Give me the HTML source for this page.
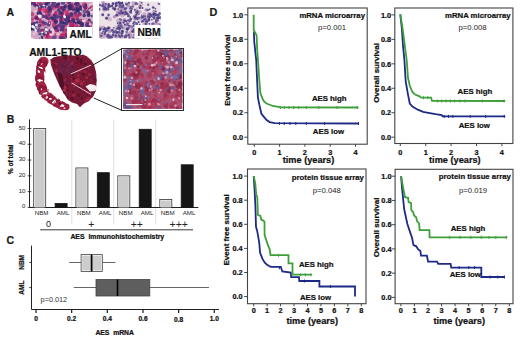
<!DOCTYPE html>
<html><head><meta charset="utf-8"><style>
html,body{margin:0;padding:0;background:#fff;}
body{width:520px;height:338px;overflow:hidden;font-family:"Liberation Sans",sans-serif;}
svg{display:block;}
</style></head><body>
<svg width="520" height="338" viewBox="0 0 520 338" font-family="Liberation Sans, sans-serif">
<defs>
<clipPath id="cAML"><rect x="31" y="2" width="61.6" height="37"/></clipPath>
<clipPath id="cNBM"><rect x="99" y="1.5" width="61.6" height="37"/></clipPath>
<clipPath id="cINS"><rect x="123.2" y="49.5" width="59.1" height="59.3"/></clipPath>
<filter id="blur1"><feGaussianBlur stdDeviation="0.5"/></filter>
</defs>
<rect width="520" height="338" fill="#ffffff"/>
<text x="6.5" y="15.5" font-size="10.5" font-weight="bold" stroke="#1a1a1a" stroke-width="0.22" text-anchor="start" fill="#1a1a1a" >A</text>
<rect x="31" y="2" width="61.6" height="37" fill="#cfa4c4" stroke="none" stroke-width="1" />
<g filter="url(#blur1)">
<g clip-path="url(#cAML)">
<ellipse cx="50.95" cy="7.58" rx="2.23" ry="1.4" transform="rotate(15.47 50.95 7.58)" fill="#d04a80" fill-opacity="0.73"/>
<circle cx="56.76" cy="10.9" r="1.77" fill="#d04a80" fill-opacity="0.74"/>
<ellipse cx="69.65" cy="37.07" rx="2.02" ry="1.62" transform="rotate(21.2 69.65 37.07)" fill="#b02060" fill-opacity="0.71"/>
<ellipse cx="50" cy="32.2" rx="1.95" ry="1.69" transform="rotate(37.07 50 32.2)" fill="#b02060" fill-opacity="0.81"/>
<circle cx="72.91" cy="17.82" r="2.34" fill="#a81e5a" fill-opacity="0.81"/>
<ellipse cx="42.07" cy="30.85" rx="1.92" ry="2.22" transform="rotate(21.25 42.07 30.85)" fill="#a81e5a" fill-opacity="0.96"/>
<circle cx="56.76" cy="30.01" r="2.24" fill="#c02a68" fill-opacity="0.99"/>
<ellipse cx="65.38" cy="31.2" rx="2.13" ry="2.15" transform="rotate(170.04 65.38 31.2)" fill="#cc3a74" fill-opacity="0.88"/>
<ellipse cx="60.2" cy="26.57" rx="2.33" ry="2.11" transform="rotate(120.36 60.2 26.57)" fill="#d04a80" fill-opacity="1"/>
<circle cx="32.39" cy="19.08" r="1.83" fill="#c02a68" fill-opacity="0.77"/>
<ellipse cx="76.48" cy="16.72" rx="2.79" ry="2.31" transform="rotate(155.52 76.48 16.72)" fill="#b02060" fill-opacity="0.83"/>
<circle cx="48.15" cy="17.37" r="2.67" fill="#b02060" fill-opacity="0.75"/>
<circle cx="45.29" cy="10.63" r="2.35" fill="#cc3a74" fill-opacity="0.78"/>
<ellipse cx="63.93" cy="24.56" rx="2.15" ry="1.62" transform="rotate(156.78 63.93 24.56)" fill="#d04a80" fill-opacity="0.99"/>
<ellipse cx="89.64" cy="27.18" rx="1.78" ry="1.55" transform="rotate(37.58 89.64 27.18)" fill="#a81e5a" fill-opacity="0.73"/>
<ellipse cx="41" cy="14.58" rx="1.88" ry="1.24" transform="rotate(37.43 41 14.58)" fill="#b02060" fill-opacity="0.86"/>
<ellipse cx="54.18" cy="25.47" rx="3.06" ry="2.09" transform="rotate(87.09 54.18 25.47)" fill="#a81e5a" fill-opacity="0.74"/>
<circle cx="36.29" cy="5.78" r="1.99" fill="#b02060" fill-opacity="0.85"/>
<circle cx="87.31" cy="30.05" r="2.41" fill="#c02a68" fill-opacity="0.91"/>
<circle cx="53.59" cy="8.18" r="2.29" fill="#d04a80" fill-opacity="0.8"/>
<circle cx="80.99" cy="38.44" r="2.59" fill="#a81e5a" fill-opacity="0.92"/>
<circle cx="62.89" cy="15.16" r="1.73" fill="#cc3a74" fill-opacity="0.84"/>
<circle cx="68.28" cy="14.74" r="2.5" fill="#cc3a74" fill-opacity="0.99"/>
<ellipse cx="44.58" cy="10.39" rx="1.54" ry="2.05" transform="rotate(61.92 44.58 10.39)" fill="#d04a80" fill-opacity="1"/>
<circle cx="70.62" cy="32.88" r="2.13" fill="#b02060" fill-opacity="0.84"/>
<ellipse cx="79.61" cy="14.3" rx="2.33" ry="2.11" transform="rotate(178.76 79.61 14.3)" fill="#a81e5a" fill-opacity="0.84"/>
<ellipse cx="32.7" cy="23.86" rx="2.73" ry="2.03" transform="rotate(98.76 32.7 23.86)" fill="#d04a80" fill-opacity="0.95"/>
<circle cx="39.07" cy="2.53" r="2.41" fill="#d04a80" fill-opacity="0.92"/>
<circle cx="91.77" cy="9.21" r="1.73" fill="#b02060" fill-opacity="0.79"/>
<ellipse cx="67.12" cy="11.6" rx="2.23" ry="1.67" transform="rotate(148.89 67.12 11.6)" fill="#cc3a74" fill-opacity="0.97"/>
<ellipse cx="85.1" cy="6.84" rx="2.69" ry="1.72" transform="rotate(25.48 85.1 6.84)" fill="#a81e5a" fill-opacity="0.93"/>
<ellipse cx="69.14" cy="6.45" rx="2.09" ry="2.26" transform="rotate(44.73 69.14 6.45)" fill="#d04a80" fill-opacity="0.87"/>
<ellipse cx="65.6" cy="30.12" rx="1.97" ry="1.77" transform="rotate(91.47 65.6 30.12)" fill="#d04a80" fill-opacity="0.99"/>
<ellipse cx="80.73" cy="20.79" rx="2.05" ry="2" transform="rotate(74.99 80.73 20.79)" fill="#cc3a74" fill-opacity="0.98"/>
<ellipse cx="55.17" cy="13.69" rx="2.71" ry="1.65" transform="rotate(128.9 55.17 13.69)" fill="#b02060" fill-opacity="0.9"/>
<circle cx="71.67" cy="7.29" r="2.76" fill="#b02060" fill-opacity="0.92"/>
<circle cx="85.51" cy="8.02" r="1.95" fill="#a81e5a" fill-opacity="1"/>
<circle cx="56.95" cy="15.19" r="2.1" fill="#cc3a74" fill-opacity="0.87"/>
<ellipse cx="32.11" cy="14.27" rx="2.07" ry="2.38" transform="rotate(15.13 32.11 14.27)" fill="#c02a68" fill-opacity="0.73"/>
<ellipse cx="47.75" cy="35.52" rx="3.22" ry="2.18" transform="rotate(96.59 47.75 35.52)" fill="#a81e5a" fill-opacity="0.95"/>
<circle cx="62.71" cy="20.3" r="2.01" fill="#b02060" fill-opacity="0.83"/>
<ellipse cx="88.8" cy="25.47" rx="1.84" ry="1.5" transform="rotate(99.55 88.8 25.47)" fill="#b02060" fill-opacity="0.72"/>
<ellipse cx="88.08" cy="11.91" rx="2.12" ry="1.76" transform="rotate(167.8 88.08 11.91)" fill="#b02060" fill-opacity="0.98"/>
<ellipse cx="69.73" cy="21.65" rx="2.84" ry="1.57" transform="rotate(3.32 69.73 21.65)" fill="#b02060" fill-opacity="0.78"/>
<ellipse cx="62.15" cy="38.19" rx="2" ry="1.77" transform="rotate(150.23 62.15 38.19)" fill="#a81e5a" fill-opacity="0.73"/>
<ellipse cx="55.21" cy="20.75" rx="3.24" ry="2.1" transform="rotate(178.1 55.21 20.75)" fill="#cc3a74" fill-opacity="0.76"/>
<circle cx="91.48" cy="32.97" r="2.39" fill="#cc3a74" fill-opacity="0.83"/>
<circle cx="71.98" cy="16.09" r="2.77" fill="#d04a80" fill-opacity="0.77"/>
<ellipse cx="59.3" cy="7.83" rx="1.83" ry="2.16" transform="rotate(55.72 59.3 7.83)" fill="#cc3a74" fill-opacity="0.99"/>
<circle cx="52.97" cy="2.04" r="2.22" fill="#d04a80" fill-opacity="0.9"/>
<circle cx="78.82" cy="5.36" r="1.86" fill="#d04a80" fill-opacity="0.71"/>
<ellipse cx="49.74" cy="10.61" rx="2.83" ry="1.95" transform="rotate(58.7 49.74 10.61)" fill="#b02060" fill-opacity="0.9"/>
<ellipse cx="91.66" cy="7.53" rx="2.54" ry="2.1" transform="rotate(126.19 91.66 7.53)" fill="#c02a68" fill-opacity="0.95"/>
<ellipse cx="62.14" cy="35.67" rx="2.9" ry="2.26" transform="rotate(124.8 62.14 35.67)" fill="#c02a68" fill-opacity="0.95"/>
<circle cx="45.16" cy="3.15" r="2.1" fill="#c02a68" fill-opacity="0.81"/>
<ellipse cx="34.13" cy="2.7" rx="2.31" ry="1.77" transform="rotate(96.34 34.13 2.7)" fill="#cc3a74" fill-opacity="0.7"/>
<circle cx="71.61" cy="4.44" r="1.98" fill="#c02a68" fill-opacity="0.95"/>
<ellipse cx="77.6" cy="10.54" rx="2.08" ry="1.59" transform="rotate(113.9 77.6 10.54)" fill="#a81e5a" fill-opacity="0.72"/>
<circle cx="43.21" cy="24.19" r="2.42" fill="#cc3a74" fill-opacity="0.89"/>
<circle cx="60.72" cy="19.97" r="1.81" fill="#b02060" fill-opacity="0.9"/>
<ellipse cx="62.82" cy="19.19" rx="2.32" ry="1.29" transform="rotate(82.61 62.82 19.19)" fill="#d04a80" fill-opacity="0.76"/>
<ellipse cx="81.51" cy="37.82" rx="1.67" ry="1.47" transform="rotate(134.55 81.51 37.82)" fill="#b02060" fill-opacity="0.97"/>
<ellipse cx="47.13" cy="15.3" rx="2.19" ry="2.54" transform="rotate(87.51 47.13 15.3)" fill="#cc3a74" fill-opacity="0.97"/>
<circle cx="32.53" cy="2.13" r="2.2" fill="#cc3a74" fill-opacity="0.92"/>
<circle cx="54.17" cy="6.47" r="2.06" fill="#cc3a74" fill-opacity="0.95"/>
<circle cx="88.07" cy="28.38" r="2.02" fill="#cc3a74" fill-opacity="0.72"/>
<circle cx="84.59" cy="4.83" r="2.53" fill="#c02a68" fill-opacity="0.78"/>
<circle cx="71.78" cy="25.49" r="2.77" fill="#a81e5a" fill-opacity="0.85"/>
<circle cx="81.02" cy="25.34" r="2.73" fill="#d04a80" fill-opacity="0.76"/>
<ellipse cx="87.17" cy="22.35" rx="2.78" ry="1.73" transform="rotate(118.08 87.17 22.35)" fill="#cc3a74" fill-opacity="0.79"/>
<ellipse cx="49.53" cy="22.62" rx="2.27" ry="1.73" transform="rotate(81.54 49.53 22.62)" fill="#b02060" fill-opacity="0.72"/>
<circle cx="64.74" cy="11.03" r="2.31" fill="#cc3a74" fill-opacity="0.77"/>
<circle cx="66.09" cy="34.83" r="2.15" fill="#a81e5a" fill-opacity="0.92"/>
<ellipse cx="66.38" cy="15.33" rx="2.26" ry="2.19" transform="rotate(77.73 66.38 15.33)" fill="#b02060" fill-opacity="0.73"/>
<circle cx="38.84" cy="17.73" r="2.58" fill="#d04a80" fill-opacity="0.85"/>
<circle cx="88.3" cy="36.34" r="2.21" fill="#a81e5a" fill-opacity="0.77"/>
<ellipse cx="40.51" cy="21.33" rx="2.19" ry="2.05" transform="rotate(102.49 40.51 21.33)" fill="#a81e5a" fill-opacity="0.73"/>
<ellipse cx="69.59" cy="21.55" rx="2.77" ry="2.17" transform="rotate(40.24 69.59 21.55)" fill="#c02a68" fill-opacity="0.72"/>
<ellipse cx="68.03" cy="2.39" rx="2.29" ry="1.75" transform="rotate(44.47 68.03 2.39)" fill="#cc3a74" fill-opacity="0.89"/>
<ellipse cx="90.17" cy="28.07" rx="1.45" ry="1.36" transform="rotate(76.38 90.17 28.07)" fill="#a81e5a" fill-opacity="0.97"/>
<circle cx="53.81" cy="20.24" r="2.49" fill="#cc3a74" fill-opacity="0.9"/>
<ellipse cx="80.1" cy="29.35" rx="1.76" ry="1.52" transform="rotate(136.88 80.1 29.35)" fill="#b02060" fill-opacity="0.79"/>
<circle cx="42.54" cy="10.26" r="2.43" fill="#d04a80" fill-opacity="0.74"/>
<circle cx="44.12" cy="38.04" r="1.76" fill="#c02a68" fill-opacity="0.76"/>
<circle cx="74.86" cy="13.63" r="1.79" fill="#b02060" fill-opacity="0.8"/>
<ellipse cx="88.65" cy="29.61" rx="2.48" ry="1.81" transform="rotate(14.08 88.65 29.61)" fill="#a81e5a" fill-opacity="0.95"/>
<ellipse cx="35.97" cy="17.55" rx="2.21" ry="2.37" transform="rotate(15.8 35.97 17.55)" fill="#b02060" fill-opacity="0.81"/>
<ellipse cx="74.44" cy="9.24" rx="1.79" ry="1.89" transform="rotate(146.13 74.44 9.24)" fill="#cc3a74" fill-opacity="0.81"/>
<ellipse cx="78.23" cy="3.5" rx="2.21" ry="1.48" transform="rotate(49.02 78.23 3.5)" fill="#c02a68" fill-opacity="0.78"/>
<circle cx="89.99" cy="24.83" r="2.49" fill="#cc3a74" fill-opacity="0.98"/>
<circle cx="75.45" cy="24.04" r="2.74" fill="#c02a68" fill-opacity="0.71"/>
<ellipse cx="60.27" cy="37.4" rx="1.84" ry="1.91" transform="rotate(1.57 60.27 37.4)" fill="#cc3a74" fill-opacity="0.97"/>
<circle cx="40.32" cy="10.74" r="2.21" fill="#d04a80" fill-opacity="0.72"/>
<circle cx="77.38" cy="11.15" r="1.74" fill="#d04a80" fill-opacity="0.86"/>
<circle cx="57.28" cy="5.89" r="2.39" fill="#b02060" fill-opacity="0.73"/>
<circle cx="74.72" cy="18.54" r="2.16" fill="#d04a80" fill-opacity="0.97"/>
<ellipse cx="64.18" cy="30.63" rx="2.52" ry="2.55" transform="rotate(35.85 64.18 30.63)" fill="#cc3a74" fill-opacity="0.79"/>
<circle cx="46.24" cy="11.08" r="2.67" fill="#d04a80" fill-opacity="0.76"/>
<ellipse cx="46.5" cy="11.1" rx="2.06" ry="2.15" transform="rotate(147.44 46.5 11.1)" fill="#c02a68" fill-opacity="0.9"/>
<ellipse cx="82.78" cy="35.83" rx="2.46" ry="1.57" transform="rotate(13.52 82.78 35.83)" fill="#c02a68" fill-opacity="0.72"/>
<ellipse cx="62.58" cy="8.58" rx="2.83" ry="2.01" transform="rotate(66.37 62.58 8.58)" fill="#c02a68" fill-opacity="0.73"/>
<ellipse cx="39.71" cy="9.55" rx="2.37" ry="2" transform="rotate(111.78 39.71 9.55)" fill="#b02060" fill-opacity="0.94"/>
<circle cx="35.8" cy="3.16" r="2.23" fill="#a81e5a" fill-opacity="0.73"/>
<circle cx="64.89" cy="25.65" r="1.88" fill="#cc3a74" fill-opacity="0.82"/>
<circle cx="49.95" cy="37.27" r="2.32" fill="#cc3a74" fill-opacity="0.82"/>
<circle cx="78.23" cy="31.68" r="2.13" fill="#a81e5a" fill-opacity="0.76"/>
<circle cx="56.02" cy="34.67" r="1.88" fill="#c02a68" fill-opacity="0.72"/>
<ellipse cx="88.12" cy="29.28" rx="1.78" ry="1.87" transform="rotate(144.87 88.12 29.28)" fill="#b02060" fill-opacity="0.86"/>
<ellipse cx="90.56" cy="9.3" rx="3.06" ry="2.01" transform="rotate(128.22 90.56 9.3)" fill="#a81e5a" fill-opacity="0.79"/>
<ellipse cx="73.39" cy="34.97" rx="3.21" ry="2.04" transform="rotate(39.26 73.39 34.97)" fill="#d04a80" fill-opacity="0.82"/>
<ellipse cx="55.62" cy="21.16" rx="1.65" ry="1.93" transform="rotate(151.65 55.62 21.16)" fill="#b02060" fill-opacity="0.99"/>
<ellipse cx="72.41" cy="26.71" rx="2.03" ry="1.85" transform="rotate(104.87 72.41 26.71)" fill="#a81e5a" fill-opacity="0.87"/>
<ellipse cx="57.23" cy="26.38" rx="2.25" ry="1.92" transform="rotate(111.34 57.23 26.38)" fill="#c02a68" fill-opacity="0.7"/>
<circle cx="81.45" cy="32.95" r="2.14" fill="#c02a68" fill-opacity="0.74"/>
<ellipse cx="36.65" cy="18.35" rx="2.07" ry="1.58" transform="rotate(9.77 36.65 18.35)" fill="#b02060" fill-opacity="0.72"/>
<ellipse cx="62.04" cy="15.98" rx="2.23" ry="1.44" transform="rotate(176.71 62.04 15.98)" fill="#c02a68" fill-opacity="1"/>
<circle cx="61.3" cy="37.4" r="1.88" fill="#b02060" fill-opacity="0.72"/>
<ellipse cx="77.58" cy="7.87" rx="2.52" ry="1.57" transform="rotate(47.32 77.58 7.87)" fill="#a81e5a" fill-opacity="0.74"/>
<circle cx="62.17" cy="13.81" r="1.9" fill="#b02060" fill-opacity="0.89"/>
<ellipse cx="51.19" cy="15.94" rx="2.55" ry="1.75" transform="rotate(93.86 51.19 15.94)" fill="#d04a80" fill-opacity="0.71"/>
</g>
<g clip-path="url(#cAML)">
<circle cx="73.43" cy="35.16" r="1.78" fill="#56357e" fill-opacity="0.92"/>
<circle cx="54.15" cy="15.65" r="1.6" fill="#3a2e72" fill-opacity="0.83"/>
<ellipse cx="76.81" cy="3.79" rx="1.93" ry="1.62" transform="rotate(131.95 76.81 3.79)" fill="#3c2a6c" fill-opacity="0.99"/>
<ellipse cx="77.02" cy="10.2" rx="1.61" ry="1.47" transform="rotate(117.56 77.02 10.2)" fill="#56357e" fill-opacity="0.85"/>
<circle cx="32.37" cy="2.1" r="1.4" fill="#4a3a80" fill-opacity="0.86"/>
<ellipse cx="49.55" cy="6.95" rx="1.89" ry="1.55" transform="rotate(17.24 49.55 6.95)" fill="#2e2866" fill-opacity="0.74"/>
<circle cx="70.31" cy="34.24" r="1.66" fill="#4a3a80" fill-opacity="0.99"/>
<ellipse cx="81.57" cy="35.03" rx="1.68" ry="1.93" transform="rotate(7.92 81.57 35.03)" fill="#443a86" fill-opacity="0.98"/>
<ellipse cx="63.74" cy="17.02" rx="1.72" ry="1.02" transform="rotate(35.91 63.74 17.02)" fill="#3a2e72" fill-opacity="0.7"/>
<circle cx="68.46" cy="20.76" r="2.03" fill="#2e2866" fill-opacity="0.85"/>
<ellipse cx="69.56" cy="38.78" rx="2.03" ry="1.53" transform="rotate(133.52 69.56 38.78)" fill="#443a86" fill-opacity="0.7"/>
<ellipse cx="58.87" cy="10.36" rx="1.91" ry="1.63" transform="rotate(47.39 58.87 10.36)" fill="#3a2e72" fill-opacity="0.74"/>
<circle cx="34.24" cy="25.53" r="1.92" fill="#443a86" fill-opacity="0.99"/>
<circle cx="88.2" cy="35.08" r="1.76" fill="#2e2866" fill-opacity="0.78"/>
<circle cx="76.82" cy="36.95" r="1.59" fill="#56357e" fill-opacity="0.8"/>
<ellipse cx="86.91" cy="25.34" rx="2.18" ry="1.98" transform="rotate(78.7 86.91 25.34)" fill="#443a86" fill-opacity="0.84"/>
<ellipse cx="75.64" cy="23.1" rx="1.32" ry="1.06" transform="rotate(20.14 75.64 23.1)" fill="#443a86" fill-opacity="0.88"/>
<ellipse cx="69.31" cy="7.99" rx="2.16" ry="1.89" transform="rotate(132.62 69.31 7.99)" fill="#3a2e72" fill-opacity="0.71"/>
<circle cx="35.05" cy="23.85" r="2.04" fill="#443a86" fill-opacity="0.97"/>
<circle cx="84.46" cy="35.83" r="1.4" fill="#2e2866" fill-opacity="0.76"/>
<circle cx="89.47" cy="35.71" r="1.38" fill="#3c2a6c" fill-opacity="0.89"/>
<ellipse cx="49.14" cy="14.45" rx="2.03" ry="1.63" transform="rotate(108.36 49.14 14.45)" fill="#4a3a80" fill-opacity="0.71"/>
<ellipse cx="60.33" cy="12.64" rx="1.96" ry="1.97" transform="rotate(96.82 60.33 12.64)" fill="#3a2e72" fill-opacity="0.83"/>
<ellipse cx="44.34" cy="33.9" rx="1.92" ry="2.04" transform="rotate(9.71 44.34 33.9)" fill="#2e2866" fill-opacity="0.83"/>
<ellipse cx="52.42" cy="5.54" rx="2.16" ry="1.9" transform="rotate(28.6 52.42 5.54)" fill="#56357e" fill-opacity="0.88"/>
<circle cx="81.22" cy="36.72" r="1.45" fill="#3c2a6c" fill-opacity="0.93"/>
<circle cx="92.05" cy="22.77" r="1.59" fill="#3a2e72" fill-opacity="0.82"/>
<circle cx="85.85" cy="5.19" r="1.32" fill="#2e2866" fill-opacity="0.79"/>
<ellipse cx="64.57" cy="8.33" rx="2.14" ry="1.76" transform="rotate(6.1 64.57 8.33)" fill="#56357e" fill-opacity="0.74"/>
<circle cx="66.83" cy="21.3" r="1.71" fill="#443a86" fill-opacity="0.92"/>
<ellipse cx="58.03" cy="30.62" rx="1.49" ry="1.14" transform="rotate(135.85 58.03 30.62)" fill="#56357e" fill-opacity="0.89"/>
<ellipse cx="81.91" cy="24.84" rx="1.92" ry="1.81" transform="rotate(34.07 81.91 24.84)" fill="#3c2a6c" fill-opacity="0.8"/>
<circle cx="91.07" cy="28.96" r="2.17" fill="#3a2e72" fill-opacity="0.76"/>
<circle cx="40.14" cy="13.18" r="1.55" fill="#3a2e72" fill-opacity="0.89"/>
<ellipse cx="43.72" cy="16.37" rx="1.85" ry="1.47" transform="rotate(25.53 43.72 16.37)" fill="#56357e" fill-opacity="0.91"/>
<ellipse cx="68.19" cy="16.97" rx="2.38" ry="2.2" transform="rotate(120.22 68.19 16.97)" fill="#56357e" fill-opacity="0.91"/>
<ellipse cx="71.19" cy="34.47" rx="1.87" ry="1.51" transform="rotate(113.09 71.19 34.47)" fill="#2e2866" fill-opacity="0.9"/>
<ellipse cx="37.03" cy="17.52" rx="2.02" ry="1.37" transform="rotate(154.54 37.03 17.52)" fill="#3c2a6c" fill-opacity="0.75"/>
<circle cx="62.92" cy="26.46" r="2.11" fill="#4a3a80" fill-opacity="0.93"/>
<ellipse cx="61.17" cy="38.06" rx="1.61" ry="1.5" transform="rotate(152.49 61.17 38.06)" fill="#2e2866" fill-opacity="0.91"/>
<circle cx="59.14" cy="9.58" r="1.31" fill="#4a3a80" fill-opacity="0.86"/>
<ellipse cx="89.4" cy="9.77" rx="1.85" ry="1.32" transform="rotate(68.73 89.4 9.77)" fill="#3a2e72" fill-opacity="0.92"/>
<circle cx="34.79" cy="4.78" r="1.87" fill="#3c2a6c" fill-opacity="0.81"/>
<ellipse cx="63.47" cy="10.1" rx="1.38" ry="1.68" transform="rotate(34.77 63.47 10.1)" fill="#2e2866" fill-opacity="0.75"/>
<ellipse cx="70.56" cy="28.67" rx="1.73" ry="1.27" transform="rotate(52.98 70.56 28.67)" fill="#3c2a6c" fill-opacity="0.89"/>
<circle cx="64.77" cy="6.63" r="1.62" fill="#2e2866" fill-opacity="0.78"/>
<circle cx="46.62" cy="17.77" r="1.3" fill="#3c2a6c" fill-opacity="0.94"/>
<circle cx="71.31" cy="13.85" r="1.86" fill="#3a2e72" fill-opacity="0.9"/>
<circle cx="88.21" cy="33.61" r="2.05" fill="#4a3a80" fill-opacity="0.94"/>
<circle cx="82.21" cy="25.43" r="1.31" fill="#3a2e72" fill-opacity="0.9"/>
<circle cx="37.25" cy="7.28" r="2" fill="#4a3a80" fill-opacity="0.94"/>
<ellipse cx="55.79" cy="21.78" rx="2.29" ry="1.99" transform="rotate(35.53 55.79 21.78)" fill="#3a2e72" fill-opacity="0.9"/>
<circle cx="73.68" cy="21.64" r="1.69" fill="#3a2e72" fill-opacity="0.87"/>
<ellipse cx="45.43" cy="7.16" rx="1.25" ry="1.04" transform="rotate(107.93 45.43 7.16)" fill="#56357e" fill-opacity="0.97"/>
<ellipse cx="76.25" cy="7.93" rx="1.9" ry="1.67" transform="rotate(172.91 76.25 7.93)" fill="#56357e" fill-opacity="0.9"/>
<ellipse cx="35.64" cy="25.57" rx="1.72" ry="1.36" transform="rotate(16.92 35.64 25.57)" fill="#443a86" fill-opacity="0.71"/>
<circle cx="60.82" cy="30.02" r="1.49" fill="#56357e" fill-opacity="0.89"/>
<circle cx="84.08" cy="15.55" r="1.77" fill="#2e2866" fill-opacity="0.79"/>
<ellipse cx="46.5" cy="3.95" rx="1.52" ry="1.46" transform="rotate(175.5 46.5 3.95)" fill="#56357e" fill-opacity="0.82"/>
<ellipse cx="71.32" cy="31.3" rx="1.34" ry="1.74" transform="rotate(71.8 71.32 31.3)" fill="#4a3a80" fill-opacity="0.74"/>
<circle cx="65.14" cy="17.02" r="1.66" fill="#3a2e72" fill-opacity="0.7"/>
<ellipse cx="87.76" cy="24.52" rx="2.24" ry="1.97" transform="rotate(107.34 87.76 24.52)" fill="#443a86" fill-opacity="0.88"/>
<circle cx="72.95" cy="9.86" r="1.71" fill="#2e2866" fill-opacity="0.73"/>
<ellipse cx="71.39" cy="15.65" rx="1.79" ry="1.43" transform="rotate(3.67 71.39 15.65)" fill="#443a86" fill-opacity="0.91"/>
<circle cx="65.89" cy="23.4" r="1.75" fill="#443a86" fill-opacity="0.71"/>
<ellipse cx="80.92" cy="23.29" rx="2.21" ry="1.64" transform="rotate(27.95 80.92 23.29)" fill="#3a2e72" fill-opacity="0.9"/>
<circle cx="78.43" cy="22.31" r="1.72" fill="#2e2866" fill-opacity="0.89"/>
<circle cx="31.57" cy="26.77" r="2.07" fill="#2e2866" fill-opacity="0.96"/>
<circle cx="32.1" cy="28.62" r="1.96" fill="#2e2866" fill-opacity="0.98"/>
<ellipse cx="77.03" cy="27.71" rx="2.04" ry="2.13" transform="rotate(45.73 77.03 27.71)" fill="#4a3a80" fill-opacity="0.89"/>
<ellipse cx="90.4" cy="28.54" rx="1.31" ry="1.08" transform="rotate(108.02 90.4 28.54)" fill="#3c2a6c" fill-opacity="0.91"/>
<circle cx="89.99" cy="32.89" r="1.58" fill="#443a86" fill-opacity="0.92"/>
<circle cx="41.25" cy="37.76" r="2.16" fill="#2e2866" fill-opacity="0.89"/>
<ellipse cx="79.33" cy="22.97" rx="1.31" ry="1.28" transform="rotate(175.94 79.33 22.97)" fill="#3c2a6c" fill-opacity="0.91"/>
<ellipse cx="82.21" cy="24.24" rx="1.86" ry="1.78" transform="rotate(145.35 82.21 24.24)" fill="#2e2866" fill-opacity="0.81"/>
<ellipse cx="48.45" cy="2.06" rx="2" ry="1.37" transform="rotate(25.32 48.45 2.06)" fill="#443a86" fill-opacity="0.98"/>
<ellipse cx="85.86" cy="38.73" rx="2.12" ry="1.6" transform="rotate(99.66 85.86 38.73)" fill="#443a86" fill-opacity="0.91"/>
<circle cx="80.12" cy="9.42" r="2.14" fill="#2e2866" fill-opacity="0.79"/>
<circle cx="55.36" cy="28.21" r="1.83" fill="#3a2e72" fill-opacity="0.94"/>
<ellipse cx="45.34" cy="23.44" rx="1.89" ry="1.65" transform="rotate(16.59 45.34 23.44)" fill="#443a86" fill-opacity="0.8"/>
<circle cx="84.37" cy="15.75" r="1.37" fill="#4a3a80" fill-opacity="0.88"/>
<ellipse cx="63" cy="2.76" rx="2.04" ry="2.22" transform="rotate(76.67 63 2.76)" fill="#443a86" fill-opacity="0.85"/>
<circle cx="89.3" cy="30.39" r="2.17" fill="#4a3a80" fill-opacity="0.95"/>
<circle cx="92.27" cy="15.99" r="1.33" fill="#4a3a80" fill-opacity="0.96"/>
<ellipse cx="89.35" cy="35.67" rx="1.55" ry="1.52" transform="rotate(41.98 89.35 35.67)" fill="#56357e" fill-opacity="0.98"/>
<ellipse cx="45.48" cy="28.67" rx="1.75" ry="2.29" transform="rotate(46.42 45.48 28.67)" fill="#4a3a80" fill-opacity="0.72"/>
<ellipse cx="62.62" cy="29.36" rx="2.2" ry="1.68" transform="rotate(53.78 62.62 29.36)" fill="#3a2e72" fill-opacity="0.74"/>
<circle cx="67.43" cy="30.04" r="1.59" fill="#4a3a80" fill-opacity="0.82"/>
<ellipse cx="54.39" cy="18.33" rx="2.55" ry="1.62" transform="rotate(149.91 54.39 18.33)" fill="#3a2e72" fill-opacity="0.84"/>
<ellipse cx="35.79" cy="24.89" rx="1.96" ry="1.4" transform="rotate(13.53 35.79 24.89)" fill="#56357e" fill-opacity="0.99"/>
<circle cx="90.89" cy="13.93" r="1.4" fill="#4a3a80" fill-opacity="0.74"/>
<ellipse cx="39.91" cy="34.22" rx="1.58" ry="1.71" transform="rotate(46.92 39.91 34.22)" fill="#2e2866" fill-opacity="0.71"/>
<ellipse cx="37.73" cy="18.88" rx="1.63" ry="1.13" transform="rotate(85.94 37.73 18.88)" fill="#443a86" fill-opacity="0.72"/>
<ellipse cx="48.63" cy="11.54" rx="1.38" ry="1.33" transform="rotate(161.32 48.63 11.54)" fill="#4a3a80" fill-opacity="1"/>
<ellipse cx="34.54" cy="28.88" rx="2.3" ry="1.91" transform="rotate(142.12 34.54 28.88)" fill="#3a2e72" fill-opacity="0.83"/>
<ellipse cx="89.13" cy="12.6" rx="1.16" ry="1.03" transform="rotate(138.68 89.13 12.6)" fill="#56357e" fill-opacity="0.77"/>
<ellipse cx="74.84" cy="9.28" rx="1.22" ry="1.04" transform="rotate(120.58 74.84 9.28)" fill="#443a86" fill-opacity="0.92"/>
<circle cx="69.71" cy="9.11" r="1.31" fill="#3c2a6c" fill-opacity="0.92"/>
<circle cx="75.45" cy="4.05" r="1.6" fill="#3c2a6c" fill-opacity="0.96"/>
<ellipse cx="84.72" cy="11.85" rx="2.23" ry="2.14" transform="rotate(64.11 84.72 11.85)" fill="#4a3a80" fill-opacity="0.71"/>
<ellipse cx="88.42" cy="37.84" rx="1.56" ry="1.6" transform="rotate(68.65 88.42 37.84)" fill="#2e2866" fill-opacity="0.94"/>
<circle cx="77.28" cy="4.26" r="2.16" fill="#56357e" fill-opacity="0.83"/>
<circle cx="80.56" cy="6.97" r="1.38" fill="#443a86" fill-opacity="0.75"/>
<circle cx="46.43" cy="32.23" r="1.39" fill="#3c2a6c" fill-opacity="0.92"/>
<ellipse cx="82.58" cy="25.56" rx="1.75" ry="1.09" transform="rotate(22.15 82.58 25.56)" fill="#56357e" fill-opacity="0.73"/>
<ellipse cx="61.41" cy="20.53" rx="1.29" ry="1.11" transform="rotate(120.38 61.41 20.53)" fill="#56357e" fill-opacity="0.97"/>
<circle cx="59.46" cy="16.67" r="1.32" fill="#3c2a6c" fill-opacity="0.82"/>
<circle cx="82.73" cy="21.45" r="2.15" fill="#4a3a80" fill-opacity="0.8"/>
<ellipse cx="51.64" cy="18.12" rx="1.67" ry="1.84" transform="rotate(172.41 51.64 18.12)" fill="#4a3a80" fill-opacity="0.94"/>
<circle cx="88.55" cy="11.22" r="1.87" fill="#4a3a80" fill-opacity="0.73"/>
<ellipse cx="50.98" cy="9.43" rx="1.91" ry="1.43" transform="rotate(145.67 50.98 9.43)" fill="#56357e" fill-opacity="0.99"/>
<ellipse cx="85.48" cy="34.73" rx="2.09" ry="1.92" transform="rotate(6.44 85.48 34.73)" fill="#4a3a80" fill-opacity="0.98"/>
<circle cx="37.19" cy="6.5" r="1.51" fill="#3a2e72" fill-opacity="0.79"/>
<circle cx="70.89" cy="6.45" r="2.16" fill="#443a86" fill-opacity="0.97"/>
<ellipse cx="67.36" cy="36.48" rx="1.65" ry="1.75" transform="rotate(133.27 67.36 36.48)" fill="#4a3a80" fill-opacity="0.97"/>
<ellipse cx="48.69" cy="18.8" rx="1.55" ry="1.38" transform="rotate(110.3 48.69 18.8)" fill="#56357e" fill-opacity="0.76"/>
<ellipse cx="59.89" cy="13.49" rx="1.5" ry="1.6" transform="rotate(29.21 59.89 13.49)" fill="#443a86" fill-opacity="0.86"/>
<ellipse cx="89.65" cy="13.99" rx="1.36" ry="1.12" transform="rotate(156.83 89.65 13.99)" fill="#2e2866" fill-opacity="0.79"/>
<ellipse cx="58.1" cy="4.29" rx="2.2" ry="1.65" transform="rotate(168.11 58.1 4.29)" fill="#3c2a6c" fill-opacity="0.93"/>
<ellipse cx="56.67" cy="26.72" rx="1.57" ry="1.48" transform="rotate(133.79 56.67 26.72)" fill="#443a86" fill-opacity="0.95"/>
<ellipse cx="77.8" cy="19.58" rx="1.55" ry="1.95" transform="rotate(105.45 77.8 19.58)" fill="#3c2a6c" fill-opacity="0.74"/>
<ellipse cx="61.67" cy="37.62" rx="1.66" ry="1.48" transform="rotate(82.42 61.67 37.62)" fill="#4a3a80" fill-opacity="0.96"/>
<circle cx="75.54" cy="12.84" r="1.8" fill="#56357e" fill-opacity="0.89"/>
<circle cx="76.94" cy="38.62" r="1.57" fill="#443a86" fill-opacity="0.79"/>
<ellipse cx="66.45" cy="23.52" rx="1.96" ry="1.77" transform="rotate(174.98 66.45 23.52)" fill="#4a3a80" fill-opacity="0.99"/>
<ellipse cx="85.9" cy="37.37" rx="1.46" ry="1.45" transform="rotate(78.69 85.9 37.37)" fill="#56357e" fill-opacity="0.79"/>
<circle cx="81.86" cy="28.9" r="1.72" fill="#3a2e72" fill-opacity="0.88"/>
<ellipse cx="89.39" cy="27.03" rx="1.76" ry="1.06" transform="rotate(33.88 89.39 27.03)" fill="#4a3a80" fill-opacity="0.85"/>
<ellipse cx="56.95" cy="16.86" rx="2.55" ry="1.62" transform="rotate(57.25 56.95 16.86)" fill="#443a86" fill-opacity="0.8"/>
<ellipse cx="91.27" cy="32.56" rx="1.81" ry="1.48" transform="rotate(75.76 91.27 32.56)" fill="#4a3a80" fill-opacity="0.91"/>
<circle cx="40.63" cy="12.73" r="1.75" fill="#2e2866" fill-opacity="0.82"/>
<circle cx="65.8" cy="5.94" r="1.87" fill="#3c2a6c" fill-opacity="0.71"/>
<circle cx="79.52" cy="13.35" r="1.3" fill="#4a3a80" fill-opacity="0.82"/>
<ellipse cx="31.95" cy="3.09" rx="2.12" ry="2.19" transform="rotate(103.4 31.95 3.09)" fill="#443a86" fill-opacity="0.78"/>
<circle cx="56.32" cy="6.5" r="1.98" fill="#3a2e72" fill-opacity="0.71"/>
<ellipse cx="89.39" cy="20.15" rx="1.84" ry="1.28" transform="rotate(42.89 89.39 20.15)" fill="#3a2e72" fill-opacity="0.9"/>
<circle cx="47.97" cy="3.22" r="2.07" fill="#443a86" fill-opacity="0.72"/>
<ellipse cx="69.44" cy="2.72" rx="1.53" ry="1.19" transform="rotate(167.55 69.44 2.72)" fill="#3a2e72" fill-opacity="0.83"/>
<ellipse cx="45.96" cy="16.42" rx="1.22" ry="1.57" transform="rotate(15.74 45.96 16.42)" fill="#4a3a80" fill-opacity="0.82"/>
<circle cx="41.47" cy="16.02" r="2.09" fill="#56357e" fill-opacity="0.87"/>
<ellipse cx="63.88" cy="16.27" rx="1.46" ry="1.16" transform="rotate(84.06 63.88 16.27)" fill="#3a2e72" fill-opacity="0.83"/>
<circle cx="52.22" cy="18.12" r="1.32" fill="#2e2866" fill-opacity="0.77"/>
<ellipse cx="43.09" cy="22.16" rx="1.58" ry="1.51" transform="rotate(130.04 43.09 22.16)" fill="#56357e" fill-opacity="0.95"/>
<ellipse cx="54.22" cy="37.46" rx="2.45" ry="2.32" transform="rotate(179.63 54.22 37.46)" fill="#443a86" fill-opacity="0.76"/>
<circle cx="67.71" cy="18.29" r="1.78" fill="#56357e" fill-opacity="0.88"/>
<ellipse cx="84.74" cy="6.54" rx="1.46" ry="1.77" transform="rotate(26.11 84.74 6.54)" fill="#4a3a80" fill-opacity="0.92"/>
<circle cx="78.81" cy="10.57" r="2.1" fill="#3a2e72" fill-opacity="0.87"/>
<ellipse cx="61.82" cy="12.99" rx="1.58" ry="1.33" transform="rotate(151.99 61.82 12.99)" fill="#2e2866" fill-opacity="0.79"/>
<circle cx="59.61" cy="25.24" r="2.08" fill="#4a3a80" fill-opacity="0.75"/>
<circle cx="80.24" cy="27.57" r="1.32" fill="#3c2a6c" fill-opacity="0.91"/>
<circle cx="42.19" cy="6.26" r="1.96" fill="#3c2a6c" fill-opacity="0.9"/>
<circle cx="68.49" cy="17.94" r="1.44" fill="#3c2a6c" fill-opacity="0.71"/>
<ellipse cx="70.32" cy="8.65" rx="2.06" ry="1.69" transform="rotate(168.42 70.32 8.65)" fill="#3c2a6c" fill-opacity="0.86"/>
<circle cx="86.51" cy="34.38" r="1.93" fill="#2e2866" fill-opacity="0.9"/>
<circle cx="50.62" cy="30.75" r="2.12" fill="#56357e" fill-opacity="0.91"/>
<circle cx="77.05" cy="32.66" r="1.38" fill="#56357e" fill-opacity="0.83"/>
<ellipse cx="61.99" cy="27.47" rx="1.89" ry="1.69" transform="rotate(167.06 61.99 27.47)" fill="#443a86" fill-opacity="0.72"/>
<ellipse cx="38.86" cy="30.19" rx="2.48" ry="1.85" transform="rotate(97.91 38.86 30.19)" fill="#443a86" fill-opacity="0.78"/>
<circle cx="46.38" cy="4.2" r="1.67" fill="#2e2866" fill-opacity="0.89"/>
<circle cx="73.27" cy="20" r="1.94" fill="#3a2e72" fill-opacity="0.85"/>
<circle cx="88.65" cy="15" r="2.1" fill="#2e2866" fill-opacity="0.88"/>
<ellipse cx="69.77" cy="6.36" rx="2.21" ry="2.16" transform="rotate(149.61 69.77 6.36)" fill="#3c2a6c" fill-opacity="0.9"/>
<circle cx="38.05" cy="12.71" r="1.49" fill="#3a2e72" fill-opacity="0.97"/>
<circle cx="37.81" cy="13.43" r="1.45" fill="#56357e" fill-opacity="0.84"/>
<ellipse cx="41.35" cy="4.66" rx="2.83" ry="2.03" transform="rotate(19.58 41.35 4.66)" fill="#56357e" fill-opacity="0.73"/>
<circle cx="61.11" cy="18.07" r="1.79" fill="#3a2e72" fill-opacity="0.81"/>
<circle cx="48.62" cy="24.69" r="1.93" fill="#3c2a6c" fill-opacity="0.77"/>
<ellipse cx="49.25" cy="8.87" rx="2.5" ry="2.05" transform="rotate(58.8 49.25 8.87)" fill="#3c2a6c" fill-opacity="0.75"/>
<ellipse cx="42.37" cy="32.54" rx="1.51" ry="1.18" transform="rotate(19.3 42.37 32.54)" fill="#443a86" fill-opacity="0.98"/>
<circle cx="80.45" cy="36.08" r="1.66" fill="#3a2e72" fill-opacity="0.98"/>
<circle cx="61.77" cy="7.83" r="1.82" fill="#3a2e72" fill-opacity="0.74"/>
<circle cx="39.52" cy="25.56" r="2.18" fill="#56357e" fill-opacity="0.84"/>
<circle cx="53.95" cy="3.18" r="2.05" fill="#443a86" fill-opacity="0.83"/>
<ellipse cx="71.76" cy="21.04" rx="1.43" ry="1.59" transform="rotate(68.19 71.76 21.04)" fill="#56357e" fill-opacity="0.7"/>
<ellipse cx="65.96" cy="19.35" rx="2.18" ry="1.92" transform="rotate(173.13 65.96 19.35)" fill="#56357e" fill-opacity="0.99"/>
<ellipse cx="69.18" cy="32.01" rx="1.93" ry="1.62" transform="rotate(118.17 69.18 32.01)" fill="#443a86" fill-opacity="0.9"/>
<ellipse cx="70.04" cy="33.38" rx="1.94" ry="1.83" transform="rotate(74.95 70.04 33.38)" fill="#3c2a6c" fill-opacity="0.73"/>
<circle cx="63.65" cy="22.9" r="1.4" fill="#2e2866" fill-opacity="0.99"/>
<circle cx="77.19" cy="10.19" r="1.88" fill="#2e2866" fill-opacity="0.86"/>
<ellipse cx="61.14" cy="22.5" rx="1.97" ry="1.89" transform="rotate(122.31 61.14 22.5)" fill="#3a2e72" fill-opacity="0.92"/>
<ellipse cx="80.3" cy="6.97" rx="1.86" ry="1.55" transform="rotate(123.47 80.3 6.97)" fill="#3a2e72" fill-opacity="0.89"/>
<ellipse cx="64.53" cy="37.81" rx="1.43" ry="1.37" transform="rotate(67.02 64.53 37.81)" fill="#3a2e72" fill-opacity="0.74"/>
<ellipse cx="31.93" cy="23.99" rx="1.32" ry="1.72" transform="rotate(36.29 31.93 23.99)" fill="#3c2a6c" fill-opacity="0.74"/>
<ellipse cx="76.34" cy="2.43" rx="1.76" ry="1.09" transform="rotate(108.68 76.34 2.43)" fill="#443a86" fill-opacity="0.92"/>
<circle cx="37.14" cy="22.31" r="1.4" fill="#3c2a6c" fill-opacity="0.77"/>
</g>
<g clip-path="url(#cAML)">
<ellipse cx="35.54" cy="11.56" rx="1.69" ry="1.24" transform="rotate(179.51 35.54 11.56)" fill="#f2c8d8" fill-opacity="0.9"/>
<circle cx="32.53" cy="38.8" r="1.19" fill="#f6dce6" fill-opacity="0.94"/>
<ellipse cx="42.23" cy="32.28" rx="1.14" ry="0.88" transform="rotate(172.43 42.23 32.28)" fill="#ffffff" fill-opacity="0.99"/>
<ellipse cx="39.85" cy="16.22" rx="2.04" ry="1.75" transform="rotate(6.14 39.85 16.22)" fill="#ffffff" fill-opacity="0.87"/>
<ellipse cx="64.93" cy="17.02" rx="1.13" ry="1.13" transform="rotate(145.66 64.93 17.02)" fill="#ffffff" fill-opacity="0.97"/>
<ellipse cx="90.49" cy="4.72" rx="1.99" ry="1.3" transform="rotate(139.4 90.49 4.72)" fill="#f2c8d8" fill-opacity="0.75"/>
<circle cx="57.38" cy="34.13" r="1.19" fill="#f6dce6" fill-opacity="0.78"/>
<circle cx="90.33" cy="24.24" r="1.45" fill="#f2c8d8" fill-opacity="0.8"/>
<circle cx="51.13" cy="29.73" r="1.12" fill="#f2c8d8" fill-opacity="0.94"/>
<circle cx="84.18" cy="31.46" r="1.29" fill="#ffffff" fill-opacity="1"/>
<circle cx="88.92" cy="34.31" r="1.05" fill="#f2c8d8" fill-opacity="1"/>
<circle cx="36.76" cy="7.78" r="1.41" fill="#f6dce6" fill-opacity="0.81"/>
<ellipse cx="40.45" cy="38.31" rx="1.16" ry="0.99" transform="rotate(55.67 40.45 38.31)" fill="#f2c8d8" fill-opacity="0.78"/>
<ellipse cx="36.54" cy="3.03" rx="0.79" ry="0.8" transform="rotate(132.77 36.54 3.03)" fill="#f2c8d8" fill-opacity="0.76"/>
<circle cx="32.63" cy="26.42" r="1.45" fill="#ffffff" fill-opacity="0.9"/>
<ellipse cx="89.94" cy="9.85" rx="1.76" ry="1.1" transform="rotate(155.51 89.94 9.85)" fill="#f2c8d8" fill-opacity="0.81"/>
<circle cx="92.28" cy="13.01" r="0.89" fill="#f6dce6" fill-opacity="0.74"/>
<circle cx="51.68" cy="35.11" r="0.96" fill="#f2c8d8" fill-opacity="0.91"/>
<circle cx="50.5" cy="34.51" r="1.19" fill="#f6dce6" fill-opacity="0.86"/>
<circle cx="82.72" cy="37.42" r="1.58" fill="#f6dce6" fill-opacity="0.92"/>
<ellipse cx="41.92" cy="11.79" rx="1.06" ry="0.67" transform="rotate(58.63 41.92 11.79)" fill="#f2c8d8" fill-opacity="0.71"/>
<ellipse cx="64.26" cy="16.17" rx="1.57" ry="1.12" transform="rotate(90.19 64.26 16.17)" fill="#ffffff" fill-opacity="0.94"/>
<circle cx="36.35" cy="24.97" r="1.37" fill="#ffffff" fill-opacity="0.91"/>
<ellipse cx="83.57" cy="20.87" rx="1.97" ry="1.34" transform="rotate(11.54 83.57 20.87)" fill="#f6dce6" fill-opacity="0.95"/>
<ellipse cx="91.12" cy="11.86" rx="1.33" ry="1.38" transform="rotate(47.69 91.12 11.86)" fill="#f6dce6" fill-opacity="0.89"/>
<circle cx="39.75" cy="36.31" r="1.22" fill="#f2c8d8" fill-opacity="0.75"/>
<circle cx="53.28" cy="33.95" r="1.13" fill="#f2c8d8" fill-opacity="0.78"/>
<circle cx="52.97" cy="31.72" r="1.16" fill="#f6dce6" fill-opacity="0.78"/>
<circle cx="80.38" cy="11.36" r="0.8" fill="#ffffff" fill-opacity="0.72"/>
<circle cx="45.9" cy="32.86" r="1.31" fill="#f6dce6" fill-opacity="0.76"/>
<ellipse cx="35.36" cy="29.97" rx="1.46" ry="0.91" transform="rotate(101.43 35.36 29.97)" fill="#ffffff" fill-opacity="0.98"/>
<ellipse cx="92.29" cy="8.52" rx="1.27" ry="1.11" transform="rotate(72.3 92.29 8.52)" fill="#f6dce6" fill-opacity="0.85"/>
<circle cx="33.5" cy="27.15" r="1.42" fill="#ffffff" fill-opacity="0.74"/>
<circle cx="35.75" cy="32.25" r="0.87" fill="#f6dce6" fill-opacity="0.87"/>
<ellipse cx="34.37" cy="27.57" rx="1.11" ry="1.06" transform="rotate(93.28 34.37 27.57)" fill="#ffffff" fill-opacity="0.95"/>
<ellipse cx="31.37" cy="38.58" rx="0.96" ry="0.87" transform="rotate(159.44 31.37 38.58)" fill="#ffffff" fill-opacity="0.82"/>
<circle cx="71.9" cy="28.98" r="0.85" fill="#f2c8d8" fill-opacity="0.95"/>
<ellipse cx="43.9" cy="38.01" rx="0.93" ry="0.98" transform="rotate(115.07 43.9 38.01)" fill="#f2c8d8" fill-opacity="0.83"/>
<ellipse cx="34.02" cy="33.92" rx="1.49" ry="0.98" transform="rotate(39.75 34.02 33.92)" fill="#f6dce6" fill-opacity="0.7"/>
<circle cx="43.42" cy="5.39" r="0.98" fill="#ffffff" fill-opacity="0.91"/>
<circle cx="91.01" cy="14.12" r="1.03" fill="#f2c8d8" fill-opacity="0.86"/>
<circle cx="52.43" cy="29.76" r="1.54" fill="#f6dce6" fill-opacity="0.76"/>
<ellipse cx="49.47" cy="23.46" rx="0.66" ry="0.67" transform="rotate(80.93 49.47 23.46)" fill="#f6dce6" fill-opacity="0.98"/>
<ellipse cx="46.24" cy="29.47" rx="1.47" ry="1.43" transform="rotate(20.33 46.24 29.47)" fill="#ffffff" fill-opacity="0.94"/>
<ellipse cx="40.94" cy="16.55" rx="0.72" ry="0.77" transform="rotate(63.52 40.94 16.55)" fill="#f2c8d8" fill-opacity="0.73"/>
</g>
</g>
<rect x="67" y="27" width="25.6" height="12" fill="#ffffff" stroke="none" stroke-width="1" />
<text x="69.6" y="37.7" font-size="10.2" font-weight="bold" stroke="#111" stroke-width="0.22" text-anchor="start" fill="#111" >AML</text>
<rect x="99" y="1.5" width="61.6" height="37" fill="#ede2e6" stroke="none" stroke-width="1" />
<g filter="url(#blur1)">
<g clip-path="url(#cNBM)">
<ellipse cx="122.08" cy="26.04" rx="1.98" ry="1.43" transform="rotate(26.83 122.08 26.04)" fill="#bc98bc" fill-opacity="0.67"/>
<circle cx="104.79" cy="34.03" r="2" fill="#bc98bc" fill-opacity="0.66"/>
<circle cx="134.01" cy="3.06" r="2.54" fill="#b48cb4" fill-opacity="0.7"/>
<ellipse cx="129.91" cy="34.45" rx="2.29" ry="2.53" transform="rotate(15.67 129.91 34.45)" fill="#a888b8" fill-opacity="0.9"/>
<ellipse cx="125.12" cy="24.6" rx="1.91" ry="1.95" transform="rotate(141.12 125.12 24.6)" fill="#bc98bc" fill-opacity="0.54"/>
<circle cx="135.91" cy="37.87" r="2.14" fill="#c8a8c4" fill-opacity="0.91"/>
<circle cx="99.66" cy="36.29" r="1.89" fill="#bc98bc" fill-opacity="0.89"/>
<circle cx="130.5" cy="7.68" r="2.32" fill="#c8a8c4" fill-opacity="0.6"/>
<ellipse cx="147.76" cy="19.25" rx="2.1" ry="2.22" transform="rotate(152.23 147.76 19.25)" fill="#bc98bc" fill-opacity="0.88"/>
<ellipse cx="120.51" cy="7.5" rx="2.8" ry="2.34" transform="rotate(134.09 120.51 7.5)" fill="#a888b8" fill-opacity="0.57"/>
<ellipse cx="150.28" cy="31.18" rx="2.17" ry="1.83" transform="rotate(12.25 150.28 31.18)" fill="#b48cb4" fill-opacity="0.87"/>
<circle cx="147.24" cy="31.18" r="2.42" fill="#c8a8c4" fill-opacity="0.6"/>
<circle cx="141.22" cy="27.78" r="2.34" fill="#b48cb4" fill-opacity="0.91"/>
<ellipse cx="119.92" cy="23.51" rx="3" ry="2.47" transform="rotate(85.57 119.92 23.51)" fill="#bc98bc" fill-opacity="0.65"/>
<ellipse cx="124.31" cy="12.58" rx="2.28" ry="1.68" transform="rotate(15.84 124.31 12.58)" fill="#bc98bc" fill-opacity="0.68"/>
<ellipse cx="115.69" cy="27.44" rx="1.8" ry="2.26" transform="rotate(33.14 115.69 27.44)" fill="#c8a8c4" fill-opacity="0.56"/>
<circle cx="115.72" cy="36.94" r="1.67" fill="#a888b8" fill-opacity="0.65"/>
<circle cx="152.97" cy="30.76" r="2.43" fill="#c8a8c4" fill-opacity="0.7"/>
<ellipse cx="133.82" cy="25.81" rx="2.05" ry="1.92" transform="rotate(92.57 133.82 25.81)" fill="#a888b8" fill-opacity="0.57"/>
<ellipse cx="119.4" cy="11.35" rx="1.47" ry="1.7" transform="rotate(88.8 119.4 11.35)" fill="#a888b8" fill-opacity="0.97"/>
<circle cx="118.17" cy="20.46" r="2.13" fill="#a888b8" fill-opacity="0.52"/>
<ellipse cx="138.52" cy="11.89" rx="1.97" ry="1.79" transform="rotate(121.77 138.52 11.89)" fill="#bc98bc" fill-opacity="0.71"/>
<ellipse cx="122.44" cy="37.13" rx="2.34" ry="1.6" transform="rotate(95.83 122.44 37.13)" fill="#b48cb4" fill-opacity="0.66"/>
<circle cx="140.97" cy="35.08" r="2.57" fill="#b48cb4" fill-opacity="0.98"/>
<ellipse cx="118.06" cy="36.42" rx="1.75" ry="1.48" transform="rotate(142.79 118.06 36.42)" fill="#a888b8" fill-opacity="0.7"/>
<ellipse cx="128.11" cy="5.66" rx="2.06" ry="1.63" transform="rotate(136.27 128.11 5.66)" fill="#a888b8" fill-opacity="0.82"/>
<ellipse cx="127.97" cy="22.17" rx="2.3" ry="2.36" transform="rotate(153.25 127.97 22.17)" fill="#b48cb4" fill-opacity="0.7"/>
<ellipse cx="106.46" cy="18.14" rx="1.9" ry="1.63" transform="rotate(12.58 106.46 18.14)" fill="#b48cb4" fill-opacity="0.68"/>
<circle cx="132.79" cy="29.39" r="1.9" fill="#bc98bc" fill-opacity="0.97"/>
<ellipse cx="109.87" cy="28.25" rx="1.81" ry="1.29" transform="rotate(70.66 109.87 28.25)" fill="#a888b8" fill-opacity="0.7"/>
<ellipse cx="148.63" cy="14.44" rx="2.12" ry="2.04" transform="rotate(11.87 148.63 14.44)" fill="#a888b8" fill-opacity="0.83"/>
<ellipse cx="124.45" cy="20.08" rx="2.06" ry="2.28" transform="rotate(141.93 124.45 20.08)" fill="#a888b8" fill-opacity="0.7"/>
<circle cx="145.45" cy="20.02" r="2.48" fill="#a888b8" fill-opacity="0.94"/>
<ellipse cx="142.37" cy="27.54" rx="1.82" ry="1.63" transform="rotate(162.7 142.37 27.54)" fill="#bc98bc" fill-opacity="0.89"/>
<ellipse cx="118.05" cy="14.81" rx="2.06" ry="2.55" transform="rotate(58.53 118.05 14.81)" fill="#bc98bc" fill-opacity="0.68"/>
<ellipse cx="115.94" cy="3.69" rx="1.77" ry="1.63" transform="rotate(113.3 115.94 3.69)" fill="#bc98bc" fill-opacity="0.52"/>
<ellipse cx="119.95" cy="13.75" rx="1.81" ry="1.64" transform="rotate(40.14 119.95 13.75)" fill="#c8a8c4" fill-opacity="0.64"/>
<ellipse cx="109.66" cy="31.5" rx="1.85" ry="1.67" transform="rotate(105.98 109.66 31.5)" fill="#b48cb4" fill-opacity="0.86"/>
<ellipse cx="148.54" cy="37.07" rx="2.62" ry="2.81" transform="rotate(158.47 148.54 37.07)" fill="#bc98bc" fill-opacity="0.82"/>
<circle cx="137.05" cy="8.56" r="1.53" fill="#c8a8c4" fill-opacity="0.64"/>
<circle cx="144.34" cy="20.6" r="1.64" fill="#c8a8c4" fill-opacity="0.89"/>
<ellipse cx="145.54" cy="32.51" rx="2.72" ry="1.7" transform="rotate(37.02 145.54 32.51)" fill="#bc98bc" fill-opacity="0.96"/>
<ellipse cx="99.8" cy="33.45" rx="2.33" ry="1.78" transform="rotate(63.82 99.8 33.45)" fill="#b48cb4" fill-opacity="0.78"/>
<circle cx="105.48" cy="28.86" r="1.91" fill="#bc98bc" fill-opacity="0.9"/>
<circle cx="105.29" cy="5.45" r="2.33" fill="#a888b8" fill-opacity="0.74"/>
<circle cx="119.8" cy="13.29" r="2.57" fill="#bc98bc" fill-opacity="0.76"/>
<ellipse cx="122.96" cy="14.59" rx="3.26" ry="2.21" transform="rotate(131.83 122.96 14.59)" fill="#c8a8c4" fill-opacity="0.86"/>
<ellipse cx="122.66" cy="31.54" rx="1.66" ry="1.11" transform="rotate(146.38 122.66 31.54)" fill="#bc98bc" fill-opacity="0.56"/>
<circle cx="151.88" cy="14.02" r="1.95" fill="#c8a8c4" fill-opacity="0.5"/>
<ellipse cx="120.84" cy="34.08" rx="3.09" ry="2.39" transform="rotate(164.53 120.84 34.08)" fill="#c8a8c4" fill-opacity="0.72"/>
<ellipse cx="145.92" cy="22.6" rx="2.82" ry="1.94" transform="rotate(116.92 145.92 22.6)" fill="#c8a8c4" fill-opacity="0.7"/>
<circle cx="141.63" cy="18.95" r="2.49" fill="#a888b8" fill-opacity="0.53"/>
<ellipse cx="147.54" cy="31.98" rx="2.06" ry="1.6" transform="rotate(83.98 147.54 31.98)" fill="#bc98bc" fill-opacity="0.62"/>
<circle cx="134.61" cy="16.81" r="1.96" fill="#a888b8" fill-opacity="0.88"/>
<circle cx="158.95" cy="27.77" r="2.37" fill="#c8a8c4" fill-opacity="0.81"/>
<ellipse cx="130.4" cy="36.9" rx="2.97" ry="2.21" transform="rotate(111.57 130.4 36.9)" fill="#bc98bc" fill-opacity="0.93"/>
<ellipse cx="135.62" cy="31.08" rx="1.58" ry="1.15" transform="rotate(33.73 135.62 31.08)" fill="#b48cb4" fill-opacity="0.73"/>
<ellipse cx="130.23" cy="32.48" rx="2.49" ry="1.65" transform="rotate(93.54 130.23 32.48)" fill="#c8a8c4" fill-opacity="0.84"/>
<circle cx="140.74" cy="4.75" r="2.46" fill="#bc98bc" fill-opacity="0.54"/>
<circle cx="118.05" cy="12.44" r="2.09" fill="#b48cb4" fill-opacity="0.88"/>
<circle cx="103.62" cy="5.71" r="2.12" fill="#a888b8" fill-opacity="0.73"/>
<circle cx="150.57" cy="28.02" r="2.22" fill="#a888b8" fill-opacity="0.9"/>
<circle cx="137.11" cy="12.35" r="1.56" fill="#b48cb4" fill-opacity="0.92"/>
<ellipse cx="122.55" cy="7.5" rx="3.29" ry="2.54" transform="rotate(49.36 122.55 7.5)" fill="#a888b8" fill-opacity="0.88"/>
<circle cx="114.38" cy="16.76" r="1.68" fill="#b48cb4" fill-opacity="0.96"/>
<ellipse cx="146.46" cy="30.17" rx="2.25" ry="2.24" transform="rotate(66.08 146.46 30.17)" fill="#c8a8c4" fill-opacity="0.55"/>
<circle cx="132.1" cy="37.23" r="2.04" fill="#c8a8c4" fill-opacity="0.97"/>
<circle cx="104.52" cy="9.36" r="2.49" fill="#bc98bc" fill-opacity="0.86"/>
<ellipse cx="106.29" cy="36.56" rx="2.51" ry="1.71" transform="rotate(46.28 106.29 36.56)" fill="#c8a8c4" fill-opacity="0.85"/>
<ellipse cx="100.7" cy="27.07" rx="1.96" ry="1.41" transform="rotate(11.51 100.7 27.07)" fill="#c8a8c4" fill-opacity="0.83"/>
<ellipse cx="103.12" cy="2.04" rx="1.66" ry="1.65" transform="rotate(165.73 103.12 2.04)" fill="#bc98bc" fill-opacity="0.86"/>
<ellipse cx="126.72" cy="34.8" rx="1.59" ry="2.01" transform="rotate(61.62 126.72 34.8)" fill="#c8a8c4" fill-opacity="0.72"/>
<ellipse cx="140.32" cy="11.77" rx="1.78" ry="1.57" transform="rotate(32.51 140.32 11.77)" fill="#bc98bc" fill-opacity="0.58"/>
<circle cx="107.85" cy="5.09" r="1.86" fill="#bc98bc" fill-opacity="0.78"/>
<ellipse cx="102.99" cy="2.05" rx="1.35" ry="1.58" transform="rotate(45.3 102.99 2.05)" fill="#b48cb4" fill-opacity="0.68"/>
<circle cx="121.56" cy="20.85" r="1.7" fill="#c8a8c4" fill-opacity="0.64"/>
<circle cx="146.11" cy="9.79" r="1.66" fill="#a888b8" fill-opacity="0.93"/>
<circle cx="154" cy="11.23" r="1.52" fill="#a888b8" fill-opacity="0.92"/>
<ellipse cx="127.33" cy="27.83" rx="1.56" ry="1.12" transform="rotate(34.34 127.33 27.83)" fill="#a888b8" fill-opacity="0.96"/>
<ellipse cx="119.85" cy="3.62" rx="2.54" ry="2.07" transform="rotate(19.81 119.85 3.62)" fill="#c8a8c4" fill-opacity="0.78"/>
<circle cx="157.13" cy="20.92" r="1.6" fill="#b48cb4" fill-opacity="0.61"/>
<ellipse cx="115.34" cy="35.69" rx="1.93" ry="1.85" transform="rotate(142.03 115.34 35.69)" fill="#bc98bc" fill-opacity="0.9"/>
<ellipse cx="103.2" cy="27.53" rx="2.14" ry="1.64" transform="rotate(123.64 103.2 27.53)" fill="#bc98bc" fill-opacity="0.81"/>
<ellipse cx="139.93" cy="6.65" rx="1.83" ry="1.98" transform="rotate(32.71 139.93 6.65)" fill="#b48cb4" fill-opacity="0.87"/>
<circle cx="104.05" cy="9.53" r="1.93" fill="#c8a8c4" fill-opacity="0.92"/>
<ellipse cx="118.34" cy="8.88" rx="1.31" ry="1.27" transform="rotate(92.1 118.34 8.88)" fill="#c8a8c4" fill-opacity="0.51"/>
<circle cx="111.44" cy="38.48" r="1.67" fill="#b48cb4" fill-opacity="0.52"/>
<circle cx="124.44" cy="27.73" r="2.32" fill="#c8a8c4" fill-opacity="0.91"/>
<circle cx="136.42" cy="11.04" r="2.07" fill="#a888b8" fill-opacity="0.57"/>
<ellipse cx="106.43" cy="37.03" rx="1.3" ry="1.24" transform="rotate(30.15 106.43 37.03)" fill="#c8a8c4" fill-opacity="0.79"/>
<ellipse cx="135.07" cy="18.24" rx="2.3" ry="2.66" transform="rotate(73.4 135.07 18.24)" fill="#c8a8c4" fill-opacity="0.93"/>
<ellipse cx="102.18" cy="35.35" rx="1.26" ry="1.07" transform="rotate(13.2 102.18 35.35)" fill="#b48cb4" fill-opacity="0.54"/>
<circle cx="122.21" cy="12.61" r="2.25" fill="#bc98bc" fill-opacity="0.72"/>
<ellipse cx="131.67" cy="26.65" rx="1.88" ry="1.73" transform="rotate(154.7 131.67 26.65)" fill="#c8a8c4" fill-opacity="0.72"/>
<circle cx="157.93" cy="25.31" r="2.55" fill="#b48cb4" fill-opacity="0.84"/>
<circle cx="144.66" cy="24.6" r="2.21" fill="#bc98bc" fill-opacity="0.72"/>
<circle cx="145.86" cy="36.87" r="1.96" fill="#b48cb4" fill-opacity="0.89"/>
<circle cx="125.53" cy="36.94" r="1.89" fill="#c8a8c4" fill-opacity="0.95"/>
<ellipse cx="144.29" cy="14.81" rx="2.88" ry="1.73" transform="rotate(91.78 144.29 14.81)" fill="#c8a8c4" fill-opacity="1"/>
<ellipse cx="153.49" cy="24.29" rx="1.92" ry="1.93" transform="rotate(78.7 153.49 24.29)" fill="#a888b8" fill-opacity="0.97"/>
<circle cx="109.81" cy="19.32" r="2.21" fill="#c8a8c4" fill-opacity="0.7"/>
<ellipse cx="137.77" cy="12.31" rx="1.48" ry="1.66" transform="rotate(54.15 137.77 12.31)" fill="#c8a8c4" fill-opacity="0.85"/>
<circle cx="114.76" cy="31.9" r="2.42" fill="#bc98bc" fill-opacity="0.6"/>
<circle cx="131.95" cy="28.35" r="1.48" fill="#bc98bc" fill-opacity="0.92"/>
<circle cx="114.33" cy="7.92" r="2.48" fill="#c8a8c4" fill-opacity="0.51"/>
<circle cx="156.57" cy="37.39" r="1.8" fill="#b48cb4" fill-opacity="0.66"/>
<circle cx="128.5" cy="11.07" r="1.5" fill="#c8a8c4" fill-opacity="0.63"/>
<circle cx="102.22" cy="37.52" r="2.44" fill="#b48cb4" fill-opacity="0.67"/>
<circle cx="110.61" cy="35.87" r="1.46" fill="#c8a8c4" fill-opacity="0.92"/>
<ellipse cx="117.18" cy="2.12" rx="1.33" ry="1.46" transform="rotate(144.72 117.18 2.12)" fill="#a888b8" fill-opacity="0.55"/>
</g>
<g clip-path="url(#cNBM)">
<circle cx="147.74" cy="10.06" r="1.3" fill="#564a8a" fill-opacity="0.83"/>
<circle cx="127.17" cy="29.28" r="1.21" fill="#3e3478" fill-opacity="0.92"/>
<ellipse cx="138.41" cy="27.07" rx="1.8" ry="1.08" transform="rotate(11.16 138.41 27.07)" fill="#5a4c90" fill-opacity="1"/>
<circle cx="127.52" cy="14.04" r="1.31" fill="#463c82" fill-opacity="0.94"/>
<circle cx="118.43" cy="28.18" r="1.27" fill="#4e4288" fill-opacity="0.79"/>
<circle cx="113.56" cy="7.99" r="1.05" fill="#4e4288" fill-opacity="0.76"/>
<circle cx="130.22" cy="20.79" r="1.33" fill="#564a8a" fill-opacity="0.79"/>
<circle cx="139.59" cy="24.58" r="0.94" fill="#463c82" fill-opacity="0.85"/>
<ellipse cx="151.5" cy="36.21" rx="1.68" ry="1.25" transform="rotate(18.89 151.5 36.21)" fill="#564a8a" fill-opacity="0.83"/>
<circle cx="127.07" cy="25.06" r="0.92" fill="#564a8a" fill-opacity="0.74"/>
<circle cx="137.15" cy="12.6" r="1.35" fill="#3e3478" fill-opacity="0.83"/>
<ellipse cx="123.26" cy="4.98" rx="0.99" ry="0.91" transform="rotate(56.88 123.26 4.98)" fill="#3e3478" fill-opacity="0.97"/>
<circle cx="149.42" cy="23.84" r="1.04" fill="#6a5a9c" fill-opacity="0.93"/>
<ellipse cx="119.82" cy="6.06" rx="1.88" ry="1.47" transform="rotate(69.61 119.82 6.06)" fill="#4e4288" fill-opacity="0.73"/>
<ellipse cx="112.95" cy="8.34" rx="1.17" ry="1.05" transform="rotate(172.48 112.95 8.34)" fill="#6a5a9c" fill-opacity="0.91"/>
<ellipse cx="105.59" cy="31.6" rx="1.2" ry="1.14" transform="rotate(110.76 105.59 31.6)" fill="#3e3478" fill-opacity="0.85"/>
<ellipse cx="118.31" cy="28.49" rx="1.61" ry="1.22" transform="rotate(1.87 118.31 28.49)" fill="#463c82" fill-opacity="0.83"/>
<circle cx="146.03" cy="23.94" r="1.47" fill="#3e3478" fill-opacity="0.77"/>
<circle cx="153.28" cy="36.64" r="1.27" fill="#6a5a9c" fill-opacity="0.81"/>
<circle cx="112.99" cy="35.15" r="1.28" fill="#564a8a" fill-opacity="0.93"/>
<circle cx="143.85" cy="29.43" r="1.05" fill="#463c82" fill-opacity="0.8"/>
<ellipse cx="151.8" cy="36.82" rx="1.58" ry="1.32" transform="rotate(84.64 151.8 36.82)" fill="#4e4288" fill-opacity="0.94"/>
<circle cx="127.45" cy="29.21" r="1.34" fill="#3e3478" fill-opacity="0.77"/>
<circle cx="119.15" cy="2.46" r="1.04" fill="#4e4288" fill-opacity="0.88"/>
<circle cx="102.24" cy="33.32" r="1.09" fill="#6a5a9c" fill-opacity="0.99"/>
<ellipse cx="137.95" cy="34.61" rx="1.41" ry="1.53" transform="rotate(107.98 137.95 34.61)" fill="#463c82" fill-opacity="0.95"/>
<ellipse cx="160.46" cy="34.65" rx="1.06" ry="0.99" transform="rotate(65.39 160.46 34.65)" fill="#4e4288" fill-opacity="0.96"/>
<ellipse cx="158.05" cy="27.25" rx="1.18" ry="1.09" transform="rotate(179.77 158.05 27.25)" fill="#4e4288" fill-opacity="0.84"/>
<circle cx="136.19" cy="3.64" r="1.47" fill="#463c82" fill-opacity="0.83"/>
<ellipse cx="142.73" cy="35.9" rx="1.13" ry="1.08" transform="rotate(1.95 142.73 35.9)" fill="#3e3478" fill-opacity="0.85"/>
<ellipse cx="152.67" cy="23.88" rx="1.5" ry="1.4" transform="rotate(156.32 152.67 23.88)" fill="#5a4c90" fill-opacity="0.76"/>
<ellipse cx="121.28" cy="35.69" rx="1.06" ry="0.72" transform="rotate(83.23 121.28 35.69)" fill="#564a8a" fill-opacity="0.96"/>
<ellipse cx="108.51" cy="9.4" rx="1.08" ry="0.94" transform="rotate(75.65 108.51 9.4)" fill="#4e4288" fill-opacity="0.83"/>
<circle cx="130.61" cy="18.83" r="0.9" fill="#3e3478" fill-opacity="0.97"/>
<ellipse cx="147.22" cy="21.43" rx="1.26" ry="1.3" transform="rotate(129.74 147.22 21.43)" fill="#5a4c90" fill-opacity="0.88"/>
<circle cx="145.15" cy="27.85" r="1.06" fill="#6a5a9c" fill-opacity="0.98"/>
<circle cx="157.16" cy="17.88" r="0.94" fill="#564a8a" fill-opacity="0.9"/>
<circle cx="119.7" cy="29.86" r="1.02" fill="#5a4c90" fill-opacity="0.96"/>
<circle cx="125.86" cy="12.97" r="1.17" fill="#5a4c90" fill-opacity="0.76"/>
<ellipse cx="130.08" cy="8.29" rx="1.21" ry="0.91" transform="rotate(106.55 130.08 8.29)" fill="#564a8a" fill-opacity="0.85"/>
<circle cx="107.91" cy="7.76" r="1.32" fill="#4e4288" fill-opacity="0.82"/>
<ellipse cx="125.19" cy="14.52" rx="1.22" ry="0.81" transform="rotate(141.2 125.19 14.52)" fill="#5a4c90" fill-opacity="0.84"/>
<circle cx="128.37" cy="20.33" r="1.31" fill="#6a5a9c" fill-opacity="0.89"/>
<ellipse cx="139.19" cy="29.12" rx="1.57" ry="1.23" transform="rotate(121.9 139.19 29.12)" fill="#463c82" fill-opacity="0.81"/>
<circle cx="119.95" cy="36.46" r="1.14" fill="#5a4c90" fill-opacity="0.79"/>
<circle cx="154.71" cy="37.59" r="1.38" fill="#6a5a9c" fill-opacity="0.85"/>
<circle cx="154.14" cy="14.44" r="1.46" fill="#463c82" fill-opacity="0.98"/>
<circle cx="103.14" cy="31.48" r="0.91" fill="#3e3478" fill-opacity="0.79"/>
<circle cx="156.86" cy="15.46" r="1.03" fill="#463c82" fill-opacity="0.94"/>
<circle cx="113.04" cy="3.63" r="1.34" fill="#463c82" fill-opacity="0.97"/>
<circle cx="125.01" cy="24.79" r="1.01" fill="#5a4c90" fill-opacity="0.99"/>
<circle cx="102.45" cy="6.1" r="1.32" fill="#463c82" fill-opacity="0.75"/>
<ellipse cx="105.6" cy="8.81" rx="1.49" ry="1.25" transform="rotate(45.6 105.6 8.81)" fill="#5a4c90" fill-opacity="0.81"/>
<ellipse cx="142.48" cy="7.98" rx="1.01" ry="0.94" transform="rotate(162.98 142.48 7.98)" fill="#3e3478" fill-opacity="0.89"/>
<ellipse cx="147.24" cy="21.75" rx="0.88" ry="0.78" transform="rotate(169.8 147.24 21.75)" fill="#6a5a9c" fill-opacity="0.96"/>
<circle cx="151.94" cy="35.35" r="0.99" fill="#5a4c90" fill-opacity="0.91"/>
<ellipse cx="142.23" cy="36.23" rx="1.3" ry="0.96" transform="rotate(172.79 142.23 36.23)" fill="#463c82" fill-opacity="0.9"/>
<ellipse cx="157.86" cy="35.87" rx="0.99" ry="1.05" transform="rotate(110.63 157.86 35.87)" fill="#6a5a9c" fill-opacity="0.76"/>
<circle cx="138.58" cy="22.21" r="1.1" fill="#564a8a" fill-opacity="0.96"/>
<ellipse cx="115.95" cy="35.65" rx="1.58" ry="1.55" transform="rotate(105.57 115.95 35.65)" fill="#4e4288" fill-opacity="0.74"/>
<ellipse cx="125.32" cy="36.03" rx="1.51" ry="1.19" transform="rotate(158.87 125.32 36.03)" fill="#4e4288" fill-opacity="0.81"/>
<circle cx="121.69" cy="2.82" r="1.08" fill="#4e4288" fill-opacity="0.9"/>
<ellipse cx="160.47" cy="17.29" rx="1.39" ry="1.5" transform="rotate(85.1 160.47 17.29)" fill="#3e3478" fill-opacity="0.84"/>
<ellipse cx="106.31" cy="29.22" rx="1.53" ry="1.41" transform="rotate(63.29 106.31 29.22)" fill="#4e4288" fill-opacity="0.88"/>
<circle cx="151.44" cy="33.24" r="1.2" fill="#6a5a9c" fill-opacity="0.84"/>
<circle cx="151.45" cy="34.55" r="1.18" fill="#6a5a9c" fill-opacity="0.96"/>
<circle cx="116.93" cy="32.58" r="1.47" fill="#463c82" fill-opacity="0.94"/>
<circle cx="109.09" cy="35.91" r="1.37" fill="#3e3478" fill-opacity="0.78"/>
<ellipse cx="108.92" cy="38.38" rx="1.84" ry="1.31" transform="rotate(17.7 108.92 38.38)" fill="#4e4288" fill-opacity="0.89"/>
<circle cx="155.29" cy="31.31" r="1.35" fill="#5a4c90" fill-opacity="0.9"/>
<circle cx="131.65" cy="8.75" r="1.21" fill="#4e4288" fill-opacity="0.87"/>
<circle cx="109.33" cy="6.57" r="1.2" fill="#3e3478" fill-opacity="0.87"/>
<ellipse cx="129.65" cy="37.54" rx="1.43" ry="0.84" transform="rotate(104.81 129.65 37.54)" fill="#4e4288" fill-opacity="0.81"/>
<circle cx="158.56" cy="15.75" r="1.09" fill="#4e4288" fill-opacity="0.8"/>
<circle cx="157.94" cy="18.34" r="1.37" fill="#463c82" fill-opacity="0.91"/>
<circle cx="139.96" cy="7.97" r="1.01" fill="#3e3478" fill-opacity="0.99"/>
<ellipse cx="158.93" cy="3.88" rx="1.45" ry="0.98" transform="rotate(19.87 158.93 3.88)" fill="#5a4c90" fill-opacity="0.85"/>
<circle cx="116.66" cy="5.23" r="1.25" fill="#463c82" fill-opacity="0.7"/>
<circle cx="125.28" cy="37.36" r="1.24" fill="#4e4288" fill-opacity="0.85"/>
<circle cx="142.74" cy="21.21" r="1.24" fill="#5a4c90" fill-opacity="0.97"/>
<circle cx="111.97" cy="6" r="1.34" fill="#3e3478" fill-opacity="0.9"/>
<circle cx="141.98" cy="17.2" r="1.44" fill="#564a8a" fill-opacity="0.74"/>
<circle cx="160.2" cy="24.56" r="1" fill="#463c82" fill-opacity="0.81"/>
<ellipse cx="155.62" cy="15.19" rx="1.2" ry="0.76" transform="rotate(90.5 155.62 15.19)" fill="#5a4c90" fill-opacity="0.74"/>
<circle cx="134.39" cy="22.24" r="1.23" fill="#4e4288" fill-opacity="0.92"/>
<circle cx="107.65" cy="35.75" r="1.44" fill="#3e3478" fill-opacity="0.77"/>
<ellipse cx="128.41" cy="15.84" rx="1.12" ry="1.49" transform="rotate(42.99 128.41 15.84)" fill="#5a4c90" fill-opacity="0.99"/>
<circle cx="101.32" cy="35.73" r="1.06" fill="#3e3478" fill-opacity="0.93"/>
<circle cx="103.86" cy="29.42" r="1.37" fill="#6a5a9c" fill-opacity="0.77"/>
<ellipse cx="142.5" cy="17.37" rx="1.09" ry="0.95" transform="rotate(142.23 142.5 17.37)" fill="#4e4288" fill-opacity="1"/>
<ellipse cx="116.55" cy="2.97" rx="1.07" ry="1.17" transform="rotate(77.99 116.55 2.97)" fill="#463c82" fill-opacity="0.92"/>
<circle cx="99.22" cy="9.74" r="1.02" fill="#4e4288" fill-opacity="0.86"/>
<circle cx="119.34" cy="2.9" r="1.41" fill="#4e4288" fill-opacity="0.75"/>
<circle cx="149.18" cy="19.02" r="1.19" fill="#5a4c90" fill-opacity="0.9"/>
<circle cx="110.39" cy="37.95" r="1.37" fill="#4e4288" fill-opacity="0.73"/>
<circle cx="120.44" cy="27.23" r="1.33" fill="#3e3478" fill-opacity="0.75"/>
<circle cx="110.07" cy="6.38" r="1.16" fill="#5a4c90" fill-opacity="0.89"/>
<circle cx="152.72" cy="28.02" r="1.13" fill="#463c82" fill-opacity="0.77"/>
<ellipse cx="135.35" cy="32.83" rx="1.47" ry="1.28" transform="rotate(95.97 135.35 32.83)" fill="#564a8a" fill-opacity="0.83"/>
<ellipse cx="118.17" cy="9.05" rx="0.89" ry="0.79" transform="rotate(90.52 118.17 9.05)" fill="#3e3478" fill-opacity="0.85"/>
<circle cx="130.04" cy="16.99" r="1.01" fill="#564a8a" fill-opacity="0.79"/>
<ellipse cx="137.71" cy="18" rx="1.17" ry="0.97" transform="rotate(72.36 137.71 18)" fill="#463c82" fill-opacity="0.98"/>
<ellipse cx="142.65" cy="31.79" rx="1.55" ry="1.18" transform="rotate(15.52 142.65 31.79)" fill="#5a4c90" fill-opacity="0.92"/>
<ellipse cx="121.2" cy="25.7" rx="1.67" ry="1.46" transform="rotate(49.1 121.2 25.7)" fill="#6a5a9c" fill-opacity="0.9"/>
<ellipse cx="102.75" cy="14.84" rx="1.41" ry="1.5" transform="rotate(61.27 102.75 14.84)" fill="#564a8a" fill-opacity="0.97"/>
<circle cx="128.09" cy="28.13" r="1.01" fill="#4e4288" fill-opacity="0.81"/>
<circle cx="129.01" cy="27.85" r="1.41" fill="#6a5a9c" fill-opacity="0.79"/>
<ellipse cx="120.7" cy="3.74" rx="1.06" ry="0.81" transform="rotate(139.09 120.7 3.74)" fill="#4e4288" fill-opacity="0.96"/>
<ellipse cx="122.08" cy="5.92" rx="1.51" ry="1" transform="rotate(33.45 122.08 5.92)" fill="#6a5a9c" fill-opacity="1"/>
<ellipse cx="147.18" cy="28.72" rx="0.98" ry="0.77" transform="rotate(121.38 147.18 28.72)" fill="#5a4c90" fill-opacity="0.9"/>
<ellipse cx="136.64" cy="12.37" rx="1.54" ry="1.17" transform="rotate(6.55 136.64 12.37)" fill="#5a4c90" fill-opacity="0.77"/>
<circle cx="119.04" cy="25.34" r="1.21" fill="#4e4288" fill-opacity="0.77"/>
<circle cx="160.18" cy="35.36" r="1.04" fill="#3e3478" fill-opacity="1"/>
<ellipse cx="122.24" cy="2.9" rx="1.43" ry="0.98" transform="rotate(119.41 122.24 2.9)" fill="#3e3478" fill-opacity="0.84"/>
<circle cx="127.46" cy="23.66" r="1.26" fill="#6a5a9c" fill-opacity="0.86"/>
<circle cx="99.13" cy="4.96" r="1.12" fill="#6a5a9c" fill-opacity="0.82"/>
<circle cx="155.62" cy="14.37" r="1.33" fill="#4e4288" fill-opacity="0.85"/>
<ellipse cx="121.9" cy="33.36" rx="1.54" ry="1.15" transform="rotate(137.06 121.9 33.36)" fill="#3e3478" fill-opacity="0.95"/>
<circle cx="137.08" cy="28.01" r="1.12" fill="#564a8a" fill-opacity="0.89"/>
<circle cx="140.52" cy="5.72" r="0.91" fill="#3e3478" fill-opacity="0.77"/>
<circle cx="121.22" cy="11.06" r="1.32" fill="#5a4c90" fill-opacity="0.95"/>
<ellipse cx="158.17" cy="26.75" rx="1" ry="0.92" transform="rotate(33.52 158.17 26.75)" fill="#6a5a9c" fill-opacity="0.94"/>
<circle cx="148.97" cy="20.07" r="1.36" fill="#463c82" fill-opacity="0.85"/>
<circle cx="132.92" cy="6.46" r="1.27" fill="#5a4c90" fill-opacity="0.78"/>
<ellipse cx="156.92" cy="32.34" rx="1.32" ry="1.18" transform="rotate(174.56 156.92 32.34)" fill="#3e3478" fill-opacity="0.87"/>
<ellipse cx="149.64" cy="25.65" rx="1.34" ry="0.96" transform="rotate(145.15 149.64 25.65)" fill="#4e4288" fill-opacity="0.88"/>
<ellipse cx="104.35" cy="32.06" rx="1.01" ry="0.74" transform="rotate(60.58 104.35 32.06)" fill="#5a4c90" fill-opacity="0.76"/>
<ellipse cx="103.07" cy="4.17" rx="0.92" ry="0.97" transform="rotate(15.73 103.07 4.17)" fill="#5a4c90" fill-opacity="0.91"/>
<ellipse cx="111.62" cy="37.08" rx="1.73" ry="1.17" transform="rotate(16.47 111.62 37.08)" fill="#564a8a" fill-opacity="0.98"/>
<ellipse cx="155.98" cy="21.93" rx="1.4" ry="1.45" transform="rotate(149.31 155.98 21.93)" fill="#5a4c90" fill-opacity="0.81"/>
<circle cx="157.74" cy="20.39" r="1.08" fill="#4e4288" fill-opacity="0.77"/>
<ellipse cx="157.77" cy="15.12" rx="1.44" ry="1.18" transform="rotate(72.22 157.77 15.12)" fill="#4e4288" fill-opacity="0.89"/>
<circle cx="125.18" cy="8.33" r="1.03" fill="#5a4c90" fill-opacity="0.9"/>
<circle cx="134.18" cy="34.83" r="1.11" fill="#4e4288" fill-opacity="0.84"/>
<ellipse cx="134.64" cy="9.56" rx="0.97" ry="0.85" transform="rotate(112.69 134.64 9.56)" fill="#3e3478" fill-opacity="0.78"/>
<circle cx="106.73" cy="30.26" r="1.42" fill="#463c82" fill-opacity="0.83"/>
<ellipse cx="150.4" cy="27.9" rx="1.23" ry="1.11" transform="rotate(155.98 150.4 27.9)" fill="#5a4c90" fill-opacity="0.82"/>
<ellipse cx="122.9" cy="7.01" rx="1.12" ry="1.19" transform="rotate(87.51 122.9 7.01)" fill="#5a4c90" fill-opacity="0.75"/>
<ellipse cx="126.37" cy="34.41" rx="0.92" ry="0.95" transform="rotate(41.09 126.37 34.41)" fill="#6a5a9c" fill-opacity="0.77"/>
<circle cx="134.29" cy="25.48" r="1.19" fill="#4e4288" fill-opacity="0.99"/>
<circle cx="114.75" cy="32.34" r="1.01" fill="#4e4288" fill-opacity="0.79"/>
<circle cx="121.89" cy="30.67" r="0.97" fill="#5a4c90" fill-opacity="0.96"/>
<circle cx="145.18" cy="18.23" r="0.91" fill="#5a4c90" fill-opacity="0.76"/>
<ellipse cx="123.18" cy="13.06" rx="1.6" ry="1.34" transform="rotate(136.37 123.18 13.06)" fill="#564a8a" fill-opacity="0.92"/>
<ellipse cx="149.56" cy="9.31" rx="1.09" ry="0.77" transform="rotate(123.3 149.56 9.31)" fill="#564a8a" fill-opacity="0.97"/>
<ellipse cx="154.39" cy="17.44" rx="1.09" ry="0.79" transform="rotate(54.04 154.39 17.44)" fill="#6a5a9c" fill-opacity="0.89"/>
<circle cx="142.9" cy="28.45" r="1.29" fill="#463c82" fill-opacity="0.7"/>
<ellipse cx="122.53" cy="28.15" rx="0.98" ry="1.06" transform="rotate(55.03 122.53 28.15)" fill="#4e4288" fill-opacity="0.74"/>
<circle cx="132.62" cy="31.4" r="1.34" fill="#4e4288" fill-opacity="1"/>
<circle cx="147" cy="35.41" r="1.27" fill="#463c82" fill-opacity="0.85"/>
<ellipse cx="158.58" cy="15.67" rx="1.26" ry="0.89" transform="rotate(135.96 158.58 15.67)" fill="#5a4c90" fill-opacity="0.8"/>
<circle cx="116.17" cy="5.55" r="1.17" fill="#5a4c90" fill-opacity="0.75"/>
<ellipse cx="136.55" cy="14.87" rx="0.92" ry="0.93" transform="rotate(74.92 136.55 14.87)" fill="#5a4c90" fill-opacity="0.98"/>
<ellipse cx="117.65" cy="23.19" rx="1.13" ry="0.96" transform="rotate(65.54 117.65 23.19)" fill="#4e4288" fill-opacity="0.82"/>
<circle cx="148.19" cy="4.78" r="1.2" fill="#463c82" fill-opacity="0.72"/>
<ellipse cx="149.58" cy="16.92" rx="1.12" ry="1.01" transform="rotate(54.96 149.58 16.92)" fill="#4e4288" fill-opacity="0.87"/>
<ellipse cx="102.6" cy="5.64" rx="1.17" ry="1.12" transform="rotate(33.6 102.6 5.64)" fill="#5a4c90" fill-opacity="0.88"/>
<ellipse cx="125.92" cy="11.92" rx="0.91" ry="0.98" transform="rotate(61.28 125.92 11.92)" fill="#3e3478" fill-opacity="0.89"/>
<circle cx="121.71" cy="13.21" r="1.07" fill="#3e3478" fill-opacity="0.81"/>
<ellipse cx="114.84" cy="31.63" rx="1.1" ry="0.75" transform="rotate(155.4 114.84 31.63)" fill="#564a8a" fill-opacity="0.89"/>
<circle cx="128.3" cy="25.53" r="0.93" fill="#5a4c90" fill-opacity="0.99"/>
<circle cx="133.6" cy="37.62" r="1.3" fill="#6a5a9c" fill-opacity="0.85"/>
<circle cx="157.48" cy="37.2" r="1.5" fill="#6a5a9c" fill-opacity="0.71"/>
<ellipse cx="153.95" cy="18.49" rx="1.12" ry="0.96" transform="rotate(102.24 153.95 18.49)" fill="#5a4c90" fill-opacity="0.95"/>
<circle cx="108.53" cy="28.03" r="1.41" fill="#3e3478" fill-opacity="0.99"/>
<circle cx="104.06" cy="9.12" r="1.47" fill="#5a4c90" fill-opacity="0.81"/>
<circle cx="152.07" cy="15.38" r="1.48" fill="#5a4c90" fill-opacity="0.82"/>
<circle cx="135.56" cy="18.59" r="1.3" fill="#4e4288" fill-opacity="0.77"/>
<circle cx="141.84" cy="21.84" r="0.99" fill="#564a8a" fill-opacity="0.84"/>
<ellipse cx="108.9" cy="4.83" rx="1.73" ry="1.41" transform="rotate(102.02 108.9 4.83)" fill="#463c82" fill-opacity="0.89"/>
<ellipse cx="119.09" cy="35.83" rx="1.22" ry="0.77" transform="rotate(49.34 119.09 35.83)" fill="#3e3478" fill-opacity="0.78"/>
<circle cx="125.49" cy="20.88" r="1.18" fill="#564a8a" fill-opacity="0.8"/>
<circle cx="137.17" cy="31.43" r="1.31" fill="#463c82" fill-opacity="0.74"/>
<circle cx="160.4" cy="17.99" r="1.28" fill="#5a4c90" fill-opacity="0.94"/>
<ellipse cx="126.47" cy="3.99" rx="1.44" ry="1.49" transform="rotate(140.36 126.47 3.99)" fill="#463c82" fill-opacity="0.82"/>
<ellipse cx="135.12" cy="10.3" rx="0.96" ry="0.85" transform="rotate(141.82 135.12 10.3)" fill="#6a5a9c" fill-opacity="0.72"/>
<ellipse cx="151.9" cy="19.63" rx="0.91" ry="0.96" transform="rotate(47.1 151.9 19.63)" fill="#4e4288" fill-opacity="0.88"/>
<ellipse cx="137.24" cy="3.92" rx="1.18" ry="0.98" transform="rotate(90.83 137.24 3.92)" fill="#6a5a9c" fill-opacity="0.73"/>
<ellipse cx="100.53" cy="28.57" rx="1.54" ry="1.1" transform="rotate(165.61 100.53 28.57)" fill="#3e3478" fill-opacity="0.71"/>
<ellipse cx="149.89" cy="34.62" rx="1.37" ry="0.9" transform="rotate(55.25 149.89 34.62)" fill="#6a5a9c" fill-opacity="0.73"/>
<circle cx="113.47" cy="32.05" r="1.43" fill="#463c82" fill-opacity="0.71"/>
<ellipse cx="137.4" cy="19.19" rx="1.07" ry="1.2" transform="rotate(126.22 137.4 19.19)" fill="#463c82" fill-opacity="0.79"/>
<circle cx="150.57" cy="29.09" r="1.49" fill="#3e3478" fill-opacity="0.88"/>
<circle cx="148.61" cy="31.81" r="1.16" fill="#6a5a9c" fill-opacity="0.99"/>
<circle cx="116.8" cy="15.22" r="1.38" fill="#4e4288" fill-opacity="0.98"/>
<circle cx="150.79" cy="16.2" r="1.46" fill="#4e4288" fill-opacity="0.8"/>
<circle cx="122.39" cy="35.93" r="0.92" fill="#4e4288" fill-opacity="0.96"/>
<circle cx="145.26" cy="19.53" r="0.97" fill="#5a4c90" fill-opacity="0.94"/>
<ellipse cx="118.31" cy="26.79" rx="1.55" ry="1.09" transform="rotate(110.64 118.31 26.79)" fill="#564a8a" fill-opacity="0.83"/>
<circle cx="121.92" cy="7.12" r="0.91" fill="#4e4288" fill-opacity="0.76"/>
<circle cx="155.67" cy="26.6" r="1.22" fill="#6a5a9c" fill-opacity="0.73"/>
<circle cx="153.2" cy="7.49" r="1.35" fill="#4e4288" fill-opacity="0.97"/>
<circle cx="106.74" cy="18.29" r="1.47" fill="#463c82" fill-opacity="0.83"/>
<circle cx="143" cy="30.52" r="1.32" fill="#5a4c90" fill-opacity="0.96"/>
<ellipse cx="124.79" cy="12.3" rx="1.3" ry="1.04" transform="rotate(68.37 124.79 12.3)" fill="#6a5a9c" fill-opacity="0.78"/>
<circle cx="155.77" cy="36.26" r="1.24" fill="#6a5a9c" fill-opacity="0.78"/>
<ellipse cx="128.64" cy="15.65" rx="1.67" ry="1.05" transform="rotate(70.63 128.64 15.65)" fill="#6a5a9c" fill-opacity="0.89"/>
<ellipse cx="118.99" cy="32.23" rx="1.24" ry="1.52" transform="rotate(115.25 118.99 32.23)" fill="#564a8a" fill-opacity="0.84"/>
<ellipse cx="122.05" cy="32.16" rx="1.55" ry="1.31" transform="rotate(16.69 122.05 32.16)" fill="#6a5a9c" fill-opacity="1"/>
<ellipse cx="138.24" cy="38.22" rx="1.3" ry="0.97" transform="rotate(65.8 138.24 38.22)" fill="#3e3478" fill-opacity="0.87"/>
<ellipse cx="105.62" cy="4.05" rx="1.41" ry="1.16" transform="rotate(113.89 105.62 4.05)" fill="#6a5a9c" fill-opacity="0.93"/>
<ellipse cx="160.01" cy="13.69" rx="1.62" ry="1.17" transform="rotate(9.66 160.01 13.69)" fill="#463c82" fill-opacity="0.83"/>
<circle cx="126.2" cy="21.39" r="0.93" fill="#4e4288" fill-opacity="0.75"/>
<ellipse cx="104.69" cy="7.15" rx="1.52" ry="1.06" transform="rotate(7.89 104.69 7.15)" fill="#3e3478" fill-opacity="0.72"/>
<ellipse cx="129" cy="2.76" rx="1.19" ry="1.13" transform="rotate(28.68 129 2.76)" fill="#3e3478" fill-opacity="0.81"/>
<ellipse cx="149" cy="29.71" rx="1.21" ry="0.8" transform="rotate(60.2 149 29.71)" fill="#3e3478" fill-opacity="0.9"/>
<ellipse cx="113.21" cy="32.7" rx="1.11" ry="0.93" transform="rotate(126.78 113.21 32.7)" fill="#6a5a9c" fill-opacity="0.93"/>
<ellipse cx="117.4" cy="28.25" rx="1.71" ry="0.99" transform="rotate(155.77 117.4 28.25)" fill="#564a8a" fill-opacity="0.81"/>
<circle cx="134.44" cy="29.33" r="1.32" fill="#463c82" fill-opacity="0.93"/>
<circle cx="111.83" cy="30.51" r="1.35" fill="#6a5a9c" fill-opacity="0.99"/>
<ellipse cx="153.75" cy="13.57" rx="1.47" ry="1.16" transform="rotate(131.89 153.75 13.57)" fill="#3e3478" fill-opacity="0.9"/>
<circle cx="135.83" cy="28.46" r="1.09" fill="#3e3478" fill-opacity="0.71"/>
<ellipse cx="155.39" cy="8.65" rx="1" ry="0.85" transform="rotate(45.31 155.39 8.65)" fill="#3e3478" fill-opacity="0.74"/>
<ellipse cx="130.72" cy="11.49" rx="1.84" ry="1.23" transform="rotate(118.5 130.72 11.49)" fill="#3e3478" fill-opacity="0.93"/>
<circle cx="158.83" cy="28.46" r="1.04" fill="#5a4c90" fill-opacity="0.94"/>
<circle cx="120.08" cy="28.49" r="1.07" fill="#564a8a" fill-opacity="0.97"/>
<circle cx="112.07" cy="5.82" r="0.97" fill="#5a4c90" fill-opacity="0.83"/>
<circle cx="155.95" cy="19.96" r="1.21" fill="#463c82" fill-opacity="0.71"/>
<circle cx="137.38" cy="11.2" r="1.2" fill="#5a4c90" fill-opacity="0.77"/>
<circle cx="114.21" cy="8.79" r="0.98" fill="#463c82" fill-opacity="0.95"/>
<circle cx="129.7" cy="26.12" r="1.28" fill="#6a5a9c" fill-opacity="0.86"/>
<ellipse cx="120.51" cy="19.46" rx="1.76" ry="1.08" transform="rotate(39.14 120.51 19.46)" fill="#463c82" fill-opacity="0.73"/>
<ellipse cx="120.18" cy="37.25" rx="1.17" ry="0.9" transform="rotate(173.92 120.18 37.25)" fill="#564a8a" fill-opacity="0.85"/>
<ellipse cx="112.81" cy="29.79" rx="0.95" ry="0.96" transform="rotate(73.91 112.81 29.79)" fill="#5a4c90" fill-opacity="0.94"/>
<ellipse cx="122.68" cy="31.22" rx="1.24" ry="1.07" transform="rotate(36.76 122.68 31.22)" fill="#3e3478" fill-opacity="0.94"/>
<circle cx="120.21" cy="23.02" r="1.34" fill="#4e4288" fill-opacity="0.99"/>
<ellipse cx="142.37" cy="28.42" rx="1.1" ry="0.74" transform="rotate(5.26 142.37 28.42)" fill="#6a5a9c" fill-opacity="0.83"/>
<circle cx="155.88" cy="11.51" r="0.98" fill="#5a4c90" fill-opacity="0.92"/>
<circle cx="108.02" cy="34.72" r="1.25" fill="#5a4c90" fill-opacity="0.85"/>
<ellipse cx="154.32" cy="17.59" rx="1.47" ry="1.26" transform="rotate(72.94 154.32 17.59)" fill="#4e4288" fill-opacity="0.85"/>
<circle cx="107.38" cy="30.03" r="1.37" fill="#6a5a9c" fill-opacity="0.94"/>
<circle cx="152.97" cy="17.04" r="1.04" fill="#6a5a9c" fill-opacity="0.98"/>
<circle cx="105.03" cy="32.98" r="1.01" fill="#564a8a" fill-opacity="0.76"/>
<circle cx="119.24" cy="13.09" r="1.15" fill="#4e4288" fill-opacity="0.73"/>
<ellipse cx="152.56" cy="25.78" rx="0.93" ry="0.95" transform="rotate(107.16 152.56 25.78)" fill="#6a5a9c" fill-opacity="0.79"/>
<ellipse cx="106.29" cy="9.28" rx="1.7" ry="1.24" transform="rotate(26.7 106.29 9.28)" fill="#463c82" fill-opacity="0.8"/>
<circle cx="130.87" cy="6.95" r="1.08" fill="#564a8a" fill-opacity="0.73"/>
<ellipse cx="143.44" cy="16.12" rx="1.1" ry="0.9" transform="rotate(127.76 143.44 16.12)" fill="#3e3478" fill-opacity="0.71"/>
<circle cx="126.62" cy="32.05" r="1.44" fill="#6a5a9c" fill-opacity="0.82"/>
<ellipse cx="148.17" cy="33.45" rx="1.16" ry="1.03" transform="rotate(174.26 148.17 33.45)" fill="#564a8a" fill-opacity="0.95"/>
<ellipse cx="125.16" cy="9.48" rx="1.48" ry="1.1" transform="rotate(17.94 125.16 9.48)" fill="#564a8a" fill-opacity="0.84"/>
<ellipse cx="135.26" cy="17.07" rx="1.49" ry="1.15" transform="rotate(160.81 135.26 17.07)" fill="#463c82" fill-opacity="1"/>
<ellipse cx="126.59" cy="13.42" rx="1.5" ry="1.14" transform="rotate(105.46 126.59 13.42)" fill="#564a8a" fill-opacity="0.89"/>
<ellipse cx="115.98" cy="30.45" rx="1.16" ry="0.93" transform="rotate(157.75 115.98 30.45)" fill="#6a5a9c" fill-opacity="0.76"/>
<ellipse cx="108.53" cy="15.01" rx="1.48" ry="1.36" transform="rotate(68.64 108.53 15.01)" fill="#463c82" fill-opacity="0.78"/>
<ellipse cx="115.73" cy="6.5" rx="1.23" ry="0.84" transform="rotate(115.92 115.73 6.5)" fill="#463c82" fill-opacity="0.95"/>
<circle cx="159.66" cy="29.98" r="1.3" fill="#463c82" fill-opacity="0.83"/>
<ellipse cx="115.01" cy="9.33" rx="1.49" ry="1.25" transform="rotate(121.89 115.01 9.33)" fill="#3e3478" fill-opacity="0.88"/>
<ellipse cx="133.86" cy="25.85" rx="1.11" ry="0.85" transform="rotate(77.35 133.86 25.85)" fill="#564a8a" fill-opacity="0.78"/>
<ellipse cx="120.02" cy="3.2" rx="1.26" ry="0.97" transform="rotate(127.66 120.02 3.2)" fill="#4e4288" fill-opacity="0.82"/>
<circle cx="144.98" cy="36.72" r="1.26" fill="#463c82" fill-opacity="0.9"/>
<ellipse cx="115.78" cy="4.71" rx="1.04" ry="0.77" transform="rotate(48.44 115.78 4.71)" fill="#564a8a" fill-opacity="0.81"/>
<circle cx="130.8" cy="12.42" r="1.44" fill="#564a8a" fill-opacity="0.75"/>
<circle cx="130.65" cy="19.13" r="1.34" fill="#564a8a" fill-opacity="0.84"/>
<circle cx="147.91" cy="16.62" r="1.3" fill="#3e3478" fill-opacity="0.75"/>
<circle cx="126.43" cy="8.17" r="0.98" fill="#3e3478" fill-opacity="0.87"/>
<ellipse cx="146.14" cy="21.32" rx="1.09" ry="1.03" transform="rotate(155.53 146.14 21.32)" fill="#4e4288" fill-opacity="0.87"/>
<ellipse cx="100.16" cy="5.12" rx="1.4" ry="1.11" transform="rotate(137.08 100.16 5.12)" fill="#6a5a9c" fill-opacity="0.94"/>
<ellipse cx="141.7" cy="15.25" rx="0.96" ry="0.82" transform="rotate(92.38 141.7 15.25)" fill="#6a5a9c" fill-opacity="0.84"/>
<circle cx="144.93" cy="34.16" r="1.32" fill="#6a5a9c" fill-opacity="0.91"/>
<circle cx="133.12" cy="23.36" r="0.98" fill="#4e4288" fill-opacity="0.94"/>
<ellipse cx="104.22" cy="8.72" rx="0.82" ry="0.98" transform="rotate(96.92 104.22 8.72)" fill="#564a8a" fill-opacity="0.78"/>
<circle cx="157.75" cy="17.86" r="1.4" fill="#4e4288" fill-opacity="0.98"/>
<circle cx="145.04" cy="16.22" r="1.07" fill="#5a4c90" fill-opacity="0.9"/>
<circle cx="144.08" cy="19.51" r="1.12" fill="#5a4c90" fill-opacity="0.91"/>
<ellipse cx="133.66" cy="31.28" rx="1.7" ry="1.36" transform="rotate(99.05 133.66 31.28)" fill="#4e4288" fill-opacity="0.91"/>
<circle cx="123.51" cy="22.47" r="1.2" fill="#4e4288" fill-opacity="0.84"/>
<ellipse cx="138.89" cy="17.95" rx="1.51" ry="1.26" transform="rotate(152.71 138.89 17.95)" fill="#6a5a9c" fill-opacity="0.87"/>
<ellipse cx="124.46" cy="20.36" rx="1.12" ry="0.97" transform="rotate(4.21 124.46 20.36)" fill="#463c82" fill-opacity="0.95"/>
<circle cx="115.86" cy="3.59" r="1.08" fill="#463c82" fill-opacity="0.94"/>
<circle cx="143.82" cy="29.64" r="1.28" fill="#5a4c90" fill-opacity="0.84"/>
<ellipse cx="116.62" cy="2.98" rx="1.03" ry="1.26" transform="rotate(167.93 116.62 2.98)" fill="#5a4c90" fill-opacity="0.89"/>
<ellipse cx="136.65" cy="23.78" rx="1.59" ry="1.32" transform="rotate(59.45 136.65 23.78)" fill="#3e3478" fill-opacity="0.82"/>
<ellipse cx="143.2" cy="31.69" rx="1.14" ry="1.26" transform="rotate(131.95 143.2 31.69)" fill="#4e4288" fill-opacity="0.88"/>
<ellipse cx="159.6" cy="36.15" rx="1.04" ry="0.8" transform="rotate(170.32 159.6 36.15)" fill="#6a5a9c" fill-opacity="0.86"/>
<ellipse cx="113.58" cy="27.71" rx="0.93" ry="0.72" transform="rotate(14.04 113.58 27.71)" fill="#3e3478" fill-opacity="0.72"/>
<ellipse cx="160.46" cy="31.09" rx="1.29" ry="1.25" transform="rotate(176.64 160.46 31.09)" fill="#5a4c90" fill-opacity="0.98"/>
<ellipse cx="143.98" cy="26.28" rx="0.96" ry="1.25" transform="rotate(97.66 143.98 26.28)" fill="#564a8a" fill-opacity="0.87"/>
<circle cx="149.94" cy="14.21" r="1.41" fill="#3e3478" fill-opacity="0.83"/>
<ellipse cx="104.69" cy="27.89" rx="0.93" ry="0.74" transform="rotate(135.77 104.69 27.89)" fill="#564a8a" fill-opacity="0.96"/>
<circle cx="135.89" cy="14.99" r="1.16" fill="#5a4c90" fill-opacity="0.77"/>
<circle cx="126.79" cy="35.98" r="1.04" fill="#5a4c90" fill-opacity="0.77"/>
<circle cx="159.74" cy="13.5" r="1.19" fill="#5a4c90" fill-opacity="0.94"/>
<ellipse cx="131.97" cy="26.64" rx="1.4" ry="1.05" transform="rotate(23.1 131.97 26.64)" fill="#6a5a9c" fill-opacity="0.73"/>
<ellipse cx="136.69" cy="29.56" rx="1.24" ry="1.27" transform="rotate(51.81 136.69 29.56)" fill="#463c82" fill-opacity="0.74"/>
<ellipse cx="149.35" cy="33.26" rx="1.08" ry="1" transform="rotate(177.14 149.35 33.26)" fill="#564a8a" fill-opacity="0.9"/>
<ellipse cx="140.25" cy="1.56" rx="1.17" ry="0.69" transform="rotate(136.02 140.25 1.56)" fill="#6a5a9c" fill-opacity="0.76"/>
<circle cx="120.2" cy="13.54" r="1.29" fill="#5a4c90" fill-opacity="0.86"/>
<ellipse cx="118.76" cy="34.14" rx="1.18" ry="0.65" transform="rotate(173.07 118.76 34.14)" fill="#3e3478" fill-opacity="0.7"/>
<ellipse cx="159" cy="32.42" rx="1.28" ry="0.84" transform="rotate(6.35 159 32.42)" fill="#4e4288" fill-opacity="0.98"/>
<ellipse cx="150.18" cy="26.4" rx="1.12" ry="0.89" transform="rotate(160.45 150.18 26.4)" fill="#3e3478" fill-opacity="0.93"/>
<ellipse cx="100.11" cy="30.02" rx="1.39" ry="1.04" transform="rotate(150.71 100.11 30.02)" fill="#4e4288" fill-opacity="0.86"/>
<ellipse cx="104.62" cy="34.2" rx="1.04" ry="1.18" transform="rotate(21.67 104.62 34.2)" fill="#564a8a" fill-opacity="0.95"/>
<ellipse cx="119.02" cy="1.57" rx="1.36" ry="1.23" transform="rotate(173.41 119.02 1.57)" fill="#564a8a" fill-opacity="0.87"/>
<ellipse cx="104.06" cy="29.27" rx="1.07" ry="1.06" transform="rotate(90.07 104.06 29.27)" fill="#3e3478" fill-opacity="0.82"/>
<ellipse cx="99.44" cy="8.99" rx="0.98" ry="1.06" transform="rotate(132.7 99.44 8.99)" fill="#6a5a9c" fill-opacity="0.91"/>
<ellipse cx="134.31" cy="16.6" rx="0.99" ry="0.99" transform="rotate(15.76 134.31 16.6)" fill="#4e4288" fill-opacity="0.73"/>
<ellipse cx="141.74" cy="2.69" rx="0.99" ry="0.78" transform="rotate(62.18 141.74 2.69)" fill="#564a8a" fill-opacity="0.86"/>
<ellipse cx="138.55" cy="14.06" rx="1.24" ry="1.23" transform="rotate(97.21 138.55 14.06)" fill="#6a5a9c" fill-opacity="0.78"/>
<ellipse cx="128.68" cy="35.16" rx="1.44" ry="1.27" transform="rotate(97.59 128.68 35.16)" fill="#564a8a" fill-opacity="0.94"/>
</g>
</g>
<rect x="134.4" y="24.9" width="26.2" height="13.6" fill="#ffffff" stroke="none" stroke-width="1" />
<text x="137.4" y="35.5" font-size="10.2" font-weight="bold" stroke="#111" stroke-width="0.22" text-anchor="start" fill="#111" >NBM</text>
<text x="29.2" y="56.2" font-size="10.3" font-weight="bold" stroke="#111" stroke-width="0.22" text-anchor="start" fill="#111" >AML1-ETO</text>
<clipPath id="cCore"><path d="M50.5,59.5 L54,57.3 L60,56.3 L70,55.3 L77.8,56 L83,54.4 L87,56.5 L91,60 L94,64.5 L96,72 L96.6,80 L96,90 L93.5,96 L89,101 L84,103.5 L80,107 L77,104 L72,102.5 L68,100 L63.5,93 L59.5,86 L56.5,79 L53.5,72 L51,65Z M45,58.2 L40,59.5 L37.2,63 L35.8,70 L35.5,78 L36.5,86 L39,93.5 L44,100 L50,104.5 L57,107.8 L64,109.2 L67.5,107 L67,104.5 L62,100.8 L56.5,97.5 L51.5,93.5 L48,88.5 L46,82 L45.3,75 L45.7,67 L47.5,61.5Z"/></clipPath>
<path d="M50.5,59.5 L54,57.3 L60,56.3 L70,55.3 L77.8,56 L83,54.4 L87,56.5 L91,60 L94,64.5 L96,72 L96.6,80 L96,90 L93.5,96 L89,101 L84,103.5 L80,107 L77,104 L72,102.5 L68,100 L63.5,93 L59.5,86 L56.5,79 L53.5,72 L51,65Z" fill="#781a36"/>
<ellipse cx="43.57" cy="61.01" rx="5.08" ry="4.32" fill="#aa2848"/>
<ellipse cx="43.09" cy="61.96" rx="5.08" ry="4.32" fill="#aa2848"/>
<ellipse cx="42.18" cy="63.68" rx="5.34" ry="4.54" fill="#8e183a"/>
<ellipse cx="41.05" cy="66.47" rx="4.61" ry="3.92" fill="#9a1c3e"/>
<ellipse cx="40.54" cy="67.94" rx="4.49" ry="3.82" fill="#a42244"/>
<ellipse cx="40.73" cy="69.48" rx="4.53" ry="3.85" fill="#9a1c3e"/>
<ellipse cx="39.69" cy="71.44" rx="3.89" ry="3.3" fill="#aa2848"/>
<ellipse cx="40.04" cy="73.63" rx="4.09" ry="3.48" fill="#a42244"/>
<ellipse cx="39.87" cy="76.19" rx="4.56" ry="3.88" fill="#aa2848"/>
<ellipse cx="39.69" cy="78.06" rx="4.58" ry="3.89" fill="#9a1c3e"/>
<ellipse cx="39.81" cy="79.68" rx="4.66" ry="3.96" fill="#8e183a"/>
<ellipse cx="40.34" cy="81.53" rx="3.64" ry="3.1" fill="#9a1c3e"/>
<ellipse cx="40.36" cy="84.55" rx="4.87" ry="4.14" fill="#9a1c3e"/>
<ellipse cx="41.78" cy="85.46" rx="3.92" ry="3.33" fill="#aa2848"/>
<ellipse cx="41.91" cy="87.49" rx="5.07" ry="4.31" fill="#a42244"/>
<ellipse cx="42.52" cy="89.5" rx="4.77" ry="4.05" fill="#8e183a"/>
<ellipse cx="43.93" cy="92.34" rx="3.62" ry="3.08" fill="#a42244"/>
<ellipse cx="44.79" cy="93.14" rx="3.97" ry="3.37" fill="#aa2848"/>
<ellipse cx="46.57" cy="95.44" rx="3.87" ry="3.29" fill="#a42244"/>
<ellipse cx="48.49" cy="96.9" rx="5.08" ry="4.32" fill="#aa2848"/>
<ellipse cx="49.74" cy="98.16" rx="3.77" ry="3.21" fill="#8e183a"/>
<ellipse cx="52.07" cy="100.11" rx="4.9" ry="4.16" fill="#9a1c3e"/>
<ellipse cx="53.21" cy="101.59" rx="3.92" ry="3.33" fill="#9a1c3e"/>
<ellipse cx="54.74" cy="102.26" rx="3.66" ry="3.11" fill="#9a1c3e"/>
<ellipse cx="56.79" cy="103.26" rx="4.76" ry="4.05" fill="#9a1c3e"/>
<ellipse cx="58.48" cy="104.5" rx="3.71" ry="3.15" fill="#9a1c3e"/>
<ellipse cx="60.51" cy="105.11" rx="4.5" ry="3.83" fill="#aa2848"/>
<ellipse cx="62.06" cy="105.86" rx="4.85" ry="4.12" fill="#a42244"/>
<ellipse cx="63.17" cy="106.47" rx="3.07" ry="2.61" fill="#a42244"/>
<ellipse cx="64.65" cy="106.73" rx="2.84" ry="2.41" fill="#aa2848"/>
<ellipse cx="65.62" cy="106.91" rx="3.92" ry="3.33" fill="#9a1c3e"/>
<g filter="url(#blur1)">
<g clip-path="url(#cCore)">
<circle cx="80.74" cy="56.26" r="1.79" fill="#7e2444" fill-opacity="0.86"/>
<ellipse cx="35.28" cy="80.66" rx="0.84" ry="0.83" transform="rotate(123.42 35.28 80.66)" fill="#6a1c40" fill-opacity="0.75"/>
<circle cx="88.8" cy="59.82" r="1.06" fill="#6a1c40" fill-opacity="0.73"/>
<circle cx="87.59" cy="94.82" r="1.29" fill="#5e1028" fill-opacity="0.86"/>
<circle cx="64.19" cy="90.1" r="1.63" fill="#b02c48" fill-opacity="0.96"/>
<ellipse cx="66.07" cy="84.55" rx="0.82" ry="0.86" transform="rotate(145.6 66.07 84.55)" fill="#6a1c40" fill-opacity="0.67"/>
<ellipse cx="67.95" cy="90.16" rx="0.83" ry="1" transform="rotate(30.93 67.95 90.16)" fill="#4e0c22" fill-opacity="0.95"/>
<circle cx="56.16" cy="63.62" r="1.66" fill="#b02c48" fill-opacity="0.71"/>
<circle cx="59.93" cy="58.73" r="1.22" fill="#6a1c40" fill-opacity="0.75"/>
<ellipse cx="84.98" cy="62.69" rx="0.82" ry="0.95" transform="rotate(125.23 84.98 62.69)" fill="#6a1c40" fill-opacity="0.66"/>
<circle cx="97.49" cy="80.63" r="1.75" fill="#9a2440" fill-opacity="0.7"/>
<ellipse cx="38.93" cy="72.31" rx="1.4" ry="1.81" transform="rotate(3.21 38.93 72.31)" fill="#7e2444" fill-opacity="0.86"/>
<circle cx="77.14" cy="85.33" r="1.76" fill="#5e1028" fill-opacity="0.64"/>
<circle cx="93.85" cy="76.42" r="1.76" fill="#6a1c40" fill-opacity="0.98"/>
<ellipse cx="61.08" cy="83.33" rx="1.9" ry="1.57" transform="rotate(172.67 61.08 83.33)" fill="#9a2440" fill-opacity="0.91"/>
<ellipse cx="96.12" cy="96.08" rx="1.03" ry="0.9" transform="rotate(132.43 96.12 96.08)" fill="#4e0c22" fill-opacity="0.76"/>
<ellipse cx="38.61" cy="97.6" rx="1.58" ry="1.24" transform="rotate(47.5 38.61 97.6)" fill="#6a1c40" fill-opacity="0.89"/>
<ellipse cx="76.83" cy="80.74" rx="1.96" ry="1.33" transform="rotate(150.13 76.83 80.74)" fill="#b02c48" fill-opacity="0.8"/>
<ellipse cx="53.12" cy="80.39" rx="0.91" ry="0.71" transform="rotate(60.9 53.12 80.39)" fill="#9a2440" fill-opacity="0.78"/>
<circle cx="73.61" cy="78.6" r="1.43" fill="#5e1028" fill-opacity="0.99"/>
<ellipse cx="56.51" cy="70.53" rx="1.35" ry="1.68" transform="rotate(163 56.51 70.53)" fill="#b02c48" fill-opacity="0.84"/>
<ellipse cx="48.39" cy="71.19" rx="1.19" ry="0.89" transform="rotate(107.04 48.39 71.19)" fill="#4e0c22" fill-opacity="0.78"/>
<ellipse cx="87.01" cy="71.4" rx="0.7" ry="0.83" transform="rotate(67.28 87.01 71.4)" fill="#9a2440" fill-opacity="0.81"/>
<ellipse cx="75.15" cy="68.45" rx="1.57" ry="1.54" transform="rotate(32.07 75.15 68.45)" fill="#6a1c40" fill-opacity="0.68"/>
<circle cx="81.53" cy="83.76" r="1.75" fill="#b02c48" fill-opacity="0.92"/>
<ellipse cx="60.52" cy="97.42" rx="1.48" ry="1.55" transform="rotate(84.9 60.52 97.42)" fill="#5e1028" fill-opacity="0.65"/>
<circle cx="91.05" cy="79.72" r="1.06" fill="#9a2440" fill-opacity="0.96"/>
<circle cx="87.14" cy="92.5" r="1" fill="#b02c48" fill-opacity="0.95"/>
<ellipse cx="64.74" cy="79.18" rx="0.83" ry="0.94" transform="rotate(51.17 64.74 79.18)" fill="#6a1c40" fill-opacity="0.89"/>
<circle cx="40.8" cy="68.9" r="1.65" fill="#6a1c40" fill-opacity="0.95"/>
<circle cx="49.37" cy="59.95" r="1.31" fill="#4e0c22" fill-opacity="0.98"/>
<ellipse cx="34.61" cy="64.15" rx="2.01" ry="1.7" transform="rotate(177.28 34.61 64.15)" fill="#6a1c40" fill-opacity="0.72"/>
<ellipse cx="38.41" cy="74.54" rx="1.07" ry="1" transform="rotate(175.26 38.41 74.54)" fill="#6a1c40" fill-opacity="0.91"/>
<ellipse cx="47.86" cy="102.46" rx="1.15" ry="0.75" transform="rotate(50.31 47.86 102.46)" fill="#6a1c40" fill-opacity="0.78"/>
<circle cx="97.02" cy="52.68" r="1.41" fill="#5e1028" fill-opacity="0.63"/>
<circle cx="97.71" cy="61.3" r="1.54" fill="#5e1028" fill-opacity="0.69"/>
<ellipse cx="39.52" cy="56.41" rx="0.97" ry="1.08" transform="rotate(97.09 39.52 56.41)" fill="#4e0c22" fill-opacity="0.74"/>
<circle cx="40.27" cy="85.63" r="1.25" fill="#6a1c40" fill-opacity="0.64"/>
<ellipse cx="39.5" cy="75.22" rx="1.46" ry="1.24" transform="rotate(155.6 39.5 75.22)" fill="#9a2440" fill-opacity="0.71"/>
<circle cx="41.96" cy="97.93" r="1.56" fill="#b02c48" fill-opacity="0.98"/>
<ellipse cx="65.29" cy="64.43" rx="1.83" ry="1.05" transform="rotate(1.76 65.29 64.43)" fill="#5e1028" fill-opacity="0.84"/>
<circle cx="96.25" cy="67.21" r="1.06" fill="#5e1028" fill-opacity="0.64"/>
<ellipse cx="49.3" cy="108.92" rx="1.93" ry="1.48" transform="rotate(20.51 49.3 108.92)" fill="#9a2440" fill-opacity="0.84"/>
<ellipse cx="48.25" cy="89.88" rx="0.87" ry="0.76" transform="rotate(85.76 48.25 89.88)" fill="#5e1028" fill-opacity="0.72"/>
<circle cx="36.08" cy="104.81" r="0.87" fill="#b02c48" fill-opacity="0.94"/>
<circle cx="61.81" cy="85.49" r="1.79" fill="#7e2444" fill-opacity="0.77"/>
<ellipse cx="87.81" cy="85.8" rx="0.78" ry="0.76" transform="rotate(147.72 87.81 85.8)" fill="#9a2440" fill-opacity="0.61"/>
<circle cx="63.9" cy="88.53" r="1.09" fill="#6a1c40" fill-opacity="0.65"/>
<circle cx="89.48" cy="74.34" r="1.61" fill="#9a2440" fill-opacity="0.74"/>
<ellipse cx="87.56" cy="104.32" rx="1.93" ry="1.23" transform="rotate(159.03 87.56 104.32)" fill="#9a2440" fill-opacity="0.72"/>
<circle cx="53.19" cy="87.79" r="1.06" fill="#6a1c40" fill-opacity="0.66"/>
<ellipse cx="84.36" cy="91.48" rx="1.7" ry="1.14" transform="rotate(116.36 84.36 91.48)" fill="#5e1028" fill-opacity="0.65"/>
<ellipse cx="65.29" cy="80.12" rx="1.41" ry="1.33" transform="rotate(168.63 65.29 80.12)" fill="#b02c48" fill-opacity="0.79"/>
<circle cx="65.21" cy="52.12" r="1.15" fill="#9a2440" fill-opacity="0.63"/>
<circle cx="69.03" cy="72.74" r="1.05" fill="#9a2440" fill-opacity="0.63"/>
<circle cx="78.85" cy="86.61" r="1.45" fill="#4e0c22" fill-opacity="0.62"/>
<ellipse cx="67.31" cy="53.04" rx="1.02" ry="0.73" transform="rotate(127.2 67.31 53.04)" fill="#6a1c40" fill-opacity="0.65"/>
<ellipse cx="93.18" cy="102.18" rx="1.45" ry="1.4" transform="rotate(32.83 93.18 102.18)" fill="#5e1028" fill-opacity="0.71"/>
<ellipse cx="71.14" cy="72.83" rx="0.94" ry="0.99" transform="rotate(109.49 71.14 72.83)" fill="#4e0c22" fill-opacity="0.94"/>
<ellipse cx="54.98" cy="95.68" rx="2.1" ry="1.35" transform="rotate(25.64 54.98 95.68)" fill="#b02c48" fill-opacity="0.88"/>
<circle cx="40.74" cy="97.6" r="1.38" fill="#b02c48" fill-opacity="0.97"/>
<circle cx="39.2" cy="92.84" r="0.97" fill="#4e0c22" fill-opacity="0.89"/>
<circle cx="68.59" cy="66.82" r="1.1" fill="#9a2440" fill-opacity="0.78"/>
<circle cx="60.9" cy="93.45" r="1.03" fill="#9a2440" fill-opacity="0.72"/>
<ellipse cx="58.25" cy="96.23" rx="1.22" ry="0.94" transform="rotate(87.52 58.25 96.23)" fill="#5e1028" fill-opacity="0.71"/>
<circle cx="89.65" cy="97.08" r="0.85" fill="#7e2444" fill-opacity="0.98"/>
<circle cx="85.27" cy="64.06" r="1.38" fill="#5e1028" fill-opacity="0.88"/>
<circle cx="53.83" cy="101.39" r="1.37" fill="#4e0c22" fill-opacity="0.93"/>
<circle cx="42.23" cy="106.98" r="1.46" fill="#7e2444" fill-opacity="0.74"/>
<circle cx="97.73" cy="104.66" r="1.45" fill="#9a2440" fill-opacity="0.8"/>
<circle cx="62.08" cy="58.6" r="0.96" fill="#7e2444" fill-opacity="0.86"/>
<circle cx="86" cy="100.38" r="1.65" fill="#9a2440" fill-opacity="0.7"/>
<circle cx="57.14" cy="56.47" r="1.68" fill="#7e2444" fill-opacity="0.71"/>
<ellipse cx="66.67" cy="78.06" rx="0.89" ry="0.69" transform="rotate(40.14 66.67 78.06)" fill="#5e1028" fill-opacity="0.87"/>
<circle cx="76.9" cy="71.78" r="1.74" fill="#7e2444" fill-opacity="0.99"/>
<circle cx="66.93" cy="58.05" r="1.16" fill="#5e1028" fill-opacity="0.82"/>
<ellipse cx="63.67" cy="66.08" rx="1.62" ry="1.71" transform="rotate(124.65 63.67 66.08)" fill="#5e1028" fill-opacity="0.89"/>
<ellipse cx="47.66" cy="109.21" rx="1.39" ry="0.92" transform="rotate(1.57 47.66 109.21)" fill="#6a1c40" fill-opacity="0.81"/>
<circle cx="83.83" cy="89.56" r="1.46" fill="#5e1028" fill-opacity="0.8"/>
<ellipse cx="80.09" cy="81.02" rx="1.49" ry="1.66" transform="rotate(132.98 80.09 81.02)" fill="#5e1028" fill-opacity="0.68"/>
<ellipse cx="44.08" cy="96.07" rx="1.9" ry="1.82" transform="rotate(145.14 44.08 96.07)" fill="#9a2440" fill-opacity="0.98"/>
<circle cx="74.26" cy="90.79" r="0.98" fill="#6a1c40" fill-opacity="0.63"/>
<circle cx="81.54" cy="63.6" r="1.28" fill="#4e0c22" fill-opacity="0.62"/>
<circle cx="54.97" cy="56.48" r="1.75" fill="#6a1c40" fill-opacity="1"/>
<ellipse cx="38.43" cy="64.22" rx="1.58" ry="1.54" transform="rotate(86.14 38.43 64.22)" fill="#4e0c22" fill-opacity="0.78"/>
<circle cx="43.03" cy="60.49" r="1.31" fill="#b02c48" fill-opacity="0.77"/>
<ellipse cx="93.84" cy="59.98" rx="2.07" ry="1.52" transform="rotate(19.54 93.84 59.98)" fill="#5e1028" fill-opacity="0.99"/>
<circle cx="63.63" cy="93.33" r="1.13" fill="#4e0c22" fill-opacity="0.94"/>
<circle cx="66.87" cy="92.82" r="1.58" fill="#6a1c40" fill-opacity="0.68"/>
<circle cx="56.2" cy="99.98" r="0.98" fill="#6a1c40" fill-opacity="0.97"/>
<ellipse cx="68.34" cy="58.98" rx="1.6" ry="1.5" transform="rotate(100.27 68.34 58.98)" fill="#b02c48" fill-opacity="0.76"/>
<circle cx="79.98" cy="89.84" r="1.23" fill="#5e1028" fill-opacity="0.72"/>
<ellipse cx="56.36" cy="87.55" rx="2.02" ry="1.74" transform="rotate(83.37 56.36 87.55)" fill="#6a1c40" fill-opacity="0.69"/>
<ellipse cx="78.84" cy="95.28" rx="1.58" ry="1.47" transform="rotate(118.19 78.84 95.28)" fill="#5e1028" fill-opacity="0.92"/>
<circle cx="62.22" cy="57.32" r="1.16" fill="#6a1c40" fill-opacity="0.65"/>
<ellipse cx="59.58" cy="55.63" rx="1.58" ry="1.34" transform="rotate(23.14 59.58 55.63)" fill="#6a1c40" fill-opacity="0.75"/>
<ellipse cx="77.97" cy="81.54" rx="1.43" ry="1.32" transform="rotate(175.67 77.97 81.54)" fill="#b02c48" fill-opacity="0.98"/>
<ellipse cx="89.92" cy="87.72" rx="1.61" ry="1.27" transform="rotate(36.43 89.92 87.72)" fill="#b02c48" fill-opacity="0.66"/>
<ellipse cx="51.99" cy="76.86" rx="1.13" ry="1.01" transform="rotate(150.03 51.99 76.86)" fill="#6a1c40" fill-opacity="0.93"/>
<ellipse cx="43.98" cy="96.66" rx="1.04" ry="0.67" transform="rotate(33.37 43.98 96.66)" fill="#9a2440" fill-opacity="0.79"/>
<ellipse cx="53.55" cy="98.54" rx="1.33" ry="0.95" transform="rotate(64.55 53.55 98.54)" fill="#7e2444" fill-opacity="0.66"/>
<circle cx="66.91" cy="70.56" r="1.78" fill="#7e2444" fill-opacity="0.82"/>
<circle cx="66.34" cy="54.51" r="1.68" fill="#4e0c22" fill-opacity="0.95"/>
<circle cx="94.15" cy="96.82" r="1.46" fill="#b02c48" fill-opacity="0.97"/>
<ellipse cx="76.7" cy="83.33" rx="0.93" ry="0.97" transform="rotate(40.08 76.7 83.33)" fill="#9a2440" fill-opacity="1"/>
<circle cx="95.86" cy="58.53" r="1.36" fill="#b02c48" fill-opacity="0.81"/>
<ellipse cx="95.31" cy="80.35" rx="1.4" ry="1.24" transform="rotate(142.78 95.31 80.35)" fill="#5e1028" fill-opacity="0.69"/>
<ellipse cx="71.52" cy="78.9" rx="0.93" ry="0.83" transform="rotate(171.08 71.52 78.9)" fill="#b02c48" fill-opacity="0.67"/>
<ellipse cx="52.9" cy="91.61" rx="1.32" ry="0.96" transform="rotate(163.42 52.9 91.61)" fill="#4e0c22" fill-opacity="0.93"/>
<ellipse cx="96" cy="107.1" rx="1.37" ry="1" transform="rotate(71.13 96 107.1)" fill="#5e1028" fill-opacity="0.87"/>
<circle cx="84.92" cy="89.97" r="1.34" fill="#9a2440" fill-opacity="0.61"/>
<ellipse cx="63.74" cy="57.64" rx="1.39" ry="1.4" transform="rotate(137.12 63.74 57.64)" fill="#5e1028" fill-opacity="0.61"/>
<ellipse cx="93.24" cy="97.8" rx="0.88" ry="0.73" transform="rotate(74.13 93.24 97.8)" fill="#6a1c40" fill-opacity="0.98"/>
<ellipse cx="78.16" cy="58.47" rx="1.46" ry="1.1" transform="rotate(16.62 78.16 58.47)" fill="#7e2444" fill-opacity="0.9"/>
<circle cx="68.51" cy="103.05" r="1.67" fill="#9a2440" fill-opacity="0.75"/>
<ellipse cx="46.93" cy="60.39" rx="1.48" ry="1.12" transform="rotate(54.39 46.93 60.39)" fill="#9a2440" fill-opacity="0.73"/>
<circle cx="89.49" cy="74.73" r="1.22" fill="#9a2440" fill-opacity="0.95"/>
<circle cx="64.11" cy="101.74" r="1.55" fill="#5e1028" fill-opacity="0.69"/>
<circle cx="84.37" cy="68.76" r="0.97" fill="#5e1028" fill-opacity="0.64"/>
<ellipse cx="93.26" cy="57.24" rx="0.84" ry="0.78" transform="rotate(162.83 93.26 57.24)" fill="#7e2444" fill-opacity="0.71"/>
<circle cx="62.45" cy="65.53" r="1.4" fill="#5e1028" fill-opacity="0.86"/>
<ellipse cx="72.33" cy="98.65" rx="1.56" ry="1.17" transform="rotate(32.94 72.33 98.65)" fill="#4e0c22" fill-opacity="0.9"/>
<circle cx="45.87" cy="92.82" r="1.61" fill="#5e1028" fill-opacity="0.81"/>
<ellipse cx="96.64" cy="96.34" rx="1.09" ry="1.34" transform="rotate(47.51 96.64 96.34)" fill="#7e2444" fill-opacity="0.61"/>
<circle cx="38.81" cy="93.08" r="0.95" fill="#b02c48" fill-opacity="0.94"/>
<ellipse cx="54.04" cy="101.26" rx="2.15" ry="1.34" transform="rotate(13.23 54.04 101.26)" fill="#6a1c40" fill-opacity="0.97"/>
<circle cx="78.59" cy="55.29" r="0.99" fill="#6a1c40" fill-opacity="0.6"/>
<circle cx="56.88" cy="56.9" r="1.27" fill="#6a1c40" fill-opacity="0.78"/>
<ellipse cx="83.93" cy="81.65" rx="0.94" ry="0.79" transform="rotate(30.59 83.93 81.65)" fill="#b02c48" fill-opacity="0.97"/>
<circle cx="54.54" cy="64.77" r="1" fill="#4e0c22" fill-opacity="0.61"/>
<ellipse cx="57.61" cy="106.3" rx="1.3" ry="0.92" transform="rotate(125.29 57.61 106.3)" fill="#6a1c40" fill-opacity="0.94"/>
<ellipse cx="59.99" cy="93.85" rx="1.68" ry="1.05" transform="rotate(146.7 59.99 93.85)" fill="#9a2440" fill-opacity="0.69"/>
<ellipse cx="51.08" cy="56.78" rx="0.67" ry="0.73" transform="rotate(46.73 51.08 56.78)" fill="#4e0c22" fill-opacity="0.79"/>
<ellipse cx="71.71" cy="67.05" rx="1.18" ry="0.71" transform="rotate(174.09 71.71 67.05)" fill="#9a2440" fill-opacity="0.79"/>
<circle cx="51.06" cy="95.69" r="1.77" fill="#7e2444" fill-opacity="0.85"/>
<ellipse cx="67.21" cy="80.72" rx="1.5" ry="1.13" transform="rotate(89.59 67.21 80.72)" fill="#6a1c40" fill-opacity="0.8"/>
<circle cx="42.36" cy="67.32" r="0.91" fill="#b02c48" fill-opacity="0.95"/>
<circle cx="87.56" cy="66.4" r="1.6" fill="#7e2444" fill-opacity="0.68"/>
<ellipse cx="94.49" cy="105.22" rx="2" ry="1.52" transform="rotate(89.78 94.49 105.22)" fill="#6a1c40" fill-opacity="0.83"/>
<ellipse cx="66.5" cy="64.51" rx="1.21" ry="0.96" transform="rotate(103.17 66.5 64.51)" fill="#9a2440" fill-opacity="0.94"/>
<circle cx="76.65" cy="52.43" r="1.24" fill="#b02c48" fill-opacity="0.68"/>
<ellipse cx="38.96" cy="66.79" rx="1.63" ry="1.22" transform="rotate(92.72 38.96 66.79)" fill="#5e1028" fill-opacity="0.72"/>
<circle cx="61.83" cy="82.74" r="1.47" fill="#4e0c22" fill-opacity="0.74"/>
<circle cx="39.59" cy="94.04" r="1.21" fill="#5e1028" fill-opacity="0.93"/>
<ellipse cx="95.29" cy="91.34" rx="1.24" ry="0.98" transform="rotate(7.49 95.29 91.34)" fill="#7e2444" fill-opacity="0.88"/>
<circle cx="39.47" cy="66.17" r="1.66" fill="#9a2440" fill-opacity="0.65"/>
<circle cx="81.35" cy="84.66" r="0.93" fill="#9a2440" fill-opacity="0.97"/>
<circle cx="69.64" cy="58.76" r="1.47" fill="#6a1c40" fill-opacity="0.96"/>
<circle cx="81.95" cy="98.09" r="1.12" fill="#4e0c22" fill-opacity="0.83"/>
<circle cx="68.3" cy="81.68" r="1.4" fill="#6a1c40" fill-opacity="0.98"/>
<ellipse cx="60.98" cy="70.31" rx="1.83" ry="1.36" transform="rotate(173.03 60.98 70.31)" fill="#7e2444" fill-opacity="0.65"/>
<ellipse cx="88.7" cy="68.72" rx="0.97" ry="1.04" transform="rotate(48.38 88.7 68.72)" fill="#7e2444" fill-opacity="0.91"/>
<ellipse cx="72.91" cy="75.02" rx="1.28" ry="1.02" transform="rotate(161.84 72.91 75.02)" fill="#4e0c22" fill-opacity="0.92"/>
<circle cx="74.74" cy="83.28" r="0.83" fill="#9a2440" fill-opacity="0.65"/>
<circle cx="91.87" cy="102.11" r="1.78" fill="#6a1c40" fill-opacity="0.72"/>
<ellipse cx="49.98" cy="81.14" rx="0.96" ry="0.84" transform="rotate(91.54 49.98 81.14)" fill="#6a1c40" fill-opacity="0.94"/>
<ellipse cx="93.08" cy="59.96" rx="1.83" ry="1.44" transform="rotate(53.97 93.08 59.96)" fill="#4e0c22" fill-opacity="0.62"/>
<ellipse cx="86.48" cy="56.72" rx="1" ry="0.61" transform="rotate(17 86.48 56.72)" fill="#6a1c40" fill-opacity="0.69"/>
<circle cx="75.36" cy="60.47" r="1.47" fill="#7e2444" fill-opacity="0.79"/>
<ellipse cx="95.79" cy="74.42" rx="1.49" ry="1.89" transform="rotate(140.28 95.79 74.42)" fill="#7e2444" fill-opacity="0.88"/>
<circle cx="66.96" cy="86.25" r="1.29" fill="#4e0c22" fill-opacity="0.81"/>
<ellipse cx="67.04" cy="64.39" rx="0.7" ry="0.73" transform="rotate(126.7 67.04 64.39)" fill="#4e0c22" fill-opacity="0.87"/>
<circle cx="79.38" cy="55.57" r="1.7" fill="#7e2444" fill-opacity="0.78"/>
<circle cx="34.54" cy="54.52" r="1.23" fill="#7e2444" fill-opacity="0.7"/>
<circle cx="56.67" cy="80.49" r="1.09" fill="#9a2440" fill-opacity="0.89"/>
<ellipse cx="78.8" cy="105.63" rx="1.02" ry="0.71" transform="rotate(152.74 78.8 105.63)" fill="#7e2444" fill-opacity="0.72"/>
<circle cx="78.44" cy="79.48" r="1.4" fill="#b02c48" fill-opacity="0.74"/>
<circle cx="80.6" cy="103.86" r="1.72" fill="#6a1c40" fill-opacity="0.67"/>
<circle cx="34.44" cy="63.64" r="1.14" fill="#9a2440" fill-opacity="0.87"/>
<circle cx="79.63" cy="90.17" r="1.03" fill="#6a1c40" fill-opacity="0.87"/>
<circle cx="35.53" cy="100.62" r="1.55" fill="#6a1c40" fill-opacity="0.96"/>
<circle cx="59.93" cy="52.1" r="1.69" fill="#5e1028" fill-opacity="0.82"/>
<ellipse cx="52.13" cy="76.56" rx="2.11" ry="1.41" transform="rotate(141.65 52.13 76.56)" fill="#9a2440" fill-opacity="0.85"/>
<ellipse cx="97.07" cy="61.15" rx="0.88" ry="0.81" transform="rotate(31.34 97.07 61.15)" fill="#5e1028" fill-opacity="0.62"/>
<circle cx="92.89" cy="97.8" r="1.09" fill="#5e1028" fill-opacity="0.66"/>
<ellipse cx="58.4" cy="98.72" rx="0.87" ry="0.64" transform="rotate(17.81 58.4 98.72)" fill="#5e1028" fill-opacity="0.82"/>
<ellipse cx="80.29" cy="81.41" rx="1.88" ry="1.53" transform="rotate(20.57 80.29 81.41)" fill="#9a2440" fill-opacity="0.75"/>
<ellipse cx="42.05" cy="96.94" rx="1.61" ry="1.35" transform="rotate(35.51 42.05 96.94)" fill="#7e2444" fill-opacity="0.7"/>
<ellipse cx="36.74" cy="89.12" rx="1.62" ry="1.57" transform="rotate(23.25 36.74 89.12)" fill="#5e1028" fill-opacity="0.67"/>
<circle cx="60.7" cy="108.87" r="1.54" fill="#b02c48" fill-opacity="0.91"/>
<circle cx="36.1" cy="83.74" r="1.21" fill="#6a1c40" fill-opacity="0.92"/>
<ellipse cx="88.92" cy="98.28" rx="0.88" ry="0.92" transform="rotate(134 88.92 98.28)" fill="#7e2444" fill-opacity="0.78"/>
<ellipse cx="83.99" cy="74.46" rx="0.94" ry="0.72" transform="rotate(102.67 83.99 74.46)" fill="#7e2444" fill-opacity="0.84"/>
<ellipse cx="59.9" cy="103.62" rx="1.27" ry="1.61" transform="rotate(104.54 59.9 103.62)" fill="#4e0c22" fill-opacity="0.83"/>
<ellipse cx="72.24" cy="63" rx="0.98" ry="0.96" transform="rotate(179.91 72.24 63)" fill="#7e2444" fill-opacity="0.91"/>
<circle cx="53.47" cy="75.24" r="1.76" fill="#6a1c40" fill-opacity="0.91"/>
<circle cx="74.01" cy="82.98" r="0.87" fill="#b02c48" fill-opacity="0.89"/>
<ellipse cx="86.34" cy="104.1" rx="1.49" ry="1.27" transform="rotate(144.93 86.34 104.1)" fill="#5e1028" fill-opacity="0.85"/>
<ellipse cx="45.33" cy="102.65" rx="1.2" ry="0.82" transform="rotate(118.35 45.33 102.65)" fill="#6a1c40" fill-opacity="0.97"/>
<circle cx="34.01" cy="76.28" r="0.82" fill="#9a2440" fill-opacity="0.97"/>
<circle cx="97.46" cy="85.31" r="1.12" fill="#9a2440" fill-opacity="0.61"/>
<ellipse cx="77.31" cy="75.48" rx="1.07" ry="0.84" transform="rotate(14.12 77.31 75.48)" fill="#b02c48" fill-opacity="0.89"/>
<ellipse cx="71.72" cy="84" rx="0.81" ry="0.9" transform="rotate(127.27 71.72 84)" fill="#b02c48" fill-opacity="0.64"/>
<circle cx="72.66" cy="66.88" r="1.24" fill="#4e0c22" fill-opacity="0.82"/>
<ellipse cx="59.21" cy="99.91" rx="1.1" ry="0.95" transform="rotate(132.55 59.21 99.91)" fill="#5e1028" fill-opacity="0.76"/>
<ellipse cx="58.4" cy="93.28" rx="1.28" ry="0.82" transform="rotate(167.24 58.4 93.28)" fill="#4e0c22" fill-opacity="0.69"/>
<ellipse cx="41.6" cy="102.92" rx="1.97" ry="1.84" transform="rotate(169.36 41.6 102.92)" fill="#5e1028" fill-opacity="0.98"/>
<ellipse cx="62.66" cy="101.64" rx="0.73" ry="0.61" transform="rotate(94.16 62.66 101.64)" fill="#7e2444" fill-opacity="0.86"/>
<circle cx="72.81" cy="91.87" r="0.98" fill="#4e0c22" fill-opacity="0.74"/>
<ellipse cx="45.94" cy="71.36" rx="1.73" ry="1.23" transform="rotate(102.61 45.94 71.36)" fill="#b02c48" fill-opacity="0.98"/>
<ellipse cx="84.03" cy="105.74" rx="1.6" ry="1.35" transform="rotate(128.02 84.03 105.74)" fill="#4e0c22" fill-opacity="0.95"/>
<ellipse cx="62.7" cy="66.14" rx="1.37" ry="1.47" transform="rotate(47.14 62.7 66.14)" fill="#6a1c40" fill-opacity="0.68"/>
<ellipse cx="81.07" cy="60.57" rx="2.14" ry="1.52" transform="rotate(101.45 81.07 60.57)" fill="#4e0c22" fill-opacity="0.74"/>
<ellipse cx="46.64" cy="97.78" rx="1.38" ry="0.97" transform="rotate(82.64 46.64 97.78)" fill="#b02c48" fill-opacity="0.85"/>
<ellipse cx="38" cy="62.48" rx="1.75" ry="1.83" transform="rotate(46.33 38 62.48)" fill="#b02c48" fill-opacity="0.89"/>
<ellipse cx="71.83" cy="65.6" rx="0.96" ry="1.13" transform="rotate(59.93 71.83 65.6)" fill="#5e1028" fill-opacity="0.82"/>
<circle cx="78.72" cy="75.6" r="1.29" fill="#9a2440" fill-opacity="1"/>
<ellipse cx="88.12" cy="99.01" rx="1.99" ry="1.38" transform="rotate(147.82 88.12 99.01)" fill="#b02c48" fill-opacity="0.74"/>
<circle cx="77.51" cy="58.74" r="1.44" fill="#4e0c22" fill-opacity="0.97"/>
<ellipse cx="65.74" cy="58.09" rx="1.97" ry="1.36" transform="rotate(49.16 65.74 58.09)" fill="#4e0c22" fill-opacity="0.84"/>
<ellipse cx="57.5" cy="62.24" rx="1.29" ry="1.27" transform="rotate(55.77 57.5 62.24)" fill="#6a1c40" fill-opacity="0.73"/>
<circle cx="88.28" cy="57.93" r="1.47" fill="#9a2440" fill-opacity="0.92"/>
<ellipse cx="64.92" cy="64.66" rx="1.01" ry="0.68" transform="rotate(24.13 64.92 64.66)" fill="#9a2440" fill-opacity="0.77"/>
<ellipse cx="80.22" cy="107.36" rx="1.45" ry="1.29" transform="rotate(34.44 80.22 107.36)" fill="#5e1028" fill-opacity="0.98"/>
<circle cx="74.2" cy="86.51" r="1.32" fill="#9a2440" fill-opacity="0.81"/>
<ellipse cx="76.79" cy="107.05" rx="0.76" ry="0.6" transform="rotate(10.85 76.79 107.05)" fill="#b02c48" fill-opacity="0.64"/>
<ellipse cx="50.14" cy="63.32" rx="1.68" ry="1.29" transform="rotate(165.87 50.14 63.32)" fill="#b02c48" fill-opacity="0.99"/>
<ellipse cx="38.08" cy="105.55" rx="1.59" ry="1.26" transform="rotate(64.36 38.08 105.55)" fill="#7e2444" fill-opacity="0.88"/>
<ellipse cx="43.71" cy="84.83" rx="1.02" ry="0.88" transform="rotate(157.71 43.71 84.83)" fill="#b02c48" fill-opacity="0.65"/>
<ellipse cx="73.57" cy="95.39" rx="1.48" ry="1.35" transform="rotate(11.12 73.57 95.39)" fill="#b02c48" fill-opacity="0.7"/>
<ellipse cx="58.8" cy="96.53" rx="1.75" ry="1.22" transform="rotate(179.1 58.8 96.53)" fill="#9a2440" fill-opacity="0.6"/>
<circle cx="80.02" cy="70.62" r="1.56" fill="#9a2440" fill-opacity="0.8"/>
<circle cx="96.62" cy="89.77" r="1.46" fill="#9a2440" fill-opacity="0.81"/>
<ellipse cx="37.85" cy="88.59" rx="1.55" ry="1.15" transform="rotate(169.96 37.85 88.59)" fill="#7e2444" fill-opacity="0.64"/>
<circle cx="49.99" cy="67.72" r="0.97" fill="#4e0c22" fill-opacity="0.79"/>
<ellipse cx="65.12" cy="87.29" rx="1.7" ry="1.64" transform="rotate(115.43 65.12 87.29)" fill="#b02c48" fill-opacity="0.86"/>
<circle cx="94.22" cy="91.54" r="1.72" fill="#5e1028" fill-opacity="0.66"/>
<circle cx="51.15" cy="76.09" r="1.79" fill="#7e2444" fill-opacity="0.9"/>
<circle cx="67.52" cy="97.39" r="0.86" fill="#4e0c22" fill-opacity="0.89"/>
<ellipse cx="89.06" cy="85.17" rx="1.88" ry="1.28" transform="rotate(94.71 89.06 85.17)" fill="#6a1c40" fill-opacity="0.75"/>
<ellipse cx="64.97" cy="100.64" rx="1.11" ry="0.9" transform="rotate(41.48 64.97 100.64)" fill="#6a1c40" fill-opacity="0.76"/>
<ellipse cx="40.03" cy="60.79" rx="1.47" ry="1.9" transform="rotate(105.67 40.03 60.79)" fill="#6a1c40" fill-opacity="0.75"/>
<circle cx="63.38" cy="53.67" r="1.05" fill="#6a1c40" fill-opacity="0.98"/>
<ellipse cx="48.58" cy="59.9" rx="2.02" ry="1.63" transform="rotate(15.05 48.58 59.9)" fill="#6a1c40" fill-opacity="0.88"/>
<ellipse cx="76.03" cy="80.06" rx="1.43" ry="1.5" transform="rotate(0.99 76.03 80.06)" fill="#b02c48" fill-opacity="0.74"/>
<circle cx="86.79" cy="77.87" r="1.25" fill="#b02c48" fill-opacity="1"/>
<ellipse cx="63.61" cy="64.38" rx="1.06" ry="0.92" transform="rotate(104.06 63.61 64.38)" fill="#6a1c40" fill-opacity="0.71"/>
<circle cx="57.85" cy="106.96" r="1.78" fill="#9a2440" fill-opacity="0.75"/>
<circle cx="66.2" cy="100.72" r="1.38" fill="#4e0c22" fill-opacity="0.95"/>
<circle cx="35.68" cy="58.5" r="1.11" fill="#9a2440" fill-opacity="0.66"/>
<ellipse cx="63.64" cy="93.04" rx="1.28" ry="1.4" transform="rotate(159.04 63.64 93.04)" fill="#5e1028" fill-opacity="0.77"/>
<ellipse cx="90.64" cy="60.13" rx="1.13" ry="0.79" transform="rotate(19.36 90.64 60.13)" fill="#7e2444" fill-opacity="0.62"/>
<ellipse cx="53.21" cy="108.57" rx="1.24" ry="0.95" transform="rotate(59.22 53.21 108.57)" fill="#6a1c40" fill-opacity="0.89"/>
<ellipse cx="85.96" cy="108.18" rx="1.28" ry="1.03" transform="rotate(145.29 85.96 108.18)" fill="#9a2440" fill-opacity="0.68"/>
<circle cx="43.63" cy="100.7" r="1.02" fill="#5e1028" fill-opacity="0.76"/>
<circle cx="85.34" cy="108.31" r="1.56" fill="#7e2444" fill-opacity="0.93"/>
<ellipse cx="95.7" cy="94.26" rx="1.72" ry="1.23" transform="rotate(178.76 95.7 94.26)" fill="#9a2440" fill-opacity="0.6"/>
<circle cx="53.68" cy="106.06" r="0.82" fill="#6a1c40" fill-opacity="0.92"/>
<ellipse cx="84.83" cy="71.68" rx="1.66" ry="1.48" transform="rotate(144.7 84.83 71.68)" fill="#9a2440" fill-opacity="0.93"/>
<circle cx="65.64" cy="79.58" r="1.28" fill="#7e2444" fill-opacity="0.96"/>
<ellipse cx="71.4" cy="64.2" rx="1.74" ry="1.1" transform="rotate(171.19 71.4 64.2)" fill="#b02c48" fill-opacity="0.6"/>
<ellipse cx="88.98" cy="103.8" rx="1.73" ry="1.39" transform="rotate(38.54 88.98 103.8)" fill="#4e0c22" fill-opacity="0.71"/>
<circle cx="57.14" cy="75.45" r="0.84" fill="#b02c48" fill-opacity="0.77"/>
<circle cx="88.7" cy="102.88" r="1.52" fill="#9a2440" fill-opacity="0.84"/>
<ellipse cx="96.38" cy="97.68" rx="2.07" ry="1.71" transform="rotate(31.94 96.38 97.68)" fill="#b02c48" fill-opacity="0.99"/>
<circle cx="83.36" cy="74.11" r="1.4" fill="#4e0c22" fill-opacity="0.86"/>
<ellipse cx="72.32" cy="63.31" rx="1.4" ry="1.3" transform="rotate(55.82 72.32 63.31)" fill="#b02c48" fill-opacity="0.83"/>
<ellipse cx="35.36" cy="56.41" rx="1.02" ry="1.01" transform="rotate(149.73 35.36 56.41)" fill="#7e2444" fill-opacity="0.75"/>
<circle cx="57.22" cy="76.35" r="1.17" fill="#6a1c40" fill-opacity="0.66"/>
<ellipse cx="76.67" cy="62.6" rx="1.12" ry="0.66" transform="rotate(145.63 76.67 62.6)" fill="#4e0c22" fill-opacity="0.8"/>
</g>
</g>
<path d="M58,72 L62,74 L64,86 L62,90 L59.5,84 Z" fill="#3a0a20" fill-opacity="0.7" filter="url(#blur1)"/>
<ellipse cx="66" cy="68" rx="10" ry="7" fill="#5a2858" fill-opacity="0.35" filter="url(#blur1)"/>
<ellipse cx="40.7" cy="67.8" rx="2.5" ry="0.65" transform="rotate(204.46 40.7 67.8)" fill="#ffffff"/>
<ellipse cx="40.08" cy="80.4" rx="3" ry="0.8" transform="rotate(188.35 40.08 80.4)" fill="#ffffff"/>
<ellipse cx="45.02" cy="93.3" rx="2.75" ry="0.75" transform="rotate(161.07 45.02 93.3)" fill="#ffffff"/>
<ellipse cx="53.7" cy="101.4" rx="2.5" ry="0.7" transform="rotate(137.47 53.7 101.4)" fill="#ffffff"/>
<ellipse cx="61.4" cy="105.5" rx="2" ry="0.6" transform="rotate(129.44 61.4 105.5)" fill="#ffffff"/>
<ellipse cx="46.82" cy="97.38" rx="1.37" ry="0.97" transform="rotate(133.18 46.82 97.38)" fill="#ffffff"/>
<ellipse cx="63.31" cy="105.71" rx="1.01" ry="0.97" transform="rotate(116.82 63.31 105.71)" fill="#ffffff"/>
<ellipse cx="62.64" cy="105.7" rx="1.02" ry="0.55" transform="rotate(97.88 62.64 105.7)" fill="#ffffff"/>
<ellipse cx="45.99" cy="93.72" rx="0.74" ry="0.57" transform="rotate(164.94 45.99 93.72)" fill="#ffffff"/>
<ellipse cx="55.19" cy="102.09" rx="1.38" ry="0.48" transform="rotate(111.14 55.19 102.09)" fill="#ffffff"/>
<ellipse cx="41.32" cy="67.69" rx="1.46" ry="0.53" transform="rotate(38.79 41.32 67.69)" fill="#ffffff"/>
<ellipse cx="64.47" cy="108.23" rx="0.82" ry="0.98" transform="rotate(97.06 64.47 108.23)" fill="#ffffff"/>
<ellipse cx="50.43" cy="98.89" rx="1.54" ry="0.81" transform="rotate(173.98 50.43 98.89)" fill="#ffffff"/>
<ellipse cx="62.06" cy="105.93" rx="0.9" ry="0.5" transform="rotate(26.23 62.06 105.93)" fill="#ffffff"/>
<ellipse cx="41.76" cy="64.03" rx="1.16" ry="0.4" transform="rotate(122.03 41.76 64.03)" fill="#ffffff"/>
<ellipse cx="39.92" cy="80.27" rx="1.4" ry="0.69" transform="rotate(56.84 39.92 80.27)" fill="#ffffff"/>
<ellipse cx="41.34" cy="89.23" rx="0.56" ry="0.99" transform="rotate(4.12 41.34 89.23)" fill="#ffffff"/>
<ellipse cx="53.43" cy="102.92" rx="0.52" ry="0.87" transform="rotate(65.91 53.43 102.92)" fill="#ffffff"/>
<ellipse cx="46.16" cy="93.96" rx="0.55" ry="0.51" transform="rotate(171.93 46.16 93.96)" fill="#ffffff"/>
<ellipse cx="38.84" cy="71.58" rx="1.52" ry="0.97" transform="rotate(61.99 38.84 71.58)" fill="#ffffff"/>
<ellipse cx="39.53" cy="81.34" rx="1.35" ry="0.46" transform="rotate(134.71 39.53 81.34)" fill="#ffffff"/>
<path d="M85.5,86.5 L90,84 L95,85 L97,87.5 L95.2,91 L90,91.5 Z" fill="#f8eef2"/>
<line x1="70.7" y1="74" x2="91.1" y2="65.1" stroke="#f4dce4" stroke-width="0.9" />
<line x1="71.6" y1="82.9" x2="91.1" y2="94.4" stroke="#f4dce4" stroke-width="0.9" />
<line x1="92.9" y1="65.1" x2="121.7" y2="48.7" stroke="#222" stroke-width="1" />
<line x1="93.8" y1="98" x2="121.7" y2="110.3" stroke="#222" stroke-width="1" />
<rect x="121.5" y="48.5" width="62" height="62" fill="#ffffff" stroke="#2a2a2a" stroke-width="1" />
<rect x="123.2" y="49.5" width="59.1" height="59.3" fill="#ac5070" stroke="none" stroke-width="1" />
<g filter="url(#blur1)">
<g clip-path="url(#cINS)">
<ellipse cx="177.2" cy="96.26" rx="2.53" ry="2.36" transform="rotate(33.34 177.2 96.26)" fill="#a02e4e" fill-opacity="0.93"/>
<circle cx="123.22" cy="70.43" r="2.21" fill="#ac3a5a" fill-opacity="0.57"/>
<ellipse cx="166.25" cy="85.11" rx="2.5" ry="2.6" transform="rotate(13.74 166.25 85.11)" fill="#842442" fill-opacity="0.64"/>
<circle cx="164.83" cy="73.88" r="2.48" fill="#842442" fill-opacity="0.96"/>
<ellipse cx="181.11" cy="85.98" rx="1.59" ry="1.87" transform="rotate(74.19 181.11 85.98)" fill="#ac3a5a" fill-opacity="0.95"/>
<circle cx="157.43" cy="98.82" r="1.58" fill="#ac3a5a" fill-opacity="0.69"/>
<ellipse cx="125.24" cy="55.4" rx="1.82" ry="1.29" transform="rotate(13.54 125.24 55.4)" fill="#9a3052" fill-opacity="0.94"/>
<ellipse cx="141.99" cy="96.23" rx="2.5" ry="1.62" transform="rotate(8.65 141.99 96.23)" fill="#902848" fill-opacity="0.57"/>
<circle cx="163.13" cy="52.93" r="2.7" fill="#842442" fill-opacity="0.59"/>
<ellipse cx="165.78" cy="104.93" rx="2.93" ry="2.44" transform="rotate(91.96 165.78 104.93)" fill="#a02e4e" fill-opacity="0.96"/>
<ellipse cx="162.36" cy="78.8" rx="2.09" ry="1.64" transform="rotate(60.51 162.36 78.8)" fill="#902848" fill-opacity="0.95"/>
<circle cx="175.2" cy="103.09" r="1.52" fill="#842442" fill-opacity="0.63"/>
<ellipse cx="140.04" cy="83.69" rx="2.28" ry="2.37" transform="rotate(151.82 140.04 83.69)" fill="#a02e4e" fill-opacity="0.83"/>
<circle cx="152" cy="82.61" r="2.7" fill="#902848" fill-opacity="0.73"/>
<ellipse cx="135.07" cy="76.61" rx="3.23" ry="2.67" transform="rotate(94.37 135.07 76.61)" fill="#a02e4e" fill-opacity="0.9"/>
<ellipse cx="157.75" cy="60.32" rx="2.68" ry="1.84" transform="rotate(45.16 157.75 60.32)" fill="#b44460" fill-opacity="0.91"/>
<ellipse cx="158.86" cy="51.95" rx="3.41" ry="2.93" transform="rotate(158.11 158.86 51.95)" fill="#842442" fill-opacity="0.66"/>
<circle cx="127.39" cy="84.77" r="2.75" fill="#b44460" fill-opacity="0.89"/>
<ellipse cx="181.98" cy="55.11" rx="2.31" ry="2.32" transform="rotate(126.94 181.98 55.11)" fill="#ac3a5a" fill-opacity="0.79"/>
<ellipse cx="172.11" cy="64.17" rx="1.93" ry="1.63" transform="rotate(146.54 172.11 64.17)" fill="#9a3052" fill-opacity="0.85"/>
<ellipse cx="128.42" cy="56.47" rx="2.82" ry="1.62" transform="rotate(59.98 128.42 56.47)" fill="#a02e4e" fill-opacity="0.88"/>
<ellipse cx="132.83" cy="87.17" rx="2.2" ry="1.41" transform="rotate(61.26 132.83 87.17)" fill="#a02e4e" fill-opacity="0.6"/>
<circle cx="153.38" cy="100.6" r="2.46" fill="#902848" fill-opacity="0.59"/>
<circle cx="132.06" cy="73.05" r="1.63" fill="#b44460" fill-opacity="0.91"/>
<ellipse cx="153.88" cy="108.6" rx="2.59" ry="2.46" transform="rotate(176.99 153.88 108.6)" fill="#a02e4e" fill-opacity="0.61"/>
<circle cx="159.01" cy="82.22" r="1.56" fill="#902848" fill-opacity="0.93"/>
<circle cx="153.71" cy="99.92" r="1.93" fill="#902848" fill-opacity="0.59"/>
<ellipse cx="153.83" cy="105.32" rx="1.88" ry="1.43" transform="rotate(18.98 153.83 105.32)" fill="#ac3a5a" fill-opacity="0.71"/>
<ellipse cx="144.92" cy="66.46" rx="3" ry="2.6" transform="rotate(53.3 144.92 66.46)" fill="#b44460" fill-opacity="0.96"/>
<circle cx="164.25" cy="57" r="1.48" fill="#902848" fill-opacity="0.93"/>
<circle cx="182.01" cy="82.48" r="2.72" fill="#b44460" fill-opacity="0.8"/>
<circle cx="149.88" cy="103.61" r="2.58" fill="#b44460" fill-opacity="0.89"/>
<circle cx="128.71" cy="53.05" r="2.16" fill="#a02e4e" fill-opacity="0.69"/>
<circle cx="135.7" cy="95.36" r="2.61" fill="#a02e4e" fill-opacity="0.63"/>
<ellipse cx="159.43" cy="100.68" rx="2.52" ry="1.9" transform="rotate(117.25 159.43 100.68)" fill="#902848" fill-opacity="0.57"/>
<ellipse cx="179.74" cy="58.28" rx="3.05" ry="1.99" transform="rotate(30.32 179.74 58.28)" fill="#902848" fill-opacity="0.61"/>
<ellipse cx="161.48" cy="67.36" rx="2.79" ry="1.96" transform="rotate(143.72 161.48 67.36)" fill="#902848" fill-opacity="0.73"/>
<ellipse cx="174.89" cy="77.68" rx="2.87" ry="1.92" transform="rotate(39.71 174.89 77.68)" fill="#902848" fill-opacity="0.95"/>
<circle cx="162.04" cy="56.01" r="2.3" fill="#902848" fill-opacity="0.62"/>
<ellipse cx="146.92" cy="98.88" rx="1.9" ry="1.42" transform="rotate(14.2 146.92 98.88)" fill="#9a3052" fill-opacity="0.79"/>
<ellipse cx="177.1" cy="51.74" rx="1.61" ry="1.16" transform="rotate(25.17 177.1 51.74)" fill="#842442" fill-opacity="0.71"/>
<ellipse cx="180.49" cy="88.98" rx="3.05" ry="2.35" transform="rotate(15.06 180.49 88.98)" fill="#902848" fill-opacity="0.76"/>
<ellipse cx="145.35" cy="91.24" rx="2.06" ry="1.75" transform="rotate(60.06 145.35 91.24)" fill="#ac3a5a" fill-opacity="0.85"/>
<ellipse cx="125.35" cy="75.19" rx="2.18" ry="2.3" transform="rotate(98.86 125.35 75.19)" fill="#ac3a5a" fill-opacity="0.83"/>
<ellipse cx="159.94" cy="60.1" rx="2.06" ry="2.16" transform="rotate(106.09 159.94 60.1)" fill="#9a3052" fill-opacity="0.86"/>
<ellipse cx="154.52" cy="103.13" rx="3.22" ry="2.4" transform="rotate(88.73 154.52 103.13)" fill="#a02e4e" fill-opacity="0.83"/>
<circle cx="148.37" cy="102.48" r="1.96" fill="#902848" fill-opacity="0.64"/>
<ellipse cx="127.6" cy="68.07" rx="2.77" ry="1.97" transform="rotate(7.81 127.6 68.07)" fill="#9a3052" fill-opacity="0.78"/>
<ellipse cx="131.06" cy="89.35" rx="1.48" ry="1.23" transform="rotate(91.39 131.06 89.35)" fill="#a02e4e" fill-opacity="0.82"/>
<ellipse cx="141.21" cy="49.81" rx="1.72" ry="1.16" transform="rotate(83.06 141.21 49.81)" fill="#b44460" fill-opacity="0.88"/>
<ellipse cx="177.95" cy="59.47" rx="1.86" ry="1.77" transform="rotate(21.87 177.95 59.47)" fill="#9a3052" fill-opacity="0.96"/>
<ellipse cx="178.28" cy="108.07" rx="3.03" ry="2.27" transform="rotate(27.37 178.28 108.07)" fill="#b44460" fill-opacity="0.69"/>
<circle cx="168.88" cy="91.05" r="2.19" fill="#842442" fill-opacity="0.82"/>
<circle cx="167.02" cy="58" r="2.63" fill="#842442" fill-opacity="0.96"/>
<circle cx="180.36" cy="83.94" r="2.76" fill="#842442" fill-opacity="0.9"/>
<circle cx="150.49" cy="84.23" r="2.53" fill="#b44460" fill-opacity="0.61"/>
<circle cx="148.35" cy="100.48" r="2.79" fill="#ac3a5a" fill-opacity="0.68"/>
<ellipse cx="157.19" cy="86.21" rx="1.65" ry="1.63" transform="rotate(3.81 157.19 86.21)" fill="#842442" fill-opacity="0.8"/>
<circle cx="132.59" cy="99.99" r="1.59" fill="#9a3052" fill-opacity="0.62"/>
<circle cx="152.06" cy="102.62" r="1.51" fill="#9a3052" fill-opacity="0.98"/>
<ellipse cx="182.28" cy="94.76" rx="1.71" ry="1.43" transform="rotate(107.41 182.28 94.76)" fill="#902848" fill-opacity="0.98"/>
<ellipse cx="129.51" cy="49.6" rx="2.39" ry="2.31" transform="rotate(157.72 129.51 49.6)" fill="#9a3052" fill-opacity="0.73"/>
<circle cx="128.22" cy="50.13" r="2.72" fill="#ac3a5a" fill-opacity="0.61"/>
<circle cx="127.83" cy="98.07" r="1.72" fill="#ac3a5a" fill-opacity="0.82"/>
<circle cx="123.69" cy="66.24" r="2.63" fill="#902848" fill-opacity="0.76"/>
<circle cx="158.35" cy="59.86" r="2.31" fill="#b44460" fill-opacity="0.78"/>
<ellipse cx="148.75" cy="93.87" rx="1.74" ry="2.19" transform="rotate(84.42 148.75 93.87)" fill="#a02e4e" fill-opacity="0.63"/>
<ellipse cx="125.15" cy="56.16" rx="2.02" ry="2.2" transform="rotate(98.11 125.15 56.16)" fill="#ac3a5a" fill-opacity="0.58"/>
<circle cx="147.57" cy="86.55" r="2.64" fill="#902848" fill-opacity="0.91"/>
<circle cx="127.44" cy="108.65" r="2.32" fill="#902848" fill-opacity="0.73"/>
<ellipse cx="164.41" cy="83.08" rx="3.12" ry="2.58" transform="rotate(91.33 164.41 83.08)" fill="#ac3a5a" fill-opacity="0.73"/>
<circle cx="150.2" cy="98.54" r="2.43" fill="#b44460" fill-opacity="0.86"/>
<circle cx="134.21" cy="65.15" r="2.41" fill="#842442" fill-opacity="0.77"/>
<circle cx="163.84" cy="69.58" r="1.65" fill="#842442" fill-opacity="0.87"/>
<circle cx="149.65" cy="50.84" r="1.72" fill="#842442" fill-opacity="0.73"/>
<circle cx="182.91" cy="101.1" r="2.11" fill="#9a3052" fill-opacity="0.55"/>
<ellipse cx="155.02" cy="52.23" rx="2.77" ry="2.62" transform="rotate(152.49 155.02 52.23)" fill="#ac3a5a" fill-opacity="0.6"/>
<circle cx="149.42" cy="75.47" r="2.56" fill="#a02e4e" fill-opacity="0.56"/>
<ellipse cx="179.4" cy="49.61" rx="1.2" ry="1.31" transform="rotate(112.36 179.4 49.61)" fill="#842442" fill-opacity="0.77"/>
<circle cx="138.45" cy="70.32" r="2.02" fill="#842442" fill-opacity="0.9"/>
<ellipse cx="127.14" cy="70.47" rx="2.17" ry="2.62" transform="rotate(22.97 127.14 70.47)" fill="#b44460" fill-opacity="0.89"/>
<ellipse cx="166" cy="61.65" rx="2.27" ry="2.15" transform="rotate(70.37 166 61.65)" fill="#902848" fill-opacity="0.67"/>
<circle cx="143.65" cy="104.48" r="2.37" fill="#b44460" fill-opacity="0.7"/>
<circle cx="144.93" cy="101.01" r="1.91" fill="#842442" fill-opacity="0.85"/>
<ellipse cx="149.72" cy="108.65" rx="2.41" ry="2.28" transform="rotate(167.56 149.72 108.65)" fill="#9a3052" fill-opacity="0.98"/>
<circle cx="164.61" cy="98.46" r="2.19" fill="#9a3052" fill-opacity="0.61"/>
<ellipse cx="161.75" cy="87.83" rx="1.41" ry="1.6" transform="rotate(139.03 161.75 87.83)" fill="#b44460" fill-opacity="0.89"/>
<circle cx="163.73" cy="99.39" r="2.37" fill="#b44460" fill-opacity="0.7"/>
<ellipse cx="147.38" cy="89.64" rx="2.72" ry="2.1" transform="rotate(83.87 147.38 89.64)" fill="#902848" fill-opacity="0.57"/>
<ellipse cx="171.22" cy="50.28" rx="1.86" ry="1.9" transform="rotate(72.69 171.22 50.28)" fill="#902848" fill-opacity="0.74"/>
<circle cx="123.14" cy="56.66" r="2.02" fill="#b44460" fill-opacity="0.76"/>
<ellipse cx="124.8" cy="55.19" rx="1.16" ry="1.27" transform="rotate(133.87 124.8 55.19)" fill="#a02e4e" fill-opacity="0.77"/>
<circle cx="140.89" cy="63.29" r="2" fill="#902848" fill-opacity="0.88"/>
<ellipse cx="136.96" cy="98.94" rx="2.83" ry="2.39" transform="rotate(4.49 136.96 98.94)" fill="#902848" fill-opacity="0.67"/>
<circle cx="158.2" cy="100.07" r="2.29" fill="#9a3052" fill-opacity="0.78"/>
<ellipse cx="127.96" cy="53.52" rx="1.56" ry="1.65" transform="rotate(5.37 127.96 53.52)" fill="#b44460" fill-opacity="0.82"/>
<ellipse cx="133.57" cy="73.74" rx="2.08" ry="1.56" transform="rotate(152.91 133.57 73.74)" fill="#9a3052" fill-opacity="0.76"/>
<circle cx="133.87" cy="101.85" r="1.46" fill="#902848" fill-opacity="0.88"/>
<ellipse cx="181.43" cy="93.88" rx="2.32" ry="1.93" transform="rotate(41.12 181.43 93.88)" fill="#ac3a5a" fill-opacity="0.94"/>
<circle cx="172.55" cy="96.67" r="1.56" fill="#a02e4e" fill-opacity="0.87"/>
<ellipse cx="176.75" cy="68.93" rx="2.69" ry="2.05" transform="rotate(19.9 176.75 68.93)" fill="#ac3a5a" fill-opacity="0.67"/>
<circle cx="165" cy="90.7" r="2.47" fill="#a02e4e" fill-opacity="0.61"/>
<circle cx="157.97" cy="53.89" r="2.4" fill="#9a3052" fill-opacity="0.74"/>
<circle cx="146.13" cy="105.33" r="2.7" fill="#ac3a5a" fill-opacity="0.68"/>
<circle cx="165.21" cy="88.94" r="2.29" fill="#9a3052" fill-opacity="0.6"/>
<ellipse cx="181.15" cy="51.7" rx="2.54" ry="1.9" transform="rotate(88.69 181.15 51.7)" fill="#842442" fill-opacity="0.95"/>
<ellipse cx="152.41" cy="72.25" rx="2.26" ry="2.17" transform="rotate(112.71 152.41 72.25)" fill="#902848" fill-opacity="0.75"/>
<circle cx="141.51" cy="104.73" r="2.11" fill="#902848" fill-opacity="0.76"/>
<ellipse cx="172.39" cy="105.45" rx="2.86" ry="2.9" transform="rotate(145.71 172.39 105.45)" fill="#ac3a5a" fill-opacity="0.75"/>
<circle cx="154.66" cy="63.73" r="2.66" fill="#9a3052" fill-opacity="0.73"/>
<circle cx="146.63" cy="94.07" r="1.84" fill="#ac3a5a" fill-opacity="1"/>
<ellipse cx="180.46" cy="108.17" rx="2.27" ry="1.97" transform="rotate(157.97 180.46 108.17)" fill="#902848" fill-opacity="0.65"/>
<circle cx="140.81" cy="75.92" r="2.77" fill="#902848" fill-opacity="0.78"/>
<ellipse cx="167.91" cy="57.01" rx="2.21" ry="1.77" transform="rotate(125.49 167.91 57.01)" fill="#902848" fill-opacity="0.92"/>
<circle cx="146.4" cy="57.87" r="1.91" fill="#902848" fill-opacity="0.87"/>
<circle cx="150.82" cy="106.5" r="1.68" fill="#a02e4e" fill-opacity="0.58"/>
<circle cx="166.02" cy="51.44" r="2.62" fill="#9a3052" fill-opacity="0.74"/>
<circle cx="134.29" cy="74.24" r="2.14" fill="#902848" fill-opacity="0.9"/>
<ellipse cx="166.2" cy="108.47" rx="3.12" ry="1.94" transform="rotate(81.98 166.2 108.47)" fill="#9a3052" fill-opacity="0.71"/>
<ellipse cx="180.09" cy="98.74" rx="2.93" ry="1.85" transform="rotate(139.45 180.09 98.74)" fill="#9a3052" fill-opacity="0.6"/>
<ellipse cx="138.28" cy="91.82" rx="1.46" ry="1.43" transform="rotate(107.84 138.28 91.82)" fill="#9a3052" fill-opacity="0.79"/>
<circle cx="141.61" cy="98.4" r="1.66" fill="#9a3052" fill-opacity="0.63"/>
<circle cx="136.88" cy="87.06" r="1.96" fill="#902848" fill-opacity="0.88"/>
<ellipse cx="158.37" cy="57.75" rx="2.07" ry="1.59" transform="rotate(99.62 158.37 57.75)" fill="#842442" fill-opacity="0.69"/>
<ellipse cx="132.51" cy="79.09" rx="2.05" ry="2.03" transform="rotate(136.83 132.51 79.09)" fill="#ac3a5a" fill-opacity="0.88"/>
<ellipse cx="163.79" cy="62.09" rx="3.57" ry="2.31" transform="rotate(34.41 163.79 62.09)" fill="#902848" fill-opacity="0.75"/>
<ellipse cx="137.64" cy="78.38" rx="1.63" ry="1.26" transform="rotate(177.57 137.64 78.38)" fill="#ac3a5a" fill-opacity="0.56"/>
<ellipse cx="147.23" cy="73.02" rx="2.04" ry="1.7" transform="rotate(168.21 147.23 73.02)" fill="#ac3a5a" fill-opacity="0.56"/>
<ellipse cx="145.21" cy="81.46" rx="1.5" ry="1.38" transform="rotate(168.36 145.21 81.46)" fill="#b44460" fill-opacity="0.91"/>
<circle cx="134.56" cy="62.55" r="1.96" fill="#842442" fill-opacity="0.8"/>
<ellipse cx="165.73" cy="62.2" rx="1.99" ry="2.17" transform="rotate(30.74 165.73 62.2)" fill="#b44460" fill-opacity="0.57"/>
<ellipse cx="155.68" cy="104.31" rx="1.46" ry="1.37" transform="rotate(66.25 155.68 104.31)" fill="#9a3052" fill-opacity="0.61"/>
<circle cx="138.97" cy="58.78" r="2.47" fill="#b44460" fill-opacity="0.84"/>
<circle cx="173.14" cy="69.74" r="1.74" fill="#9a3052" fill-opacity="0.76"/>
<circle cx="134.16" cy="91.94" r="2.17" fill="#b44460" fill-opacity="0.74"/>
<circle cx="128.63" cy="64.75" r="2.62" fill="#902848" fill-opacity="0.67"/>
<circle cx="161.1" cy="89.65" r="2.61" fill="#ac3a5a" fill-opacity="0.93"/>
<circle cx="137.69" cy="50.23" r="2.15" fill="#9a3052" fill-opacity="0.6"/>
<circle cx="170.97" cy="64.14" r="1.48" fill="#b44460" fill-opacity="0.94"/>
<ellipse cx="130.81" cy="83.24" rx="1.81" ry="1.6" transform="rotate(116.67 130.81 83.24)" fill="#a02e4e" fill-opacity="0.59"/>
<circle cx="147.94" cy="53.62" r="2.25" fill="#842442" fill-opacity="0.65"/>
<ellipse cx="157.83" cy="67.31" rx="2.22" ry="2.34" transform="rotate(129.11 157.83 67.31)" fill="#9a3052" fill-opacity="0.87"/>
<ellipse cx="152.75" cy="103.58" rx="1.55" ry="1.9" transform="rotate(167.35 152.75 103.58)" fill="#902848" fill-opacity="0.82"/>
<ellipse cx="158.48" cy="98.66" rx="1.85" ry="2.32" transform="rotate(75.49 158.48 98.66)" fill="#b44460" fill-opacity="0.9"/>
<circle cx="158.03" cy="107.38" r="1.89" fill="#842442" fill-opacity="0.56"/>
<ellipse cx="155.45" cy="95.37" rx="1.97" ry="1.34" transform="rotate(58.9 155.45 95.37)" fill="#a02e4e" fill-opacity="0.74"/>
<circle cx="142.04" cy="81.37" r="2.8" fill="#b44460" fill-opacity="0.58"/>
<circle cx="158.67" cy="89.59" r="2.24" fill="#ac3a5a" fill-opacity="0.87"/>
<ellipse cx="170.21" cy="87.72" rx="2.41" ry="1.81" transform="rotate(164.15 170.21 87.72)" fill="#902848" fill-opacity="0.68"/>
<circle cx="138.33" cy="67.04" r="1.67" fill="#842442" fill-opacity="0.96"/>
<ellipse cx="161.28" cy="54.56" rx="1.71" ry="1.54" transform="rotate(147.41 161.28 54.56)" fill="#842442" fill-opacity="0.8"/>
<circle cx="175.07" cy="54.24" r="1.71" fill="#b44460" fill-opacity="0.76"/>
<ellipse cx="174.22" cy="77.11" rx="3.43" ry="2.63" transform="rotate(164.46 174.22 77.11)" fill="#a02e4e" fill-opacity="0.58"/>
<ellipse cx="144.08" cy="106.31" rx="3.4" ry="2.92" transform="rotate(82.8 144.08 106.31)" fill="#902848" fill-opacity="0.61"/>
<circle cx="170.45" cy="69.56" r="2.79" fill="#902848" fill-opacity="0.75"/>
<circle cx="139.46" cy="101.49" r="1.77" fill="#a02e4e" fill-opacity="0.81"/>
<circle cx="123.09" cy="56.07" r="2.56" fill="#902848" fill-opacity="0.98"/>
<ellipse cx="179.2" cy="75.42" rx="1.81" ry="1.42" transform="rotate(32.92 179.2 75.42)" fill="#902848" fill-opacity="0.92"/>
<ellipse cx="138.8" cy="60.52" rx="2.7" ry="2.02" transform="rotate(144.82 138.8 60.52)" fill="#902848" fill-opacity="0.97"/>
<circle cx="159.81" cy="102.23" r="1.66" fill="#b44460" fill-opacity="0.56"/>
<ellipse cx="160.13" cy="81.4" rx="2.16" ry="1.85" transform="rotate(66.2 160.13 81.4)" fill="#b44460" fill-opacity="0.99"/>
<circle cx="155.61" cy="73.83" r="2.5" fill="#ac3a5a" fill-opacity="0.86"/>
<circle cx="178.46" cy="60.45" r="2.61" fill="#902848" fill-opacity="0.55"/>
<circle cx="175.61" cy="54.75" r="2.13" fill="#9a3052" fill-opacity="0.97"/>
<ellipse cx="154.99" cy="71.65" rx="1.54" ry="1.35" transform="rotate(76.83 154.99 71.65)" fill="#9a3052" fill-opacity="0.74"/>
<circle cx="134.45" cy="53.22" r="1.99" fill="#902848" fill-opacity="0.65"/>
<ellipse cx="156.2" cy="59.21" rx="2.13" ry="1.61" transform="rotate(176.5 156.2 59.21)" fill="#902848" fill-opacity="0.58"/>
<ellipse cx="156.82" cy="49.7" rx="2.02" ry="1.61" transform="rotate(38.34 156.82 49.7)" fill="#842442" fill-opacity="0.79"/>
<ellipse cx="128.36" cy="66.07" rx="1.34" ry="1.31" transform="rotate(52.29 128.36 66.07)" fill="#b44460" fill-opacity="0.59"/>
<ellipse cx="124.35" cy="105.97" rx="1.7" ry="1.82" transform="rotate(66.71 124.35 105.97)" fill="#9a3052" fill-opacity="0.6"/>
<ellipse cx="136.44" cy="51.03" rx="2.76" ry="2.89" transform="rotate(54.84 136.44 51.03)" fill="#a02e4e" fill-opacity="0.89"/>
<circle cx="142.05" cy="90.74" r="1.75" fill="#b44460" fill-opacity="0.69"/>
<circle cx="135.92" cy="49.3" r="1.78" fill="#9a3052" fill-opacity="0.62"/>
<circle cx="137.94" cy="69.68" r="2.53" fill="#b44460" fill-opacity="0.73"/>
<ellipse cx="126.37" cy="62.04" rx="2.5" ry="1.84" transform="rotate(4.44 126.37 62.04)" fill="#a02e4e" fill-opacity="0.91"/>
<circle cx="158.21" cy="69.55" r="2.47" fill="#b44460" fill-opacity="0.75"/>
<circle cx="160.58" cy="76.58" r="2.7" fill="#9a3052" fill-opacity="0.58"/>
<ellipse cx="144.81" cy="108.8" rx="2.54" ry="2.49" transform="rotate(147.94 144.81 108.8)" fill="#9a3052" fill-opacity="0.66"/>
<circle cx="136.87" cy="105.59" r="1.82" fill="#842442" fill-opacity="0.74"/>
<ellipse cx="148.94" cy="64.36" rx="2.47" ry="2.09" transform="rotate(137.71 148.94 64.36)" fill="#9a3052" fill-opacity="0.59"/>
<ellipse cx="126.44" cy="59.22" rx="1.6" ry="1.04" transform="rotate(9.67 126.44 59.22)" fill="#9a3052" fill-opacity="0.74"/>
<circle cx="153.43" cy="104.48" r="2.39" fill="#b44460" fill-opacity="0.86"/>
<circle cx="154.56" cy="90.46" r="2.24" fill="#902848" fill-opacity="0.59"/>
<circle cx="165.43" cy="95.25" r="1.96" fill="#902848" fill-opacity="0.73"/>
<ellipse cx="135.28" cy="102.41" rx="2.97" ry="2" transform="rotate(7.71 135.28 102.41)" fill="#a02e4e" fill-opacity="0.73"/>
<ellipse cx="132.9" cy="71.51" rx="1.92" ry="1.73" transform="rotate(157.24 132.9 71.51)" fill="#ac3a5a" fill-opacity="0.81"/>
<ellipse cx="162.91" cy="52.43" rx="1.79" ry="1.4" transform="rotate(60.19 162.91 52.43)" fill="#9a3052" fill-opacity="0.87"/>
<circle cx="161.79" cy="64.22" r="2.37" fill="#ac3a5a" fill-opacity="0.55"/>
<ellipse cx="166.23" cy="95.37" rx="1.5" ry="1.31" transform="rotate(171.62 166.23 95.37)" fill="#902848" fill-opacity="0.72"/>
<ellipse cx="181.18" cy="108.65" rx="3.19" ry="2" transform="rotate(49.94 181.18 108.65)" fill="#b44460" fill-opacity="0.78"/>
<ellipse cx="173.51" cy="79.64" rx="2.26" ry="2.59" transform="rotate(52.9 173.51 79.64)" fill="#ac3a5a" fill-opacity="0.65"/>
<circle cx="153.77" cy="68.17" r="1.64" fill="#842442" fill-opacity="0.86"/>
<ellipse cx="154.22" cy="56.66" rx="1.66" ry="1.33" transform="rotate(76.86 154.22 56.66)" fill="#902848" fill-opacity="0.61"/>
<circle cx="157.99" cy="53.26" r="1.65" fill="#9a3052" fill-opacity="0.64"/>
<ellipse cx="173.04" cy="97.38" rx="1.81" ry="1.48" transform="rotate(113.4 173.04 97.38)" fill="#b44460" fill-opacity="0.88"/>
<circle cx="155.76" cy="65.58" r="1.66" fill="#902848" fill-opacity="0.65"/>
<ellipse cx="148.17" cy="67.08" rx="2.56" ry="2.31" transform="rotate(7.17 148.17 67.08)" fill="#ac3a5a" fill-opacity="0.92"/>
<ellipse cx="179.52" cy="76.14" rx="3.12" ry="2.49" transform="rotate(59.33 179.52 76.14)" fill="#842442" fill-opacity="0.87"/>
<circle cx="137.48" cy="74.97" r="2.44" fill="#842442" fill-opacity="0.84"/>
<circle cx="167.47" cy="60.12" r="2.52" fill="#9a3052" fill-opacity="0.6"/>
<ellipse cx="139.91" cy="76.27" rx="2.01" ry="1.75" transform="rotate(143.79 139.91 76.27)" fill="#b44460" fill-opacity="0.82"/>
<ellipse cx="172.08" cy="106.91" rx="2.8" ry="1.87" transform="rotate(0.34 172.08 106.91)" fill="#9a3052" fill-opacity="0.73"/>
<circle cx="139.83" cy="86.82" r="2.66" fill="#902848" fill-opacity="0.74"/>
<circle cx="126.17" cy="78.72" r="2.66" fill="#902848" fill-opacity="0.59"/>
<ellipse cx="175.21" cy="71.53" rx="2.09" ry="1.47" transform="rotate(63.81 175.21 71.53)" fill="#ac3a5a" fill-opacity="0.85"/>
<circle cx="177.37" cy="86.47" r="1.88" fill="#842442" fill-opacity="0.74"/>
<ellipse cx="173.21" cy="103.93" rx="2.74" ry="2.01" transform="rotate(155.49 173.21 103.93)" fill="#ac3a5a" fill-opacity="0.84"/>
<circle cx="162.14" cy="83.99" r="2.05" fill="#902848" fill-opacity="0.86"/>
<circle cx="129.27" cy="72.15" r="2.03" fill="#b44460" fill-opacity="0.72"/>
<ellipse cx="181.32" cy="92.26" rx="2.11" ry="1.61" transform="rotate(91.89 181.32 92.26)" fill="#b44460" fill-opacity="0.65"/>
<ellipse cx="182.42" cy="55.63" rx="2.59" ry="1.87" transform="rotate(68.87 182.42 55.63)" fill="#9a3052" fill-opacity="0.71"/>
<ellipse cx="127.73" cy="61.71" rx="2.85" ry="1.92" transform="rotate(97.04 127.73 61.71)" fill="#842442" fill-opacity="0.61"/>
<ellipse cx="163.35" cy="68.75" rx="1.92" ry="1.68" transform="rotate(2.25 163.35 68.75)" fill="#842442" fill-opacity="0.76"/>
<ellipse cx="146.76" cy="83" rx="1.59" ry="1.46" transform="rotate(75.89 146.76 83)" fill="#842442" fill-opacity="0.87"/>
<ellipse cx="181.9" cy="61.84" rx="1.38" ry="1.25" transform="rotate(44.16 181.9 61.84)" fill="#9a3052" fill-opacity="0.98"/>
<circle cx="126.93" cy="69.45" r="1.46" fill="#b44460" fill-opacity="0.8"/>
<ellipse cx="130.89" cy="93.01" rx="2" ry="1.6" transform="rotate(145.81 130.89 93.01)" fill="#902848" fill-opacity="0.96"/>
<ellipse cx="129.5" cy="90.24" rx="1.4" ry="1.35" transform="rotate(37.93 129.5 90.24)" fill="#842442" fill-opacity="0.68"/>
<circle cx="167.65" cy="96.3" r="2.24" fill="#ac3a5a" fill-opacity="0.87"/>
<ellipse cx="150.84" cy="67.78" rx="1.64" ry="1.41" transform="rotate(113.88 150.84 67.78)" fill="#902848" fill-opacity="0.71"/>
<ellipse cx="125.73" cy="104.41" rx="2.18" ry="2.33" transform="rotate(115.53 125.73 104.41)" fill="#9a3052" fill-opacity="0.97"/>
<ellipse cx="124.87" cy="71.65" rx="1.97" ry="1.73" transform="rotate(63.18 124.87 71.65)" fill="#9a3052" fill-opacity="0.85"/>
<circle cx="143.16" cy="84.42" r="2.62" fill="#ac3a5a" fill-opacity="0.59"/>
<circle cx="149.47" cy="53.31" r="2.29" fill="#b44460" fill-opacity="0.65"/>
<ellipse cx="169.25" cy="80.71" rx="1.24" ry="1.17" transform="rotate(109.06 169.25 80.71)" fill="#902848" fill-opacity="0.66"/>
<circle cx="162.69" cy="76" r="1.83" fill="#9a3052" fill-opacity="0.56"/>
<ellipse cx="145.32" cy="87.04" rx="1.51" ry="1.23" transform="rotate(44.12 145.32 87.04)" fill="#a02e4e" fill-opacity="0.78"/>
<ellipse cx="174.74" cy="83.15" rx="1.72" ry="1.66" transform="rotate(19.64 174.74 83.15)" fill="#902848" fill-opacity="0.68"/>
<circle cx="160.45" cy="49.02" r="2.69" fill="#ac3a5a" fill-opacity="0.72"/>
<ellipse cx="154.04" cy="49.31" rx="3.46" ry="2.37" transform="rotate(98.91 154.04 49.31)" fill="#ac3a5a" fill-opacity="0.9"/>
<circle cx="144.09" cy="66.29" r="2.11" fill="#a02e4e" fill-opacity="0.78"/>
<circle cx="130.53" cy="75.83" r="2.4" fill="#a02e4e" fill-opacity="0.77"/>
<circle cx="149.88" cy="49.28" r="1.54" fill="#ac3a5a" fill-opacity="0.59"/>
<ellipse cx="163.18" cy="51.18" rx="2.98" ry="2.35" transform="rotate(30.85 163.18 51.18)" fill="#ac3a5a" fill-opacity="0.7"/>
<ellipse cx="177.09" cy="107.94" rx="1.59" ry="1.59" transform="rotate(91.65 177.09 107.94)" fill="#842442" fill-opacity="0.88"/>
<circle cx="125.44" cy="94.95" r="1.54" fill="#9a3052" fill-opacity="0.59"/>
<ellipse cx="163.35" cy="56.47" rx="3.28" ry="1.93" transform="rotate(68.13 163.35 56.47)" fill="#842442" fill-opacity="0.82"/>
<circle cx="136.14" cy="84.79" r="1.95" fill="#842442" fill-opacity="0.65"/>
<ellipse cx="178.04" cy="92.26" rx="2.07" ry="1.58" transform="rotate(45.74 178.04 92.26)" fill="#902848" fill-opacity="0.57"/>
<circle cx="143.62" cy="54.19" r="1.6" fill="#902848" fill-opacity="0.56"/>
<circle cx="177.87" cy="98.14" r="1.81" fill="#b44460" fill-opacity="0.81"/>
<circle cx="164.27" cy="73.89" r="1.6" fill="#9a3052" fill-opacity="0.87"/>
<ellipse cx="148.62" cy="89.97" rx="1.76" ry="1.8" transform="rotate(53.04 148.62 89.97)" fill="#902848" fill-opacity="0.79"/>
<circle cx="134.12" cy="92.39" r="2.47" fill="#a02e4e" fill-opacity="0.84"/>
<circle cx="135.42" cy="57.14" r="2.1" fill="#ac3a5a" fill-opacity="0.98"/>
<ellipse cx="176.9" cy="90.34" rx="1.3" ry="1.59" transform="rotate(92.3 176.9 90.34)" fill="#a02e4e" fill-opacity="0.67"/>
<circle cx="153.92" cy="59.97" r="2.08" fill="#9a3052" fill-opacity="0.95"/>
<ellipse cx="141.28" cy="77.5" rx="1.63" ry="1.49" transform="rotate(146.3 141.28 77.5)" fill="#b44460" fill-opacity="0.82"/>
<ellipse cx="138.34" cy="71.3" rx="2.15" ry="2.62" transform="rotate(88.19 138.34 71.3)" fill="#842442" fill-opacity="0.66"/>
<ellipse cx="146.69" cy="62.2" rx="1.62" ry="1.09" transform="rotate(76.08 146.69 62.2)" fill="#ac3a5a" fill-opacity="0.91"/>
<circle cx="182.74" cy="49.06" r="1.88" fill="#ac3a5a" fill-opacity="0.71"/>
<circle cx="164.75" cy="77.7" r="1.86" fill="#ac3a5a" fill-opacity="0.74"/>
<circle cx="129.07" cy="80.48" r="1.89" fill="#9a3052" fill-opacity="0.69"/>
<ellipse cx="157.6" cy="62.09" rx="1.22" ry="1.34" transform="rotate(14.9 157.6 62.09)" fill="#b44460" fill-opacity="0.93"/>
<ellipse cx="131.52" cy="49.57" rx="2.73" ry="1.66" transform="rotate(39.15 131.52 49.57)" fill="#ac3a5a" fill-opacity="0.71"/>
<ellipse cx="132.82" cy="103.76" rx="1.99" ry="1.27" transform="rotate(126.68 132.82 103.76)" fill="#a02e4e" fill-opacity="0.7"/>
<ellipse cx="131.44" cy="77.86" rx="2" ry="1.22" transform="rotate(10.68 131.44 77.86)" fill="#b44460" fill-opacity="0.78"/>
<ellipse cx="179.85" cy="65.77" rx="3.48" ry="2.96" transform="rotate(132.95 179.85 65.77)" fill="#b44460" fill-opacity="0.89"/>
<ellipse cx="171.43" cy="57.51" rx="2.29" ry="1.74" transform="rotate(167.13 171.43 57.51)" fill="#842442" fill-opacity="0.98"/>
<circle cx="123.03" cy="80.78" r="2.16" fill="#9a3052" fill-opacity="0.67"/>
<circle cx="162.24" cy="87.02" r="2.26" fill="#a02e4e" fill-opacity="0.83"/>
<ellipse cx="124.11" cy="67.72" rx="2.23" ry="1.93" transform="rotate(129.03 124.11 67.72)" fill="#a02e4e" fill-opacity="0.89"/>
<circle cx="173.82" cy="72.19" r="1.69" fill="#b44460" fill-opacity="0.65"/>
<circle cx="138.93" cy="53.95" r="2.3" fill="#b44460" fill-opacity="0.89"/>
<circle cx="176.32" cy="73.7" r="1.67" fill="#b44460" fill-opacity="0.74"/>
<circle cx="158.51" cy="82.37" r="1.56" fill="#b44460" fill-opacity="0.57"/>
<ellipse cx="182.35" cy="100.54" rx="2.16" ry="1.8" transform="rotate(128.94 182.35 100.54)" fill="#ac3a5a" fill-opacity="0.94"/>
<circle cx="159.09" cy="107.39" r="1.65" fill="#ac3a5a" fill-opacity="0.89"/>
<ellipse cx="173.89" cy="66.18" rx="1.72" ry="1.66" transform="rotate(98.1 173.89 66.18)" fill="#9a3052" fill-opacity="0.7"/>
<ellipse cx="131.59" cy="59.81" rx="2.8" ry="2.19" transform="rotate(99.46 131.59 59.81)" fill="#902848" fill-opacity="0.95"/>
</g>
<g clip-path="url(#cINS)">
<circle cx="179.77" cy="51.52" r="1.49" fill="#605890" fill-opacity="0.71"/>
<circle cx="124.67" cy="103.83" r="1.42" fill="#8068a0" fill-opacity="0.48"/>
<ellipse cx="125.9" cy="59.33" rx="1.78" ry="1.46" transform="rotate(108.88 125.9 59.33)" fill="#7a6ca0" fill-opacity="0.6"/>
<circle cx="139.83" cy="80.52" r="2.15" fill="#7a6ca0" fill-opacity="0.62"/>
<circle cx="124.91" cy="107.89" r="1.42" fill="#6c6098" fill-opacity="0.47"/>
<ellipse cx="170.53" cy="49.83" rx="1.06" ry="1.41" transform="rotate(99.82 170.53 49.83)" fill="#605890" fill-opacity="0.75"/>
<ellipse cx="132.58" cy="108.25" rx="1.28" ry="1.37" transform="rotate(51.02 132.58 108.25)" fill="#6c6098" fill-opacity="0.63"/>
<circle cx="131.41" cy="59.39" r="2.12" fill="#6c6098" fill-opacity="0.58"/>
<circle cx="123.3" cy="70.13" r="1.51" fill="#7a6ca0" fill-opacity="0.57"/>
<ellipse cx="132.69" cy="63.17" rx="1.35" ry="1.1" transform="rotate(147.15 132.69 63.17)" fill="#8068a0" fill-opacity="0.76"/>
<ellipse cx="123.59" cy="77.11" rx="2.13" ry="2.18" transform="rotate(113.48 123.59 77.11)" fill="#6c6098" fill-opacity="0.72"/>
<ellipse cx="126.64" cy="51.3" rx="2.04" ry="1.6" transform="rotate(20.68 126.64 51.3)" fill="#6c6098" fill-opacity="0.84"/>
<circle cx="165.73" cy="103.33" r="1.47" fill="#7a6ca0" fill-opacity="0.6"/>
<circle cx="148.14" cy="97.66" r="1.85" fill="#7a6ca0" fill-opacity="0.47"/>
<circle cx="159" cy="99.81" r="1.8" fill="#8068a0" fill-opacity="0.52"/>
<ellipse cx="160.52" cy="67.17" rx="1.9" ry="1.92" transform="rotate(149.95 160.52 67.17)" fill="#6c6098" fill-opacity="0.84"/>
<ellipse cx="124.1" cy="64.21" rx="1.91" ry="1.63" transform="rotate(22 124.1 64.21)" fill="#7a6ca0" fill-opacity="0.93"/>
<ellipse cx="157.49" cy="78.46" rx="2.66" ry="1.86" transform="rotate(58.63 157.49 78.46)" fill="#605890" fill-opacity="0.56"/>
<ellipse cx="174.88" cy="77.12" rx="2.46" ry="2.47" transform="rotate(5.37 174.88 77.12)" fill="#8068a0" fill-opacity="0.95"/>
<circle cx="178.05" cy="74.87" r="2.28" fill="#8068a0" fill-opacity="0.69"/>
<ellipse cx="165.76" cy="49.23" rx="1.76" ry="1.84" transform="rotate(27.9 165.76 49.23)" fill="#6c6098" fill-opacity="0.67"/>
<circle cx="181.14" cy="69.97" r="2.26" fill="#6c6098" fill-opacity="0.69"/>
<ellipse cx="179.84" cy="61.15" rx="1.7" ry="1.52" transform="rotate(148.01 179.84 61.15)" fill="#7a6ca0" fill-opacity="0.68"/>
<circle cx="170.27" cy="65.93" r="2.02" fill="#7a6ca0" fill-opacity="0.71"/>
<ellipse cx="171.45" cy="75.46" rx="1.92" ry="1.31" transform="rotate(155.94 171.45 75.46)" fill="#605890" fill-opacity="0.53"/>
<circle cx="142.24" cy="88.17" r="1.61" fill="#8068a0" fill-opacity="0.89"/>
<ellipse cx="155.68" cy="87.04" rx="2.1" ry="1.84" transform="rotate(75.37 155.68 87.04)" fill="#6c6098" fill-opacity="0.58"/>
<ellipse cx="123.29" cy="89.44" rx="1.95" ry="1.62" transform="rotate(62.41 123.29 89.44)" fill="#7a6ca0" fill-opacity="0.89"/>
<circle cx="128.5" cy="77.86" r="2.01" fill="#7a6ca0" fill-opacity="0.7"/>
<ellipse cx="125.55" cy="90.57" rx="1.43" ry="1.23" transform="rotate(7.62 125.55 90.57)" fill="#6c6098" fill-opacity="0.56"/>
<circle cx="178.98" cy="65.33" r="1.7" fill="#7a6ca0" fill-opacity="0.57"/>
<circle cx="124.3" cy="104.39" r="2.26" fill="#605890" fill-opacity="0.82"/>
<circle cx="165.47" cy="71.69" r="2.05" fill="#605890" fill-opacity="0.66"/>
<ellipse cx="145.68" cy="73.19" rx="1.98" ry="1.49" transform="rotate(100.73 145.68 73.19)" fill="#7a6ca0" fill-opacity="0.62"/>
<circle cx="123.47" cy="76.18" r="2.11" fill="#7a6ca0" fill-opacity="0.5"/>
<ellipse cx="131.62" cy="65.77" rx="2.2" ry="1.98" transform="rotate(68.12 131.62 65.77)" fill="#605890" fill-opacity="0.82"/>
<ellipse cx="179.67" cy="55.14" rx="1.24" ry="1.08" transform="rotate(141.3 179.67 55.14)" fill="#7a6ca0" fill-opacity="0.98"/>
<ellipse cx="177.82" cy="77.1" rx="1.87" ry="1.96" transform="rotate(37.7 177.82 77.1)" fill="#605890" fill-opacity="0.88"/>
<ellipse cx="172.4" cy="52.93" rx="1.6" ry="1.35" transform="rotate(104.92 172.4 52.93)" fill="#7a6ca0" fill-opacity="0.64"/>
<circle cx="128.41" cy="50.82" r="1.92" fill="#6c6098" fill-opacity="0.96"/>
<circle cx="181.64" cy="61.08" r="2.22" fill="#605890" fill-opacity="0.88"/>
<circle cx="123.23" cy="70.29" r="1.86" fill="#605890" fill-opacity="0.83"/>
<ellipse cx="165.37" cy="51.15" rx="1.84" ry="1.35" transform="rotate(116.06 165.37 51.15)" fill="#605890" fill-opacity="0.51"/>
<circle cx="173.54" cy="79.38" r="2.17" fill="#6c6098" fill-opacity="0.52"/>
<ellipse cx="145.97" cy="64.9" rx="1.54" ry="1.3" transform="rotate(34.04 145.97 64.9)" fill="#7a6ca0" fill-opacity="0.89"/>
<circle cx="131.17" cy="77.89" r="1.75" fill="#8068a0" fill-opacity="0.92"/>
<ellipse cx="132.65" cy="94.42" rx="1.08" ry="0.94" transform="rotate(34.97 132.65 94.42)" fill="#7a6ca0" fill-opacity="0.5"/>
<circle cx="160.15" cy="76.97" r="2.17" fill="#6c6098" fill-opacity="0.89"/>
<circle cx="128.5" cy="84.12" r="1.92" fill="#7a6ca0" fill-opacity="0.6"/>
<circle cx="180.14" cy="50.17" r="2" fill="#6c6098" fill-opacity="0.92"/>
<ellipse cx="141.95" cy="90.03" rx="2.55" ry="1.78" transform="rotate(107.43 141.95 90.03)" fill="#7a6ca0" fill-opacity="0.97"/>
<ellipse cx="144.82" cy="70.54" rx="1.91" ry="2.38" transform="rotate(103.31 144.82 70.54)" fill="#8068a0" fill-opacity="0.8"/>
<circle cx="160.09" cy="64.8" r="1.59" fill="#6c6098" fill-opacity="0.5"/>
<circle cx="127.7" cy="103.88" r="2.16" fill="#7a6ca0" fill-opacity="0.56"/>
<circle cx="177.87" cy="67.96" r="1.75" fill="#605890" fill-opacity="0.77"/>
<circle cx="172.46" cy="68.74" r="2.27" fill="#7a6ca0" fill-opacity="0.88"/>
<circle cx="168.46" cy="58.14" r="2.07" fill="#605890" fill-opacity="0.46"/>
<circle cx="126.5" cy="88.9" r="1.89" fill="#7a6ca0" fill-opacity="0.71"/>
<ellipse cx="165.22" cy="74.13" rx="1.17" ry="1.05" transform="rotate(114.7 165.22 74.13)" fill="#605890" fill-opacity="0.84"/>
<ellipse cx="129.44" cy="82.47" rx="2.24" ry="2.29" transform="rotate(66.71 129.44 82.47)" fill="#605890" fill-opacity="0.69"/>
<ellipse cx="126.42" cy="55.34" rx="1.39" ry="1.39" transform="rotate(122.24 126.42 55.34)" fill="#7a6ca0" fill-opacity="0.62"/>
<circle cx="138.52" cy="98.8" r="1.48" fill="#6c6098" fill-opacity="0.72"/>
<circle cx="181.69" cy="63.98" r="1.39" fill="#7a6ca0" fill-opacity="0.62"/>
<ellipse cx="160.8" cy="79.08" rx="1.59" ry="1.01" transform="rotate(122.69 160.8 79.08)" fill="#605890" fill-opacity="0.96"/>
<ellipse cx="127.2" cy="107.32" rx="1.6" ry="1.11" transform="rotate(80.84 127.2 107.32)" fill="#605890" fill-opacity="0.67"/>
<ellipse cx="123.5" cy="58.77" rx="2.64" ry="2.1" transform="rotate(178.08 123.5 58.77)" fill="#6c6098" fill-opacity="0.47"/>
<ellipse cx="123.93" cy="100.29" rx="1.44" ry="1.22" transform="rotate(137.51 123.93 100.29)" fill="#605890" fill-opacity="0.53"/>
<ellipse cx="148.08" cy="84.85" rx="2.76" ry="1.92" transform="rotate(80.32 148.08 84.85)" fill="#8068a0" fill-opacity="0.95"/>
<circle cx="124.74" cy="68.45" r="1.21" fill="#8068a0" fill-opacity="0.6"/>
<ellipse cx="142.88" cy="94.44" rx="2.55" ry="1.79" transform="rotate(102.06 142.88 94.44)" fill="#7a6ca0" fill-opacity="0.49"/>
<circle cx="123.63" cy="70.8" r="1.96" fill="#605890" fill-opacity="0.81"/>
<circle cx="126.82" cy="84.69" r="1.47" fill="#8068a0" fill-opacity="0.74"/>
<circle cx="131.09" cy="107.59" r="1.63" fill="#6c6098" fill-opacity="0.73"/>
<ellipse cx="124.47" cy="51.72" rx="1.81" ry="2.01" transform="rotate(37.32 124.47 51.72)" fill="#605890" fill-opacity="0.73"/>
<circle cx="181.24" cy="71.48" r="2.1" fill="#6c6098" fill-opacity="0.71"/>
<circle cx="166.86" cy="76.52" r="2.25" fill="#8068a0" fill-opacity="0.99"/>
<ellipse cx="165.7" cy="76.7" rx="1.27" ry="1.23" transform="rotate(48 165.7 76.7)" fill="#7a6ca0" fill-opacity="0.93"/>
<circle cx="128.91" cy="107.56" r="2.32" fill="#605890" fill-opacity="0.98"/>
<ellipse cx="126.14" cy="108.4" rx="1.88" ry="1.51" transform="rotate(92.34 126.14 108.4)" fill="#605890" fill-opacity="0.91"/>
<circle cx="130.41" cy="71.68" r="1.3" fill="#7a6ca0" fill-opacity="0.53"/>
<ellipse cx="181" cy="69.21" rx="2.9" ry="1.82" transform="rotate(144.21 181 69.21)" fill="#8068a0" fill-opacity="0.49"/>
<ellipse cx="170.23" cy="71.64" rx="2.25" ry="1.64" transform="rotate(139.3 170.23 71.64)" fill="#6c6098" fill-opacity="0.63"/>
<ellipse cx="157.89" cy="108.6" rx="2.52" ry="1.97" transform="rotate(27.82 157.89 108.6)" fill="#6c6098" fill-opacity="0.81"/>
<ellipse cx="133.57" cy="51.36" rx="1.16" ry="1.32" transform="rotate(52.86 133.57 51.36)" fill="#8068a0" fill-opacity="0.59"/>
<ellipse cx="126.23" cy="59.07" rx="1.15" ry="1.34" transform="rotate(96.15 126.23 59.07)" fill="#8068a0" fill-opacity="0.53"/>
<circle cx="127.15" cy="55.09" r="2.12" fill="#7a6ca0" fill-opacity="0.83"/>
<circle cx="179.29" cy="58.09" r="1.73" fill="#7a6ca0" fill-opacity="0.78"/>
<ellipse cx="172.39" cy="61.56" rx="2.03" ry="1.58" transform="rotate(153.22 172.39 61.56)" fill="#7a6ca0" fill-opacity="0.46"/>
<ellipse cx="161.35" cy="108.68" rx="1.79" ry="1.38" transform="rotate(71.69 161.35 108.68)" fill="#605890" fill-opacity="0.71"/>
<circle cx="180.11" cy="62.76" r="1.72" fill="#6c6098" fill-opacity="0.8"/>
<ellipse cx="165.66" cy="53.51" rx="2.88" ry="2.46" transform="rotate(78.46 165.66 53.51)" fill="#605890" fill-opacity="0.74"/>
<circle cx="127.92" cy="81.06" r="1.84" fill="#7a6ca0" fill-opacity="0.71"/>
<ellipse cx="126.14" cy="89.59" rx="1.37" ry="1.38" transform="rotate(46.74 126.14 89.59)" fill="#8068a0" fill-opacity="0.79"/>
<ellipse cx="124.28" cy="87.09" rx="2.61" ry="2.34" transform="rotate(64.36 124.28 87.09)" fill="#6c6098" fill-opacity="0.76"/>
<ellipse cx="130.52" cy="86.55" rx="2.16" ry="1.92" transform="rotate(155.09 130.52 86.55)" fill="#6c6098" fill-opacity="0.9"/>
<circle cx="124.07" cy="55.68" r="2.16" fill="#6c6098" fill-opacity="0.65"/>
<ellipse cx="168.85" cy="68.31" rx="1.08" ry="1.14" transform="rotate(34.08 168.85 68.31)" fill="#605890" fill-opacity="0.92"/>
<circle cx="129.72" cy="57.42" r="2.36" fill="#6c6098" fill-opacity="0.85"/>
<circle cx="157.95" cy="88.72" r="1.8" fill="#6c6098" fill-opacity="0.48"/>
<ellipse cx="129.27" cy="86.94" rx="2.12" ry="2.18" transform="rotate(25.7 129.27 86.94)" fill="#605890" fill-opacity="0.87"/>
<circle cx="124.2" cy="94.74" r="2.14" fill="#8068a0" fill-opacity="0.77"/>
<ellipse cx="172.2" cy="52.79" rx="1.94" ry="1.42" transform="rotate(125.78 172.2 52.79)" fill="#605890" fill-opacity="0.46"/>
<ellipse cx="165.4" cy="90" rx="1.54" ry="1.15" transform="rotate(121.29 165.4 90)" fill="#6c6098" fill-opacity="0.97"/>
<ellipse cx="171.41" cy="61.41" rx="1.58" ry="1.68" transform="rotate(27.06 171.41 61.41)" fill="#605890" fill-opacity="0.94"/>
<ellipse cx="129.44" cy="49.57" rx="2.36" ry="1.34" transform="rotate(126.34 129.44 49.57)" fill="#8068a0" fill-opacity="0.98"/>
<circle cx="145.27" cy="98.24" r="2.31" fill="#605890" fill-opacity="0.56"/>
<ellipse cx="141.03" cy="67.26" rx="1.82" ry="1.57" transform="rotate(76.87 141.03 67.26)" fill="#7a6ca0" fill-opacity="0.75"/>
<circle cx="173.12" cy="75.99" r="1.47" fill="#6c6098" fill-opacity="0.62"/>
<ellipse cx="177.35" cy="52.74" rx="2.02" ry="1.98" transform="rotate(175.73 177.35 52.74)" fill="#7a6ca0" fill-opacity="0.99"/>
<circle cx="175.04" cy="56.74" r="1.24" fill="#8068a0" fill-opacity="0.72"/>
<ellipse cx="181.23" cy="72.2" rx="1.66" ry="1.32" transform="rotate(19.5 181.23 72.2)" fill="#8068a0" fill-opacity="0.74"/>
<ellipse cx="148.63" cy="87.66" rx="1.55" ry="1.05" transform="rotate(29.05 148.63 87.66)" fill="#8068a0" fill-opacity="0.51"/>
<ellipse cx="141.3" cy="90.54" rx="2.01" ry="1.28" transform="rotate(100.66 141.3 90.54)" fill="#605890" fill-opacity="0.87"/>
<circle cx="172.63" cy="88.16" r="1.81" fill="#605890" fill-opacity="0.88"/>
<circle cx="180.99" cy="49.46" r="1.43" fill="#8068a0" fill-opacity="0.56"/>
<ellipse cx="173.49" cy="58.36" rx="1.59" ry="1.36" transform="rotate(63.58 173.49 58.36)" fill="#605890" fill-opacity="0.91"/>
<ellipse cx="132.44" cy="81.36" rx="1.76" ry="2" transform="rotate(17.38 132.44 81.36)" fill="#6c6098" fill-opacity="0.99"/>
<circle cx="176.95" cy="60.37" r="2.15" fill="#605890" fill-opacity="0.62"/>
<circle cx="123.81" cy="52.45" r="1.87" fill="#7a6ca0" fill-opacity="0.83"/>
<circle cx="123.5" cy="92.88" r="2.33" fill="#7a6ca0" fill-opacity="0.48"/>
<circle cx="166.18" cy="70.92" r="2.12" fill="#6c6098" fill-opacity="0.96"/>
<ellipse cx="176.77" cy="77.54" rx="1.75" ry="1.27" transform="rotate(10.1 176.77 77.54)" fill="#8068a0" fill-opacity="0.95"/>
<ellipse cx="131.08" cy="68.14" rx="1.9" ry="1.1" transform="rotate(130.89 131.08 68.14)" fill="#8068a0" fill-opacity="0.58"/>
<circle cx="157.63" cy="87.1" r="1.24" fill="#605890" fill-opacity="0.89"/>
<ellipse cx="165.73" cy="52.52" rx="1.79" ry="1.22" transform="rotate(29.81 165.73 52.52)" fill="#6c6098" fill-opacity="0.79"/>
<ellipse cx="167.6" cy="58.71" rx="1.64" ry="0.91" transform="rotate(72.22 167.6 58.71)" fill="#8068a0" fill-opacity="0.86"/>
<ellipse cx="160.99" cy="50.95" rx="2.03" ry="1.88" transform="rotate(170.66 160.99 50.95)" fill="#605890" fill-opacity="0.56"/>
<circle cx="147.8" cy="93.57" r="1.44" fill="#8068a0" fill-opacity="0.48"/>
<circle cx="142.05" cy="92.18" r="2.22" fill="#6c6098" fill-opacity="0.7"/>
<circle cx="173.9" cy="76.56" r="1.52" fill="#7a6ca0" fill-opacity="0.61"/>
</g>
<g clip-path="url(#cINS)">
<ellipse cx="152.61" cy="57.99" rx="1.02" ry="0.75" transform="rotate(96.58 152.61 57.99)" fill="#e0a0b8" fill-opacity="0.7"/>
<circle cx="167.16" cy="60.48" r="1.35" fill="#e8b4c6" fill-opacity="0.48"/>
<circle cx="149.47" cy="90.35" r="1.01" fill="#f0c8d6" fill-opacity="0.63"/>
<circle cx="129.28" cy="68.23" r="1.09" fill="#e8b4c6" fill-opacity="0.72"/>
<ellipse cx="159.23" cy="92.48" rx="0.96" ry="0.89" transform="rotate(22 159.23 92.48)" fill="#e8b4c6" fill-opacity="0.82"/>
<ellipse cx="176.85" cy="62.49" rx="1.63" ry="1.24" transform="rotate(88.18 176.85 62.49)" fill="#f0c8d6" fill-opacity="0.73"/>
<circle cx="165.7" cy="77.46" r="1.26" fill="#d890aa" fill-opacity="0.89"/>
<ellipse cx="182.54" cy="58.56" rx="1.42" ry="1.12" transform="rotate(75.38 182.54 58.56)" fill="#e8b4c6" fill-opacity="0.49"/>
<circle cx="172.26" cy="59.78" r="1.55" fill="#e8b4c6" fill-opacity="0.97"/>
<circle cx="160.75" cy="90.1" r="1.44" fill="#d890aa" fill-opacity="0.9"/>
<ellipse cx="170.71" cy="84.81" rx="1.59" ry="1.59" transform="rotate(79.84 170.71 84.81)" fill="#d890aa" fill-opacity="0.89"/>
<circle cx="149.35" cy="104.07" r="1.57" fill="#e0a0b8" fill-opacity="0.8"/>
<ellipse cx="133.98" cy="84.71" rx="1.35" ry="1.09" transform="rotate(154.38 133.98 84.71)" fill="#e0a0b8" fill-opacity="0.84"/>
<ellipse cx="158.39" cy="104.14" rx="1.7" ry="0.98" transform="rotate(26.33 158.39 104.14)" fill="#e8b4c6" fill-opacity="0.65"/>
<circle cx="152.11" cy="65.26" r="1.21" fill="#f0c8d6" fill-opacity="0.98"/>
<circle cx="175.45" cy="105.76" r="1.39" fill="#d890aa" fill-opacity="0.8"/>
<ellipse cx="125" cy="67.6" rx="1.42" ry="1.46" transform="rotate(77.28 125 67.6)" fill="#e0a0b8" fill-opacity="0.54"/>
<ellipse cx="165.66" cy="66.13" rx="0.99" ry="0.74" transform="rotate(131.52 165.66 66.13)" fill="#d890aa" fill-opacity="0.95"/>
<circle cx="158.12" cy="50.58" r="1.11" fill="#e8b4c6" fill-opacity="0.96"/>
<ellipse cx="132.06" cy="77.89" rx="1.12" ry="1.04" transform="rotate(6.04 132.06 77.89)" fill="#e0a0b8" fill-opacity="0.98"/>
<circle cx="168.72" cy="62.09" r="1.46" fill="#e0a0b8" fill-opacity="0.58"/>
<circle cx="158.66" cy="49.79" r="1.22" fill="#e8b4c6" fill-opacity="0.64"/>
<circle cx="179.45" cy="89.78" r="1.15" fill="#f0c8d6" fill-opacity="0.55"/>
<circle cx="136.25" cy="105.21" r="1.52" fill="#e0a0b8" fill-opacity="0.49"/>
<circle cx="145.06" cy="103.91" r="0.94" fill="#e0a0b8" fill-opacity="0.49"/>
<circle cx="141.44" cy="88.45" r="1.3" fill="#e8b4c6" fill-opacity="0.89"/>
<circle cx="171.5" cy="57.39" r="1.21" fill="#d890aa" fill-opacity="0.68"/>
<circle cx="145.38" cy="100.16" r="1.15" fill="#e0a0b8" fill-opacity="0.77"/>
<circle cx="130.68" cy="80.65" r="0.93" fill="#d890aa" fill-opacity="0.85"/>
<ellipse cx="131.74" cy="98.33" rx="1.26" ry="1.46" transform="rotate(39.85 131.74 98.33)" fill="#e8b4c6" fill-opacity="0.55"/>
<ellipse cx="173.39" cy="99.6" rx="1.32" ry="1.11" transform="rotate(64.24 173.39 99.6)" fill="#e8b4c6" fill-opacity="0.97"/>
<ellipse cx="164.01" cy="57.44" rx="1.32" ry="1.02" transform="rotate(61.16 164.01 57.44)" fill="#e0a0b8" fill-opacity="0.5"/>
<ellipse cx="158.56" cy="78.61" rx="1.64" ry="1.21" transform="rotate(70.56 158.56 78.61)" fill="#e8b4c6" fill-opacity="0.91"/>
<circle cx="134.2" cy="65.99" r="1.26" fill="#d890aa" fill-opacity="0.54"/>
<circle cx="128.4" cy="91.09" r="0.84" fill="#f0c8d6" fill-opacity="0.98"/>
<circle cx="127.01" cy="56.73" r="1.17" fill="#d890aa" fill-opacity="0.61"/>
<circle cx="167.45" cy="67.32" r="1.48" fill="#e8b4c6" fill-opacity="0.88"/>
<circle cx="127.06" cy="97.99" r="1.29" fill="#f0c8d6" fill-opacity="0.9"/>
<circle cx="162.89" cy="55.79" r="1.08" fill="#e0a0b8" fill-opacity="0.99"/>
<circle cx="152.68" cy="73.3" r="1.3" fill="#d890aa" fill-opacity="0.47"/>
<ellipse cx="171.17" cy="67.13" rx="1.54" ry="1.03" transform="rotate(8.11 171.17 67.13)" fill="#f0c8d6" fill-opacity="0.73"/>
<circle cx="171.79" cy="90.65" r="1.4" fill="#e8b4c6" fill-opacity="0.48"/>
<circle cx="136.52" cy="72.42" r="1.28" fill="#e0a0b8" fill-opacity="0.63"/>
<circle cx="156.38" cy="62.78" r="1" fill="#e0a0b8" fill-opacity="0.94"/>
<circle cx="176.33" cy="62.98" r="1.36" fill="#f0c8d6" fill-opacity="0.58"/>
<ellipse cx="137.48" cy="80.98" rx="0.95" ry="0.89" transform="rotate(11.09 137.48 80.98)" fill="#d890aa" fill-opacity="0.63"/>
<ellipse cx="166.84" cy="72.49" rx="1.46" ry="1.66" transform="rotate(54.03 166.84 72.49)" fill="#f0c8d6" fill-opacity="0.65"/>
<circle cx="125.2" cy="49.23" r="1.23" fill="#e8b4c6" fill-opacity="0.61"/>
<ellipse cx="147.52" cy="70.8" rx="0.88" ry="0.85" transform="rotate(39.19 147.52 70.8)" fill="#f0c8d6" fill-opacity="0.46"/>
<circle cx="163.4" cy="73.36" r="1.27" fill="#f0c8d6" fill-opacity="0.56"/>
<circle cx="135.01" cy="66.09" r="1.4" fill="#e8b4c6" fill-opacity="0.92"/>
<circle cx="170.47" cy="74.45" r="0.89" fill="#d890aa" fill-opacity="0.59"/>
<circle cx="124.92" cy="77.24" r="1.57" fill="#f0c8d6" fill-opacity="0.82"/>
<ellipse cx="130.77" cy="83.87" rx="1.24" ry="0.8" transform="rotate(8.74 130.77 83.87)" fill="#e8b4c6" fill-opacity="0.77"/>
<ellipse cx="142.13" cy="49.69" rx="1.18" ry="0.71" transform="rotate(68.97 142.13 49.69)" fill="#f0c8d6" fill-opacity="0.95"/>
<circle cx="123.86" cy="52.08" r="1.37" fill="#e0a0b8" fill-opacity="0.64"/>
<ellipse cx="167.1" cy="58.39" rx="1.17" ry="1.45" transform="rotate(155.76 167.1 58.39)" fill="#e8b4c6" fill-opacity="0.84"/>
<ellipse cx="179.18" cy="98.42" rx="1.59" ry="1.22" transform="rotate(55.88 179.18 98.42)" fill="#e0a0b8" fill-opacity="0.64"/>
<ellipse cx="154.54" cy="79.9" rx="0.85" ry="1.04" transform="rotate(57.38 154.54 79.9)" fill="#e0a0b8" fill-opacity="0.46"/>
<ellipse cx="154.41" cy="64.73" rx="1.89" ry="1.22" transform="rotate(167.82 154.41 64.73)" fill="#e0a0b8" fill-opacity="0.94"/>
<circle cx="126.05" cy="91.05" r="0.95" fill="#e0a0b8" fill-opacity="0.96"/>
<circle cx="176.51" cy="56.27" r="0.89" fill="#d890aa" fill-opacity="0.74"/>
<ellipse cx="151.9" cy="89.25" rx="1.14" ry="0.7" transform="rotate(126.04 151.9 89.25)" fill="#e0a0b8" fill-opacity="0.76"/>
<circle cx="145.81" cy="96.23" r="0.91" fill="#f0c8d6" fill-opacity="0.84"/>
<ellipse cx="125.48" cy="62.5" rx="1.13" ry="1.38" transform="rotate(27.8 125.48 62.5)" fill="#f0c8d6" fill-opacity="0.84"/>
<ellipse cx="162.5" cy="62.62" rx="0.91" ry="0.64" transform="rotate(14.3 162.5 62.62)" fill="#f0c8d6" fill-opacity="0.53"/>
<ellipse cx="150.9" cy="86.49" rx="1.33" ry="0.88" transform="rotate(101.08 150.9 86.49)" fill="#f0c8d6" fill-opacity="0.67"/>
<ellipse cx="171.75" cy="77.6" rx="1.29" ry="0.86" transform="rotate(92.59 171.75 77.6)" fill="#f0c8d6" fill-opacity="0.55"/>
<ellipse cx="157.49" cy="90.2" rx="0.77" ry="0.61" transform="rotate(154.22 157.49 90.2)" fill="#d890aa" fill-opacity="0.62"/>
<ellipse cx="173.02" cy="85.05" rx="1.2" ry="0.7" transform="rotate(73.7 173.02 85.05)" fill="#e0a0b8" fill-opacity="0.97"/>
</g>
</g>
<line x1="126" y1="104.6" x2="142.5" y2="104.6" stroke="#f8f8f8" stroke-width="1" />
<text x="6.8" y="123.4" font-size="10.5" font-weight="bold" stroke="#1a1a1a" stroke-width="0.22" text-anchor="start" fill="#1a1a1a" >B</text>
<line x1="71.8" y1="119.5" x2="71.8" y2="224.5" stroke="#d8d8d8" stroke-width="0.8" />
<line x1="113.7" y1="119.5" x2="113.7" y2="224.5" stroke="#d8d8d8" stroke-width="0.8" />
<line x1="155.7" y1="119.5" x2="155.7" y2="224.5" stroke="#d8d8d8" stroke-width="0.8" />
<line x1="29.5" y1="119.4" x2="29.5" y2="207.5" stroke="#222" stroke-width="1" />
<line x1="29.5" y1="207.5" x2="198.4" y2="207.5" stroke="#222" stroke-width="1" />
<line x1="27.6" y1="207.4" x2="31.4" y2="207.4" stroke="#222" stroke-width="0.8" />
<text x="25.5" y="208.4" font-size="6.1" text-anchor="end" fill="#222" >0</text>
<line x1="27.6" y1="191.62" x2="31.4" y2="191.62" stroke="#222" stroke-width="0.8" />
<text x="25.5" y="192.62" font-size="6.1" text-anchor="end" fill="#222" >10</text>
<line x1="27.6" y1="175.84" x2="31.4" y2="175.84" stroke="#222" stroke-width="0.8" />
<text x="25.5" y="176.84" font-size="6.1" text-anchor="end" fill="#222" >20</text>
<line x1="27.6" y1="160.06" x2="31.4" y2="160.06" stroke="#222" stroke-width="0.8" />
<text x="25.5" y="161.06" font-size="6.1" text-anchor="end" fill="#222" >30</text>
<line x1="27.6" y1="144.28" x2="31.4" y2="144.28" stroke="#222" stroke-width="0.8" />
<text x="25.5" y="145.28" font-size="6.1" text-anchor="end" fill="#222" >40</text>
<line x1="27.6" y1="128.5" x2="31.4" y2="128.5" stroke="#222" stroke-width="0.8" />
<text x="25.5" y="129.5" font-size="6.1" text-anchor="end" fill="#222" >50</text>
<rect x="33.7" y="128.5" width="12" height="78.9" fill="#f4f4f4" stroke="#333" stroke-width="0.8" />
<rect x="34.8" y="129.6" width="9.8" height="77.8" fill="#cbcbcb" stroke="none" stroke-width="1" />
<text x="41.6" y="215.3" font-size="6.2" text-anchor="middle" fill="#222" >NBM</text>
<rect x="55.1" y="203.46" width="12" height="3.94" fill="#161616" stroke="#161616" stroke-width="0.8" />
<text x="63" y="215.3" font-size="6.2" text-anchor="middle" fill="#222" >AML</text>
<text x="48.4" y="227.3" font-size="9" text-anchor="middle" fill="#222" >0</text>
<rect x="75.9" y="167.95" width="12" height="39.45" fill="#f4f4f4" stroke="#333" stroke-width="0.8" />
<rect x="77" y="169.05" width="9.8" height="38.35" fill="#cbcbcb" stroke="none" stroke-width="1" />
<text x="83.8" y="215.3" font-size="6.2" text-anchor="middle" fill="#222" >NBM</text>
<rect x="97.3" y="172.68" width="12" height="34.72" fill="#161616" stroke="#161616" stroke-width="0.8" />
<text x="105.2" y="215.3" font-size="6.2" text-anchor="middle" fill="#222" >AML</text>
<text x="91.2" y="227.9" font-size="10.5" text-anchor="middle" fill="#222" >+</text>
<rect x="117.8" y="175.84" width="12" height="31.56" fill="#f4f4f4" stroke="#333" stroke-width="0.8" />
<rect x="118.9" y="176.94" width="9.8" height="30.46" fill="#cbcbcb" stroke="none" stroke-width="1" />
<text x="125.7" y="215.3" font-size="6.2" text-anchor="middle" fill="#222" >NBM</text>
<rect x="139.2" y="129.29" width="12" height="78.11" fill="#161616" stroke="#161616" stroke-width="0.8" />
<text x="147.1" y="215.3" font-size="6.2" text-anchor="middle" fill="#222" >AML</text>
<text x="136.8" y="227.9" font-size="10.5" text-anchor="middle" fill="#222" >++</text>
<rect x="159.8" y="199.51" width="12" height="7.89" fill="#f4f4f4" stroke="#333" stroke-width="0.8" />
<rect x="160.9" y="200.61" width="9.8" height="6.79" fill="#cbcbcb" stroke="none" stroke-width="1" />
<text x="167.7" y="215.3" font-size="6.2" text-anchor="middle" fill="#222" >NBM</text>
<rect x="181.2" y="164.79" width="12" height="42.61" fill="#161616" stroke="#161616" stroke-width="0.8" />
<text x="189.1" y="215.3" font-size="6.2" text-anchor="middle" fill="#222" >AML</text>
<text x="178.8" y="227.9" font-size="10.5" text-anchor="middle" fill="#222" >+++</text>
<line x1="40.2" y1="229.8" x2="193" y2="229.8" stroke="#222" stroke-width="0.9" />
<text x="70.4" y="238.9" font-size="6.9" font-weight="bold" stroke="#111" stroke-width="0.22" text-anchor="start" fill="#111" >AES&#160;&#160;Immunohistochemistry</text>
<text x="0" y="0" font-size="6.6" font-weight="bold" stroke="#111" stroke-width="0.22" text-anchor="middle" fill="#111" transform="translate(12.6,159.4) rotate(-90)">% of total</text>
<text x="6.4" y="243.9" font-size="10.5" font-weight="bold" stroke="#1a1a1a" stroke-width="0.22" text-anchor="start" fill="#1a1a1a" >C</text>
<line x1="31.5" y1="245.6" x2="31.5" y2="309.5" stroke="#222" stroke-width="1" />
<line x1="31.5" y1="309.5" x2="219" y2="309.5" stroke="#222" stroke-width="1" />
<line x1="29.3" y1="262.4" x2="31.5" y2="262.4" stroke="#222" stroke-width="0.9" />
<line x1="29.3" y1="287.6" x2="31.5" y2="287.6" stroke="#222" stroke-width="0.9" />
<line x1="36" y1="309.2" x2="36" y2="313" stroke="#222" stroke-width="1.25" />
<text x="36" y="321" font-size="6.6" font-weight="bold" stroke="#111" stroke-width="0.22" text-anchor="middle" fill="#111" >0</text>
<line x1="71.66" y1="309.2" x2="71.66" y2="313" stroke="#222" stroke-width="1.25" />
<text x="71.66" y="321" font-size="6.6" font-weight="bold" stroke="#111" stroke-width="0.22" text-anchor="middle" fill="#111" >0.2</text>
<line x1="107.32" y1="309.2" x2="107.32" y2="313" stroke="#222" stroke-width="1.25" />
<text x="107.32" y="321" font-size="6.6" font-weight="bold" stroke="#111" stroke-width="0.22" text-anchor="middle" fill="#111" >0.4</text>
<line x1="142.98" y1="309.2" x2="142.98" y2="313" stroke="#222" stroke-width="1.25" />
<text x="142.98" y="321" font-size="6.6" font-weight="bold" stroke="#111" stroke-width="0.22" text-anchor="middle" fill="#111" >0.6</text>
<line x1="178.64" y1="309.2" x2="178.64" y2="313" stroke="#222" stroke-width="1.25" />
<text x="178.64" y="322.1" font-size="6.6" font-weight="bold" stroke="#111" stroke-width="0.22" text-anchor="middle" fill="#111" >0.8</text>
<line x1="214.3" y1="309.2" x2="214.3" y2="313" stroke="#222" stroke-width="1.25" />
<text x="214.3" y="321" font-size="6.6" font-weight="bold" stroke="#111" stroke-width="0.22" text-anchor="middle" fill="#111" >1.0</text>
<text x="0" y="0" font-size="6.5" font-weight="bold" stroke="#111" stroke-width="0.22" text-anchor="middle" fill="#111" transform="translate(24.2,262.4) rotate(-90)">NBM</text>
<text x="0" y="0" font-size="6.5" font-weight="bold" stroke="#111" stroke-width="0.22" text-anchor="middle" fill="#111" transform="translate(24.2,287.6) rotate(-90)">AML</text>
<line x1="69.2" y1="262.5" x2="81.1" y2="262.5" stroke="#666" stroke-width="1" />
<line x1="102.3" y1="262.5" x2="115.4" y2="262.5" stroke="#666" stroke-width="1" />
<rect x="81.1" y="254.6" width="21.2" height="16.8" fill="#f4f4f4" stroke="#444" stroke-width="0.8" />
<rect x="82.2" y="255.7" width="19" height="14.6" fill="#cdcdcd" stroke="none" stroke-width="1" />
<line x1="91.6" y1="254.6" x2="91.6" y2="271.4" stroke="#000" stroke-width="1.7" />
<line x1="73.8" y1="287.5" x2="96" y2="287.5" stroke="#666" stroke-width="1" />
<line x1="149.8" y1="287.5" x2="209" y2="287.5" stroke="#666" stroke-width="1" />
<rect x="96" y="279.5" width="53.8" height="16.5" fill="#5e5e5e" stroke="#444" stroke-width="0.8" />
<line x1="117.5" y1="279.5" x2="117.5" y2="296" stroke="#000" stroke-width="1.6" />
<text x="40.6" y="302.3" font-size="7.3" text-anchor="start" fill="#333" >p=0.012</text>
<text x="95.4" y="334.6" font-size="6.8" font-weight="bold" stroke="#111" stroke-width="0.22" text-anchor="start" fill="#111" >AES&#160;&#160;mRNA</text>
<text x="209.6" y="16.2" font-size="10.8" font-weight="bold" stroke="#1a1a1a" stroke-width="0.22" text-anchor="start" fill="#1a1a1a" >D</text>
<rect x="247.8" y="8" width="119.4" height="136.2" fill="none" stroke="#444" stroke-width="1.1" />
<line x1="244.4" y1="137.2" x2="247.8" y2="137.2" stroke="#333" stroke-width="0.9" />
<text x="243" y="139.9" font-size="7.3" font-weight="bold" stroke="#111" stroke-width="0.22" text-anchor="end" fill="#111" >0.0</text>
<line x1="244.4" y1="112.72" x2="247.8" y2="112.72" stroke="#333" stroke-width="0.9" />
<text x="243" y="115.42" font-size="7.3" font-weight="bold" stroke="#111" stroke-width="0.22" text-anchor="end" fill="#111" >0.2</text>
<line x1="244.4" y1="88.24" x2="247.8" y2="88.24" stroke="#333" stroke-width="0.9" />
<text x="243" y="90.94" font-size="7.3" font-weight="bold" stroke="#111" stroke-width="0.22" text-anchor="end" fill="#111" >0.4</text>
<line x1="244.4" y1="63.76" x2="247.8" y2="63.76" stroke="#333" stroke-width="0.9" />
<text x="243" y="66.46" font-size="7.3" font-weight="bold" stroke="#111" stroke-width="0.22" text-anchor="end" fill="#111" >0.6</text>
<line x1="244.4" y1="39.28" x2="247.8" y2="39.28" stroke="#333" stroke-width="0.9" />
<text x="243" y="41.98" font-size="7.3" font-weight="bold" stroke="#111" stroke-width="0.22" text-anchor="end" fill="#111" >0.8</text>
<line x1="244.4" y1="14.8" x2="247.8" y2="14.8" stroke="#333" stroke-width="0.9" />
<text x="243" y="17.5" font-size="7.3" font-weight="bold" stroke="#111" stroke-width="0.22" text-anchor="end" fill="#111" >1.0</text>
<line x1="254.3" y1="144.2" x2="254.3" y2="146.8" stroke="#333" stroke-width="0.9" />
<text x="254.3" y="155.2" font-size="7.3" font-weight="bold" stroke="#111" stroke-width="0.22" text-anchor="middle" fill="#111" >0</text>
<line x1="279.6" y1="144.2" x2="279.6" y2="146.8" stroke="#333" stroke-width="0.9" />
<text x="279.6" y="155.2" font-size="7.3" font-weight="bold" stroke="#111" stroke-width="0.22" text-anchor="middle" fill="#111" >1</text>
<line x1="304.9" y1="144.2" x2="304.9" y2="146.8" stroke="#333" stroke-width="0.9" />
<text x="304.9" y="155.2" font-size="7.3" font-weight="bold" stroke="#111" stroke-width="0.22" text-anchor="middle" fill="#111" >2</text>
<line x1="330.2" y1="144.2" x2="330.2" y2="146.8" stroke="#333" stroke-width="0.9" />
<text x="330.2" y="155.2" font-size="7.3" font-weight="bold" stroke="#111" stroke-width="0.22" text-anchor="middle" fill="#111" >3</text>
<line x1="355.5" y1="144.2" x2="355.5" y2="146.8" stroke="#333" stroke-width="0.9" />
<text x="355.5" y="155.2" font-size="7.3" font-weight="bold" stroke="#111" stroke-width="0.22" text-anchor="middle" fill="#111" >4</text>
<text x="308.5" y="163.4" font-size="9.2" font-weight="bold" stroke="#111" stroke-width="0.22" text-anchor="middle" fill="#111" >time (years)</text>
<text x="365" y="17.8" font-size="7.75" font-weight="bold" stroke="#111" stroke-width="0.22" text-anchor="end" fill="#111" >mRNA microarray</text>
<text x="318" y="29.7" font-size="7.7" text-anchor="start" fill="#222" >p=0.001</text>
<text x="0" y="0" font-size="8" font-weight="bold" stroke="#111" stroke-width="0.22" text-anchor="middle" fill="#111" transform="translate(229.8,70.2) rotate(-90)">Event free survival</text>
<polyline points="253.9,31.7 254.2,41.4 256.2,60 257.1,80 257.9,97.3 259.3,104.5 261.4,113.8 263.5,116.3 266.6,120 269.7,122.1 274.8,123.2 358.5,123.5" fill="none" stroke="#1d2a86" stroke-width="1.8" stroke-linejoin="miter"/>
<polyline points="253.7,14.8 253.7,29.9 256.6,35.2 257.2,50 258.3,65 259.3,80 260.4,93.1 262.4,98.3 264,101.5 266.6,103.5 272.8,106 281,107.3 358.5,107.5" fill="none" stroke="#3f9f3a" stroke-width="1.8" stroke-linejoin="miter"/>
<text x="311.9" y="100.9" font-size="7.8" font-weight="bold" stroke="#111" stroke-width="0.22" text-anchor="start" fill="#111" >AES high</text>
<text x="312.8" y="134" font-size="7.8" font-weight="bold" stroke="#111" stroke-width="0.22" text-anchor="start" fill="#111" >AES low</text>
<rect x="394.8" y="8" width="118.1" height="135.5" fill="none" stroke="#444" stroke-width="1.1" />
<line x1="391.4" y1="137.2" x2="394.8" y2="137.2" stroke="#333" stroke-width="0.9" />
<text x="391.2" y="139.9" font-size="7.3" font-weight="bold" stroke="#111" stroke-width="0.22" text-anchor="end" fill="#111" >0.0</text>
<line x1="391.4" y1="112.74" x2="394.8" y2="112.74" stroke="#333" stroke-width="0.9" />
<text x="391.2" y="115.44" font-size="7.3" font-weight="bold" stroke="#111" stroke-width="0.22" text-anchor="end" fill="#111" >0.2</text>
<line x1="391.4" y1="88.28" x2="394.8" y2="88.28" stroke="#333" stroke-width="0.9" />
<text x="391.2" y="90.98" font-size="7.3" font-weight="bold" stroke="#111" stroke-width="0.22" text-anchor="end" fill="#111" >0.4</text>
<line x1="391.4" y1="63.82" x2="394.8" y2="63.82" stroke="#333" stroke-width="0.9" />
<text x="391.2" y="66.52" font-size="7.3" font-weight="bold" stroke="#111" stroke-width="0.22" text-anchor="end" fill="#111" >0.6</text>
<line x1="391.4" y1="39.36" x2="394.8" y2="39.36" stroke="#333" stroke-width="0.9" />
<text x="391.2" y="42.06" font-size="7.3" font-weight="bold" stroke="#111" stroke-width="0.22" text-anchor="end" fill="#111" >0.8</text>
<line x1="391.4" y1="14.9" x2="394.8" y2="14.9" stroke="#333" stroke-width="0.9" />
<text x="391.2" y="17.6" font-size="7.3" font-weight="bold" stroke="#111" stroke-width="0.22" text-anchor="end" fill="#111" >1.0</text>
<line x1="400.3" y1="143.5" x2="400.3" y2="146.1" stroke="#333" stroke-width="0.9" />
<text x="400.3" y="154.5" font-size="7.3" font-weight="bold" stroke="#111" stroke-width="0.22" text-anchor="middle" fill="#111" >0</text>
<line x1="425.7" y1="143.5" x2="425.7" y2="146.1" stroke="#333" stroke-width="0.9" />
<text x="425.7" y="154.5" font-size="7.3" font-weight="bold" stroke="#111" stroke-width="0.22" text-anchor="middle" fill="#111" >1</text>
<line x1="451.1" y1="143.5" x2="451.1" y2="146.1" stroke="#333" stroke-width="0.9" />
<text x="451.1" y="154.5" font-size="7.3" font-weight="bold" stroke="#111" stroke-width="0.22" text-anchor="middle" fill="#111" >2</text>
<line x1="476.5" y1="143.5" x2="476.5" y2="146.1" stroke="#333" stroke-width="0.9" />
<text x="476.5" y="154.5" font-size="7.3" font-weight="bold" stroke="#111" stroke-width="0.22" text-anchor="middle" fill="#111" >3</text>
<line x1="501.9" y1="143.5" x2="501.9" y2="146.1" stroke="#333" stroke-width="0.9" />
<text x="501.9" y="154.5" font-size="7.3" font-weight="bold" stroke="#111" stroke-width="0.22" text-anchor="middle" fill="#111" >4</text>
<text x="454.85" y="162.7" font-size="9.2" font-weight="bold" stroke="#111" stroke-width="0.22" text-anchor="middle" fill="#111" >time (years)</text>
<text x="510.7" y="17.8" font-size="7.75" font-weight="bold" stroke="#111" stroke-width="0.22" text-anchor="end" fill="#111" >mRNA microarray</text>
<text x="458.6" y="29.7" font-size="7.7" text-anchor="start" fill="#222" >p=0.008</text>
<text x="0" y="0" font-size="8" font-weight="bold" stroke="#111" stroke-width="0.22" text-anchor="middle" fill="#111" transform="translate(379.3,72.9) rotate(-90)">Overall survival</text>
<polyline points="400.3,14.4 401.8,27.8 403,45.6 404.4,60 405.7,81.3 408,94.6 409.8,103.5 412.4,106.5 417.8,109.7 423.1,111.9 428.4,112.9 435.5,114.2 441.7,115.1 442.6,116.4 505.2,116.4" fill="none" stroke="#1d2a86" stroke-width="1.8" stroke-linejoin="miter"/>
<polyline points="400.3,14.4 402.5,27.8 404.8,45.6 406.7,60 408,77.8 409.8,85.8 412.4,92 415.1,94.6 419.5,96.4 421.3,97.7 431.1,97.7 432,100.9 505.2,101" fill="none" stroke="#3f9f3a" stroke-width="1.8" stroke-linejoin="miter"/>
<text x="457.6" y="93.9" font-size="7.8" font-weight="bold" stroke="#111" stroke-width="0.22" text-anchor="start" fill="#111" >AES high</text>
<text x="458.7" y="127.6" font-size="7.8" font-weight="bold" stroke="#111" stroke-width="0.22" text-anchor="start" fill="#111" >AES low</text>
<rect x="247.5" y="169" width="118.5" height="134.7" fill="none" stroke="#444" stroke-width="1.1" />
<line x1="244.1" y1="296.6" x2="247.5" y2="296.6" stroke="#333" stroke-width="0.9" />
<text x="242.7" y="299.3" font-size="7.3" font-weight="bold" stroke="#111" stroke-width="0.22" text-anchor="end" fill="#111" >0.0</text>
<line x1="244.1" y1="272.5" x2="247.5" y2="272.5" stroke="#333" stroke-width="0.9" />
<text x="242.7" y="275.2" font-size="7.3" font-weight="bold" stroke="#111" stroke-width="0.22" text-anchor="end" fill="#111" >0.2</text>
<line x1="244.1" y1="248.4" x2="247.5" y2="248.4" stroke="#333" stroke-width="0.9" />
<text x="242.7" y="251.1" font-size="7.3" font-weight="bold" stroke="#111" stroke-width="0.22" text-anchor="end" fill="#111" >0.4</text>
<line x1="244.1" y1="224.3" x2="247.5" y2="224.3" stroke="#333" stroke-width="0.9" />
<text x="242.7" y="227" font-size="7.3" font-weight="bold" stroke="#111" stroke-width="0.22" text-anchor="end" fill="#111" >0.6</text>
<line x1="244.1" y1="200.2" x2="247.5" y2="200.2" stroke="#333" stroke-width="0.9" />
<text x="242.7" y="202.9" font-size="7.3" font-weight="bold" stroke="#111" stroke-width="0.22" text-anchor="end" fill="#111" >0.8</text>
<line x1="244.1" y1="176.1" x2="247.5" y2="176.1" stroke="#333" stroke-width="0.9" />
<text x="242.7" y="178.8" font-size="7.3" font-weight="bold" stroke="#111" stroke-width="0.22" text-anchor="end" fill="#111" >1.0</text>
<line x1="253.7" y1="303.7" x2="253.7" y2="306.3" stroke="#333" stroke-width="0.9" />
<text x="253.7" y="313.4" font-size="7.3" font-weight="bold" stroke="#111" stroke-width="0.22" text-anchor="middle" fill="#111" >0</text>
<line x1="267.15" y1="303.7" x2="267.15" y2="306.3" stroke="#333" stroke-width="0.9" />
<text x="267.15" y="313.4" font-size="7.3" font-weight="bold" stroke="#111" stroke-width="0.22" text-anchor="middle" fill="#111" >1</text>
<line x1="280.6" y1="303.7" x2="280.6" y2="306.3" stroke="#333" stroke-width="0.9" />
<text x="280.6" y="313.4" font-size="7.3" font-weight="bold" stroke="#111" stroke-width="0.22" text-anchor="middle" fill="#111" >2</text>
<line x1="294.05" y1="303.7" x2="294.05" y2="306.3" stroke="#333" stroke-width="0.9" />
<text x="294.05" y="313.4" font-size="7.3" font-weight="bold" stroke="#111" stroke-width="0.22" text-anchor="middle" fill="#111" >3</text>
<line x1="307.5" y1="303.7" x2="307.5" y2="306.3" stroke="#333" stroke-width="0.9" />
<text x="307.5" y="313.4" font-size="7.3" font-weight="bold" stroke="#111" stroke-width="0.22" text-anchor="middle" fill="#111" >4</text>
<line x1="320.95" y1="303.7" x2="320.95" y2="306.3" stroke="#333" stroke-width="0.9" />
<text x="320.95" y="313.4" font-size="7.3" font-weight="bold" stroke="#111" stroke-width="0.22" text-anchor="middle" fill="#111" >5</text>
<line x1="334.4" y1="303.7" x2="334.4" y2="306.3" stroke="#333" stroke-width="0.9" />
<text x="334.4" y="313.4" font-size="7.3" font-weight="bold" stroke="#111" stroke-width="0.22" text-anchor="middle" fill="#111" >6</text>
<line x1="347.85" y1="303.7" x2="347.85" y2="306.3" stroke="#333" stroke-width="0.9" />
<text x="347.85" y="313.4" font-size="7.3" font-weight="bold" stroke="#111" stroke-width="0.22" text-anchor="middle" fill="#111" >7</text>
<line x1="361.3" y1="303.7" x2="361.3" y2="306.3" stroke="#333" stroke-width="0.9" />
<text x="361.3" y="313.4" font-size="7.3" font-weight="bold" stroke="#111" stroke-width="0.22" text-anchor="middle" fill="#111" >8</text>
<text x="312.25" y="324.1" font-size="9.2" font-weight="bold" stroke="#111" stroke-width="0.22" text-anchor="middle" fill="#111" >time (years)</text>
<text x="363.8" y="179.7" font-size="7.75" font-weight="bold" stroke="#111" stroke-width="0.22" text-anchor="end" fill="#111" >protein tissue array</text>
<text x="312.8" y="193.4" font-size="7.7" text-anchor="start" fill="#222" >p=0.048</text>
<text x="0" y="0" font-size="8" font-weight="bold" stroke="#111" stroke-width="0.22" text-anchor="middle" fill="#111" transform="translate(229.2,229.9) rotate(-90)">Event free survival</text>
<polyline points="253.7,176.1 254.6,190 255.4,206 256,226.8 257.2,230.9 258.3,237.1 259.3,243.3 260.1,252.8 262.4,258.7 264.6,262.4 266.8,264.6 269.8,266.4 271.2,266.8 280.8,266.8 282.3,271.5 290.8,272.5 291.2,277.2 299,277.2 299.3,281 319.4,281 319.4,286.5 355,286.5 355,296.6" fill="none" stroke="#1d2a86" stroke-width="1.8" stroke-linejoin="miter"/>
<polyline points="253.7,176.1 255.2,182.8 256.2,194.2 257.3,197.3 257.9,214.9 260.4,215.9 261.4,220 263.5,220.5 264.5,222.1 264.6,235 267.5,243.9 269.8,249.8 270.5,255.1 288.5,255.1 288.5,263.3 292.5,263.3 292.5,274.7 311.7,274.7" fill="none" stroke="#3f9f3a" stroke-width="1.8" stroke-linejoin="miter"/>
<text x="298.9" y="266.6" font-size="7.8" font-weight="bold" stroke="#111" stroke-width="0.22" text-anchor="start" fill="#111" >AES high</text>
<text x="299.9" y="299.7" font-size="7.8" font-weight="bold" stroke="#111" stroke-width="0.22" text-anchor="start" fill="#111" >AES low</text>
<rect x="395.1" y="169.3" width="117.9" height="134.4" fill="none" stroke="#444" stroke-width="1.1" />
<line x1="391.7" y1="297.4" x2="395.1" y2="297.4" stroke="#333" stroke-width="0.9" />
<text x="391.5" y="300.1" font-size="7.3" font-weight="bold" stroke="#111" stroke-width="0.22" text-anchor="end" fill="#111" >0.0</text>
<line x1="391.7" y1="273.16" x2="395.1" y2="273.16" stroke="#333" stroke-width="0.9" />
<text x="391.5" y="275.86" font-size="7.3" font-weight="bold" stroke="#111" stroke-width="0.22" text-anchor="end" fill="#111" >0.2</text>
<line x1="391.7" y1="248.92" x2="395.1" y2="248.92" stroke="#333" stroke-width="0.9" />
<text x="391.5" y="251.62" font-size="7.3" font-weight="bold" stroke="#111" stroke-width="0.22" text-anchor="end" fill="#111" >0.4</text>
<line x1="391.7" y1="224.68" x2="395.1" y2="224.68" stroke="#333" stroke-width="0.9" />
<text x="391.5" y="227.38" font-size="7.3" font-weight="bold" stroke="#111" stroke-width="0.22" text-anchor="end" fill="#111" >0.6</text>
<line x1="391.7" y1="200.44" x2="395.1" y2="200.44" stroke="#333" stroke-width="0.9" />
<text x="391.5" y="203.14" font-size="7.3" font-weight="bold" stroke="#111" stroke-width="0.22" text-anchor="end" fill="#111" >0.8</text>
<line x1="391.7" y1="176.2" x2="395.1" y2="176.2" stroke="#333" stroke-width="0.9" />
<text x="391.5" y="178.9" font-size="7.3" font-weight="bold" stroke="#111" stroke-width="0.22" text-anchor="end" fill="#111" >1.0</text>
<line x1="400.9" y1="303.7" x2="400.9" y2="306.3" stroke="#333" stroke-width="0.9" />
<text x="400.9" y="313.4" font-size="7.3" font-weight="bold" stroke="#111" stroke-width="0.22" text-anchor="middle" fill="#111" >0</text>
<line x1="414.45" y1="303.7" x2="414.45" y2="306.3" stroke="#333" stroke-width="0.9" />
<text x="414.45" y="313.4" font-size="7.3" font-weight="bold" stroke="#111" stroke-width="0.22" text-anchor="middle" fill="#111" >1</text>
<line x1="428" y1="303.7" x2="428" y2="306.3" stroke="#333" stroke-width="0.9" />
<text x="428" y="313.4" font-size="7.3" font-weight="bold" stroke="#111" stroke-width="0.22" text-anchor="middle" fill="#111" >2</text>
<line x1="441.55" y1="303.7" x2="441.55" y2="306.3" stroke="#333" stroke-width="0.9" />
<text x="441.55" y="313.4" font-size="7.3" font-weight="bold" stroke="#111" stroke-width="0.22" text-anchor="middle" fill="#111" >3</text>
<line x1="455.1" y1="303.7" x2="455.1" y2="306.3" stroke="#333" stroke-width="0.9" />
<text x="455.1" y="313.4" font-size="7.3" font-weight="bold" stroke="#111" stroke-width="0.22" text-anchor="middle" fill="#111" >4</text>
<line x1="468.65" y1="303.7" x2="468.65" y2="306.3" stroke="#333" stroke-width="0.9" />
<text x="468.65" y="313.4" font-size="7.3" font-weight="bold" stroke="#111" stroke-width="0.22" text-anchor="middle" fill="#111" >5</text>
<line x1="482.2" y1="303.7" x2="482.2" y2="306.3" stroke="#333" stroke-width="0.9" />
<text x="482.2" y="313.4" font-size="7.3" font-weight="bold" stroke="#111" stroke-width="0.22" text-anchor="middle" fill="#111" >6</text>
<line x1="495.75" y1="303.7" x2="495.75" y2="306.3" stroke="#333" stroke-width="0.9" />
<text x="495.75" y="313.4" font-size="7.3" font-weight="bold" stroke="#111" stroke-width="0.22" text-anchor="middle" fill="#111" >7</text>
<line x1="509.3" y1="303.7" x2="509.3" y2="306.3" stroke="#333" stroke-width="0.9" />
<text x="509.3" y="313.4" font-size="7.3" font-weight="bold" stroke="#111" stroke-width="0.22" text-anchor="middle" fill="#111" >8</text>
<text x="459.25" y="324.1" font-size="9.2" font-weight="bold" stroke="#111" stroke-width="0.22" text-anchor="middle" fill="#111" >time (years)</text>
<text x="510.8" y="179.2" font-size="7.75" font-weight="bold" stroke="#111" stroke-width="0.22" text-anchor="end" fill="#111" >protein tissue array</text>
<text x="459" y="193.4" font-size="7.7" text-anchor="start" fill="#222" >p=0.019</text>
<text x="0" y="0" font-size="8" font-weight="bold" stroke="#111" stroke-width="0.22" text-anchor="middle" fill="#111" transform="translate(378.6,227.4) rotate(-90)">Overall survival</text>
<polyline points="401.1,176.1 402.1,188.6 404.2,209.3 407.3,223.8 410.4,233.1 412.1,238 413.5,245.1 416.3,246.3 418,249.2 420.4,251 421,255.7 426.9,255.7 428.1,261.7 437,261.7 438.2,263.8 450.6,263.8 451.2,267.6 481.3,267.6 481.3,277 504.4,277" fill="none" stroke="#1d2a86" stroke-width="1.8" stroke-linejoin="miter"/>
<polyline points="401.1,176.1 403,187 405,197.2 408.1,197.8 408.6,202.2 411.1,203.2 411.3,210.2 413.1,212 414.1,215.5 416.1,217.3 417.1,221.3 419.1,223.3 419.6,230.1 429.4,230.1 429.6,237.3 507.3,237.3" fill="none" stroke="#3f9f3a" stroke-width="1.8" stroke-linejoin="miter"/>
<text x="450.7" y="231" font-size="7.8" font-weight="bold" stroke="#111" stroke-width="0.22" text-anchor="start" fill="#111" >AES high</text>
<text x="449.7" y="277.2" font-size="7.8" font-weight="bold" stroke="#111" stroke-width="0.22" text-anchor="start" fill="#111" >AES low</text>
<line x1="280.4" y1="106" x2="280.4" y2="109" stroke="#3f9f3a" stroke-width="1.0" />
<line x1="284.2" y1="106" x2="284.2" y2="109" stroke="#3f9f3a" stroke-width="1.0" />
<line x1="289" y1="106" x2="289" y2="109" stroke="#3f9f3a" stroke-width="1.0" />
<line x1="293.8" y1="106" x2="293.8" y2="109" stroke="#3f9f3a" stroke-width="1.0" />
<line x1="298.7" y1="106" x2="298.7" y2="109" stroke="#3f9f3a" stroke-width="1.0" />
<line x1="306.3" y1="106" x2="306.3" y2="109" stroke="#3f9f3a" stroke-width="1.0" />
<line x1="318.8" y1="106" x2="318.8" y2="109" stroke="#3f9f3a" stroke-width="1.0" />
<line x1="337.1" y1="106" x2="337.1" y2="109" stroke="#3f9f3a" stroke-width="1.0" />
<line x1="357.3" y1="106" x2="357.3" y2="109" stroke="#3f9f3a" stroke-width="1.0" />
<line x1="279.4" y1="122" x2="279.4" y2="125" stroke="#1d2a86" stroke-width="1.0" />
<line x1="284.2" y1="122" x2="284.2" y2="125" stroke="#1d2a86" stroke-width="1.0" />
<line x1="290" y1="122" x2="290" y2="125" stroke="#1d2a86" stroke-width="1.0" />
<line x1="295.8" y1="122" x2="295.8" y2="125" stroke="#1d2a86" stroke-width="1.0" />
<line x1="306.3" y1="122" x2="306.3" y2="125" stroke="#1d2a86" stroke-width="1.0" />
<line x1="324.6" y1="122" x2="324.6" y2="125" stroke="#1d2a86" stroke-width="1.0" />
<line x1="358.5" y1="122" x2="358.5" y2="125" stroke="#1d2a86" stroke-width="1.0" />
<line x1="423.5" y1="96.2" x2="423.5" y2="99.2" stroke="#3f9f3a" stroke-width="1.0" />
<line x1="427.8" y1="96.2" x2="427.8" y2="99.2" stroke="#3f9f3a" stroke-width="1.0" />
<line x1="437.3" y1="99.5" x2="437.3" y2="102.5" stroke="#3f9f3a" stroke-width="1.0" />
<line x1="441.6" y1="99.5" x2="441.6" y2="102.5" stroke="#3f9f3a" stroke-width="1.0" />
<line x1="446" y1="99.5" x2="446" y2="102.5" stroke="#3f9f3a" stroke-width="1.0" />
<line x1="450.3" y1="99.5" x2="450.3" y2="102.5" stroke="#3f9f3a" stroke-width="1.0" />
<line x1="454.6" y1="99.5" x2="454.6" y2="102.5" stroke="#3f9f3a" stroke-width="1.0" />
<line x1="459.8" y1="99.5" x2="459.8" y2="102.5" stroke="#3f9f3a" stroke-width="1.0" />
<line x1="465" y1="99.5" x2="465" y2="102.5" stroke="#3f9f3a" stroke-width="1.0" />
<line x1="482.3" y1="99.5" x2="482.3" y2="102.5" stroke="#3f9f3a" stroke-width="1.0" />
<line x1="504" y1="99.5" x2="504" y2="102.5" stroke="#3f9f3a" stroke-width="1.0" />
<line x1="444.2" y1="114.9" x2="444.2" y2="117.9" stroke="#1d2a86" stroke-width="1.0" />
<line x1="448.5" y1="114.9" x2="448.5" y2="117.9" stroke="#1d2a86" stroke-width="1.0" />
<line x1="452.9" y1="114.9" x2="452.9" y2="117.9" stroke="#1d2a86" stroke-width="1.0" />
<line x1="470.2" y1="114.9" x2="470.2" y2="117.9" stroke="#1d2a86" stroke-width="1.0" />
<line x1="485.7" y1="114.9" x2="485.7" y2="117.9" stroke="#1d2a86" stroke-width="1.0" />
<line x1="504.3" y1="114.9" x2="504.3" y2="117.9" stroke="#1d2a86" stroke-width="1.0" />
<line x1="278.5" y1="253.8" x2="278.5" y2="256.8" stroke="#3f9f3a" stroke-width="1.0" />
<line x1="300.6" y1="273.3" x2="300.6" y2="276.3" stroke="#3f9f3a" stroke-width="1.0" />
<line x1="305.4" y1="273.3" x2="305.4" y2="276.3" stroke="#3f9f3a" stroke-width="1.0" />
<line x1="311" y1="273.3" x2="311" y2="276.3" stroke="#3f9f3a" stroke-width="1.0" />
<line x1="279.4" y1="266.3" x2="279.4" y2="269.3" stroke="#1d2a86" stroke-width="1.0" />
<line x1="304.4" y1="279.5" x2="304.4" y2="282.5" stroke="#1d2a86" stroke-width="1.0" />
<line x1="330.4" y1="285" x2="330.4" y2="288" stroke="#1d2a86" stroke-width="1.0" />
<line x1="449.6" y1="235.8" x2="449.6" y2="238.8" stroke="#3f9f3a" stroke-width="1.0" />
<line x1="460.2" y1="235.8" x2="460.2" y2="238.8" stroke="#3f9f3a" stroke-width="1.0" />
<line x1="470.8" y1="235.8" x2="470.8" y2="238.8" stroke="#3f9f3a" stroke-width="1.0" />
<line x1="481.3" y1="235.8" x2="481.3" y2="238.8" stroke="#3f9f3a" stroke-width="1.0" />
<line x1="489" y1="235.8" x2="489" y2="238.8" stroke="#3f9f3a" stroke-width="1.0" />
<line x1="495.8" y1="235.8" x2="495.8" y2="238.8" stroke="#3f9f3a" stroke-width="1.0" />
<line x1="506.3" y1="235.8" x2="506.3" y2="238.8" stroke="#3f9f3a" stroke-width="1.0" />
<line x1="459.2" y1="266.1" x2="459.2" y2="269.1" stroke="#1d2a86" stroke-width="1.0" />
<line x1="468.8" y1="266.1" x2="468.8" y2="269.1" stroke="#1d2a86" stroke-width="1.0" />
<line x1="474.6" y1="266.1" x2="474.6" y2="269.1" stroke="#1d2a86" stroke-width="1.0" />
<line x1="490" y1="275.5" x2="490" y2="278.5" stroke="#1d2a86" stroke-width="1.0" />
<line x1="497.7" y1="275.5" x2="497.7" y2="278.5" stroke="#1d2a86" stroke-width="1.0" />
<line x1="504.4" y1="275.5" x2="504.4" y2="278.5" stroke="#1d2a86" stroke-width="1.0" />
</svg>
</body></html>
